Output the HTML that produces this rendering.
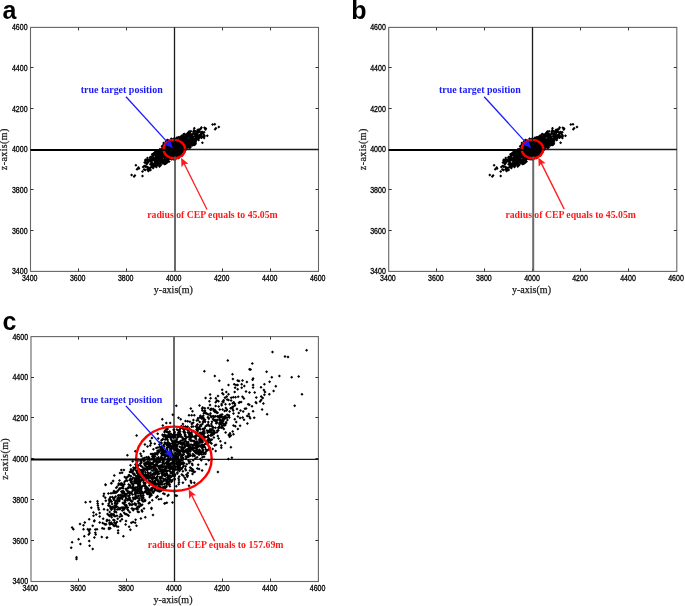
<!DOCTYPE html>
<html><head><meta charset="utf-8"><title>CEP scatter plots</title>
<style>html,body{margin:0;padding:0;background:#fff;}svg{display:block;}</style>
</head><body>
<svg width="685" height="606" viewBox="0 0 685 606">
<rect width="685" height="606" fill="#fff"/>
<g font-family="Liberation Sans, sans-serif" font-weight="bold" font-size="25" fill="#000"><text x="2.6" y="18.8">a</text><text x="351.2" y="18.8">b</text><text x="2.4" y="329.6">c</text></g>
<rect x="30.5" y="27.4" width="288" height="244" fill="none" stroke="#666" stroke-width="1.1"/>
<path d="M78.5 271.4v-3M78.5 27.4v3M30.5 230.5h3M318.5 230.5h-3M126.5 271.4v-3M126.5 27.4v3M30.5 189.5h3M318.5 189.5h-3M174.5 271.4v-3M174.5 27.4v3M30.5 149.5h3M318.5 149.5h-3M222.5 271.4v-3M222.5 27.4v3M30.5 108.5h3M318.5 108.5h-3M270.5 271.4v-3M270.5 27.4v3M30.5 67.5h3M318.5 67.5h-3" stroke="#333" stroke-width="1" fill="none"/>
<g font-family="Liberation Sans, sans-serif" font-size="8.2" fill="#000" stroke="#000" stroke-width="0.3"><text transform="translate(29.7 281) scale(0.86 1)" text-anchor="middle">3400</text><text transform="translate(27.6 274.3) scale(0.86 1)" text-anchor="end">3400</text><text transform="translate(77.7 281) scale(0.86 1)" text-anchor="middle">3600</text><text transform="translate(27.6 233.6) scale(0.86 1)" text-anchor="end">3600</text><text transform="translate(125.7 281) scale(0.86 1)" text-anchor="middle">3800</text><text transform="translate(27.6 193) scale(0.86 1)" text-anchor="end">3800</text><text transform="translate(173.7 281) scale(0.86 1)" text-anchor="middle">4000</text><text transform="translate(27.6 152.3) scale(0.86 1)" text-anchor="end">4000</text><text transform="translate(221.7 281) scale(0.86 1)" text-anchor="middle">4200</text><text transform="translate(27.6 111.6) scale(0.86 1)" text-anchor="end">4200</text><text transform="translate(269.7 281) scale(0.86 1)" text-anchor="middle">4400</text><text transform="translate(27.6 71) scale(0.86 1)" text-anchor="end">4400</text><text transform="translate(317.7 281) scale(0.86 1)" text-anchor="middle">4600</text><text transform="translate(27.6 30.3) scale(0.86 1)" text-anchor="end">4600</text></g>
<text x="173.3" y="292.7" text-anchor="middle" font-family="Liberation Serif, serif" font-size="10" fill="#1a1a1a" stroke="#1a1a1a" stroke-width="0.25" textLength="39" lengthAdjust="spacingAndGlyphs">y-axis(m)</text>
<text transform="translate(7.4 149.4) rotate(-90)" text-anchor="middle" font-family="Liberation Serif, serif" font-size="10" fill="#1a1a1a" stroke="#1a1a1a" stroke-width="0.25" textLength="41.5" lengthAdjust="spacing">z-axis(m)</text>
<line x1="30.5" y1="150" x2="174.5" y2="150" stroke="#000" stroke-width="2"/>
<line x1="174.5" y1="149.5" x2="318.5" y2="149.5" stroke="#1a1a1a" stroke-width="1.3"/>
<line x1="174.5" y1="27.4" x2="174.5" y2="149.4" stroke="#1a1a1a" stroke-width="1.3"/>
<line x1="175" y1="149.4" x2="175" y2="271.4" stroke="#6a6a6a" stroke-width="2"/>
<path fill="#000" d="M174.1 138.9l1.5 1.5-1.5 1.5-1.5-1.5zM175.7 141.4l1.5 1.5-1.5 1.5-1.5-1.5zM181.5 146.2l1.5 1.5-1.5 1.5-1.5-1.5zM171.2 156.8l1.5 1.5-1.5 1.5-1.5-1.5zM179.8 140.6l1.5 1.5-1.5 1.5-1.5-1.5zM181 147.6l1.5 1.5-1.5 1.5-1.5-1.5zM178.2 145.5l1.5 1.5-1.5 1.5-1.5-1.5zM175.1 148l1.5 1.5-1.5 1.5-1.5-1.5zM179.5 141.1l1.5 1.5-1.5 1.5-1.5-1.5zM167.2 156.3l1.5 1.5-1.5 1.5-1.5-1.5zM169.1 144.7l1.5 1.5-1.5 1.5-1.5-1.5zM168.8 152.2l1.5 1.5-1.5 1.5-1.5-1.5zM181 141.9l1.5 1.5-1.5 1.5-1.5-1.5zM173.1 145.1l1.5 1.5-1.5 1.5-1.5-1.5zM169 147.8l1.5 1.5-1.5 1.5-1.5-1.5zM166.8 156.9l1.5 1.5-1.5 1.5-1.5-1.5zM172.9 152.2l1.5 1.5-1.5 1.5-1.5-1.5zM176.5 150.4l1.5 1.5-1.5 1.5-1.5-1.5zM170.1 148.9l1.5 1.5-1.5 1.5-1.5-1.5zM190.9 137.9l1.5 1.5-1.5 1.5-1.5-1.5zM147.2 158.1l1.5 1.5-1.5 1.5-1.5-1.5zM175.9 154.1l1.5 1.5-1.5 1.5-1.5-1.5zM167.5 149l1.5 1.5-1.5 1.5-1.5-1.5zM179.9 149.9l1.5 1.5-1.5 1.5-1.5-1.5zM176.2 144.8l1.5 1.5-1.5 1.5-1.5-1.5zM201.5 131.8l1.5 1.5-1.5 1.5-1.5-1.5zM163.3 160.4l1.5 1.5-1.5 1.5-1.5-1.5zM165.8 145.6l1.5 1.5-1.5 1.5-1.5-1.5zM197.6 128.4l1.5 1.5-1.5 1.5-1.5-1.5zM181.3 141l1.5 1.5-1.5 1.5-1.5-1.5zM170.2 154.8l1.5 1.5-1.5 1.5-1.5-1.5zM151.3 157.6l1.5 1.5-1.5 1.5-1.5-1.5zM173.7 142.7l1.5 1.5-1.5 1.5-1.5-1.5zM178.6 150.7l1.5 1.5-1.5 1.5-1.5-1.5zM168.9 157.2l1.5 1.5-1.5 1.5-1.5-1.5zM171.5 145.6l1.5 1.5-1.5 1.5-1.5-1.5zM164.7 158.1l1.5 1.5-1.5 1.5-1.5-1.5zM168.6 142.5l1.5 1.5-1.5 1.5-1.5-1.5zM176.8 148.7l1.5 1.5-1.5 1.5-1.5-1.5zM169.8 140.7l1.5 1.5-1.5 1.5-1.5-1.5zM171.6 156.5l1.5 1.5-1.5 1.5-1.5-1.5zM182.5 143.9l1.5 1.5-1.5 1.5-1.5-1.5zM183.8 138.4l1.5 1.5-1.5 1.5-1.5-1.5zM181.6 149.5l1.5 1.5-1.5 1.5-1.5-1.5zM180.2 137.5l1.5 1.5-1.5 1.5-1.5-1.5zM169.3 153.3l1.5 1.5-1.5 1.5-1.5-1.5zM184.5 139.6l1.5 1.5-1.5 1.5-1.5-1.5zM161.5 157l1.5 1.5-1.5 1.5-1.5-1.5zM187.2 142.3l1.5 1.5-1.5 1.5-1.5-1.5zM170 142.4l1.5 1.5-1.5 1.5-1.5-1.5zM157.5 156l1.5 1.5-1.5 1.5-1.5-1.5zM164.9 142.9l1.5 1.5-1.5 1.5-1.5-1.5zM175.4 147.8l1.5 1.5-1.5 1.5-1.5-1.5zM175.3 142.2l1.5 1.5-1.5 1.5-1.5-1.5zM159.6 152.3l1.5 1.5-1.5 1.5-1.5-1.5zM156.1 150.7l1.5 1.5-1.5 1.5-1.5-1.5zM178.2 147.9l1.5 1.5-1.5 1.5-1.5-1.5zM166.9 149.3l1.5 1.5-1.5 1.5-1.5-1.5zM176.3 144.5l1.5 1.5-1.5 1.5-1.5-1.5zM150.2 156.1l1.5 1.5-1.5 1.5-1.5-1.5zM176.9 144.8l1.5 1.5-1.5 1.5-1.5-1.5zM193.2 142.6l1.5 1.5-1.5 1.5-1.5-1.5zM168.3 147l1.5 1.5-1.5 1.5-1.5-1.5zM160.8 149.7l1.5 1.5-1.5 1.5-1.5-1.5zM185.8 144.4l1.5 1.5-1.5 1.5-1.5-1.5zM176.3 144l1.5 1.5-1.5 1.5-1.5-1.5zM181.8 135.6l1.5 1.5-1.5 1.5-1.5-1.5zM168.8 148.8l1.5 1.5-1.5 1.5-1.5-1.5zM154.8 158.2l1.5 1.5-1.5 1.5-1.5-1.5zM173.6 149.5l1.5 1.5-1.5 1.5-1.5-1.5zM171.7 155.1l1.5 1.5-1.5 1.5-1.5-1.5zM181.4 137.9l1.5 1.5-1.5 1.5-1.5-1.5zM177.5 147.2l1.5 1.5-1.5 1.5-1.5-1.5zM156 163.5l1.5 1.5-1.5 1.5-1.5-1.5zM186.2 141.7l1.5 1.5-1.5 1.5-1.5-1.5zM185.6 146l1.5 1.5-1.5 1.5-1.5-1.5zM166.8 153.5l1.5 1.5-1.5 1.5-1.5-1.5zM174.5 148l1.5 1.5-1.5 1.5-1.5-1.5zM181.2 145.8l1.5 1.5-1.5 1.5-1.5-1.5zM179.4 142.9l1.5 1.5-1.5 1.5-1.5-1.5zM182.9 137.5l1.5 1.5-1.5 1.5-1.5-1.5zM179.3 148l1.5 1.5-1.5 1.5-1.5-1.5zM172.3 147.3l1.5 1.5-1.5 1.5-1.5-1.5zM172.9 152.1l1.5 1.5-1.5 1.5-1.5-1.5zM185.9 137.1l1.5 1.5-1.5 1.5-1.5-1.5zM145.7 164.9l1.5 1.5-1.5 1.5-1.5-1.5zM173.6 150.1l1.5 1.5-1.5 1.5-1.5-1.5zM174 146.4l1.5 1.5-1.5 1.5-1.5-1.5zM155.7 158l1.5 1.5-1.5 1.5-1.5-1.5zM180.8 148.2l1.5 1.5-1.5 1.5-1.5-1.5zM165.2 151.5l1.5 1.5-1.5 1.5-1.5-1.5zM183.6 138.9l1.5 1.5-1.5 1.5-1.5-1.5zM173.1 149.1l1.5 1.5-1.5 1.5-1.5-1.5zM185.2 145.6l1.5 1.5-1.5 1.5-1.5-1.5zM186.8 134.3l1.5 1.5-1.5 1.5-1.5-1.5zM179.3 144.9l1.5 1.5-1.5 1.5-1.5-1.5zM165.7 157.8l1.5 1.5-1.5 1.5-1.5-1.5zM157.6 162.6l1.5 1.5-1.5 1.5-1.5-1.5zM198.3 136.4l1.5 1.5-1.5 1.5-1.5-1.5zM169.4 143.9l1.5 1.5-1.5 1.5-1.5-1.5zM161.6 147.6l1.5 1.5-1.5 1.5-1.5-1.5zM174.2 143.9l1.5 1.5-1.5 1.5-1.5-1.5zM175.9 154.5l1.5 1.5-1.5 1.5-1.5-1.5zM187 143.5l1.5 1.5-1.5 1.5-1.5-1.5zM170.8 142.1l1.5 1.5-1.5 1.5-1.5-1.5zM172.1 144.3l1.5 1.5-1.5 1.5-1.5-1.5zM164.3 152l1.5 1.5-1.5 1.5-1.5-1.5zM178.1 141.1l1.5 1.5-1.5 1.5-1.5-1.5zM161.8 156.4l1.5 1.5-1.5 1.5-1.5-1.5zM182.1 141.6l1.5 1.5-1.5 1.5-1.5-1.5zM193 135l1.5 1.5-1.5 1.5-1.5-1.5zM157 162.1l1.5 1.5-1.5 1.5-1.5-1.5zM183.8 145.1l1.5 1.5-1.5 1.5-1.5-1.5zM205.8 126.9l1.5 1.5-1.5 1.5-1.5-1.5zM164.4 159.1l1.5 1.5-1.5 1.5-1.5-1.5zM165.1 156.1l1.5 1.5-1.5 1.5-1.5-1.5zM165.5 148.4l1.5 1.5-1.5 1.5-1.5-1.5zM172.8 154.2l1.5 1.5-1.5 1.5-1.5-1.5zM173.3 156.3l1.5 1.5-1.5 1.5-1.5-1.5zM179.2 147.3l1.5 1.5-1.5 1.5-1.5-1.5zM173.8 151.3l1.5 1.5-1.5 1.5-1.5-1.5zM173.6 154.5l1.5 1.5-1.5 1.5-1.5-1.5zM160.8 153.1l1.5 1.5-1.5 1.5-1.5-1.5zM171.1 143.2l1.5 1.5-1.5 1.5-1.5-1.5zM158.7 154.5l1.5 1.5-1.5 1.5-1.5-1.5zM161.5 157.5l1.5 1.5-1.5 1.5-1.5-1.5zM192.7 136.2l1.5 1.5-1.5 1.5-1.5-1.5zM175.4 150.4l1.5 1.5-1.5 1.5-1.5-1.5zM171.7 145.5l1.5 1.5-1.5 1.5-1.5-1.5zM179.4 141.8l1.5 1.5-1.5 1.5-1.5-1.5zM168.2 149.9l1.5 1.5-1.5 1.5-1.5-1.5zM168.5 145.5l1.5 1.5-1.5 1.5-1.5-1.5zM181.5 146.7l1.5 1.5-1.5 1.5-1.5-1.5zM179.2 147.1l1.5 1.5-1.5 1.5-1.5-1.5zM158.5 155.1l1.5 1.5-1.5 1.5-1.5-1.5zM183.7 139.6l1.5 1.5-1.5 1.5-1.5-1.5zM168.2 154l1.5 1.5-1.5 1.5-1.5-1.5zM158.8 153l1.5 1.5-1.5 1.5-1.5-1.5zM160.7 151.7l1.5 1.5-1.5 1.5-1.5-1.5zM169.2 150.4l1.5 1.5-1.5 1.5-1.5-1.5zM196.4 137l1.5 1.5-1.5 1.5-1.5-1.5zM160.6 158.3l1.5 1.5-1.5 1.5-1.5-1.5zM172.4 141.2l1.5 1.5-1.5 1.5-1.5-1.5zM148.8 166.3l1.5 1.5-1.5 1.5-1.5-1.5zM169.3 141l1.5 1.5-1.5 1.5-1.5-1.5zM187.4 142.9l1.5 1.5-1.5 1.5-1.5-1.5zM176.1 155.9l1.5 1.5-1.5 1.5-1.5-1.5zM164.1 149.6l1.5 1.5-1.5 1.5-1.5-1.5zM177.1 145.7l1.5 1.5-1.5 1.5-1.5-1.5zM185.2 144.9l1.5 1.5-1.5 1.5-1.5-1.5zM183.7 143.8l1.5 1.5-1.5 1.5-1.5-1.5zM201.2 134.9l1.5 1.5-1.5 1.5-1.5-1.5zM175.1 143.6l1.5 1.5-1.5 1.5-1.5-1.5zM170.5 157.1l1.5 1.5-1.5 1.5-1.5-1.5zM176.1 153.2l1.5 1.5-1.5 1.5-1.5-1.5zM169.7 143.3l1.5 1.5-1.5 1.5-1.5-1.5zM174.3 144.9l1.5 1.5-1.5 1.5-1.5-1.5zM174.8 149l1.5 1.5-1.5 1.5-1.5-1.5zM172 140.3l1.5 1.5-1.5 1.5-1.5-1.5zM154.2 162l1.5 1.5-1.5 1.5-1.5-1.5zM169.3 155.1l1.5 1.5-1.5 1.5-1.5-1.5zM158.2 155l1.5 1.5-1.5 1.5-1.5-1.5zM182.2 142.4l1.5 1.5-1.5 1.5-1.5-1.5zM187.1 132.3l1.5 1.5-1.5 1.5-1.5-1.5zM179 141.8l1.5 1.5-1.5 1.5-1.5-1.5zM175 144.6l1.5 1.5-1.5 1.5-1.5-1.5zM160.2 151.8l1.5 1.5-1.5 1.5-1.5-1.5zM182.7 137.2l1.5 1.5-1.5 1.5-1.5-1.5zM161.4 158.5l1.5 1.5-1.5 1.5-1.5-1.5zM165.9 155.6l1.5 1.5-1.5 1.5-1.5-1.5zM174.8 146.2l1.5 1.5-1.5 1.5-1.5-1.5zM182.1 153.9l1.5 1.5-1.5 1.5-1.5-1.5zM167.5 149.9l1.5 1.5-1.5 1.5-1.5-1.5zM189.4 137.5l1.5 1.5-1.5 1.5-1.5-1.5zM188.4 142.7l1.5 1.5-1.5 1.5-1.5-1.5zM178 151.5l1.5 1.5-1.5 1.5-1.5-1.5zM152.7 158.6l1.5 1.5-1.5 1.5-1.5-1.5zM183.6 132.8l1.5 1.5-1.5 1.5-1.5-1.5zM177.9 148.3l1.5 1.5-1.5 1.5-1.5-1.5zM180.5 142.3l1.5 1.5-1.5 1.5-1.5-1.5zM160.9 156l1.5 1.5-1.5 1.5-1.5-1.5zM199.5 136.1l1.5 1.5-1.5 1.5-1.5-1.5zM198.6 130.3l1.5 1.5-1.5 1.5-1.5-1.5zM165.5 162.2l1.5 1.5-1.5 1.5-1.5-1.5zM181.3 147.7l1.5 1.5-1.5 1.5-1.5-1.5zM164.7 151.4l1.5 1.5-1.5 1.5-1.5-1.5zM173.9 147.7l1.5 1.5-1.5 1.5-1.5-1.5zM172.6 152.7l1.5 1.5-1.5 1.5-1.5-1.5zM178.2 140.4l1.5 1.5-1.5 1.5-1.5-1.5zM164.5 150.6l1.5 1.5-1.5 1.5-1.5-1.5zM171.1 149.3l1.5 1.5-1.5 1.5-1.5-1.5zM171.4 157.6l1.5 1.5-1.5 1.5-1.5-1.5zM170.5 145.9l1.5 1.5-1.5 1.5-1.5-1.5zM158 154.8l1.5 1.5-1.5 1.5-1.5-1.5zM171.8 155l1.5 1.5-1.5 1.5-1.5-1.5zM168.7 145.3l1.5 1.5-1.5 1.5-1.5-1.5zM172.1 153l1.5 1.5-1.5 1.5-1.5-1.5zM171.7 142.8l1.5 1.5-1.5 1.5-1.5-1.5zM170.2 149.4l1.5 1.5-1.5 1.5-1.5-1.5zM185.8 144.4l1.5 1.5-1.5 1.5-1.5-1.5zM163.7 141.4l1.5 1.5-1.5 1.5-1.5-1.5zM168.2 142.8l1.5 1.5-1.5 1.5-1.5-1.5zM163.5 149.6l1.5 1.5-1.5 1.5-1.5-1.5zM170.5 155.5l1.5 1.5-1.5 1.5-1.5-1.5zM159.1 158.5l1.5 1.5-1.5 1.5-1.5-1.5zM179.5 141.8l1.5 1.5-1.5 1.5-1.5-1.5zM161.2 158.3l1.5 1.5-1.5 1.5-1.5-1.5zM166.8 156l1.5 1.5-1.5 1.5-1.5-1.5zM177.8 143.5l1.5 1.5-1.5 1.5-1.5-1.5zM178.9 143.8l1.5 1.5-1.5 1.5-1.5-1.5zM173.4 156.3l1.5 1.5-1.5 1.5-1.5-1.5zM145.3 158.7l1.5 1.5-1.5 1.5-1.5-1.5zM179.9 144.8l1.5 1.5-1.5 1.5-1.5-1.5zM171.3 137.3l1.5 1.5-1.5 1.5-1.5-1.5zM156.1 158.1l1.5 1.5-1.5 1.5-1.5-1.5zM185.1 143l1.5 1.5-1.5 1.5-1.5-1.5zM167.6 155.9l1.5 1.5-1.5 1.5-1.5-1.5zM157.7 153.2l1.5 1.5-1.5 1.5-1.5-1.5zM176.8 148.7l1.5 1.5-1.5 1.5-1.5-1.5zM171.8 148.7l1.5 1.5-1.5 1.5-1.5-1.5zM173.8 141.9l1.5 1.5-1.5 1.5-1.5-1.5zM197.5 133.9l1.5 1.5-1.5 1.5-1.5-1.5zM167.4 153.3l1.5 1.5-1.5 1.5-1.5-1.5zM154.7 159.4l1.5 1.5-1.5 1.5-1.5-1.5zM185.9 147.9l1.5 1.5-1.5 1.5-1.5-1.5zM165.5 144.6l1.5 1.5-1.5 1.5-1.5-1.5zM176.8 142.9l1.5 1.5-1.5 1.5-1.5-1.5zM174.2 155.8l1.5 1.5-1.5 1.5-1.5-1.5zM177.5 153.4l1.5 1.5-1.5 1.5-1.5-1.5zM179.8 148.9l1.5 1.5-1.5 1.5-1.5-1.5zM168.6 151.7l1.5 1.5-1.5 1.5-1.5-1.5zM162.6 153.4l1.5 1.5-1.5 1.5-1.5-1.5zM179 151.9l1.5 1.5-1.5 1.5-1.5-1.5zM181.3 146.1l1.5 1.5-1.5 1.5-1.5-1.5zM166.7 143.1l1.5 1.5-1.5 1.5-1.5-1.5zM159.5 149.1l1.5 1.5-1.5 1.5-1.5-1.5zM150.1 158.7l1.5 1.5-1.5 1.5-1.5-1.5zM161 155.3l1.5 1.5-1.5 1.5-1.5-1.5zM171.5 142.9l1.5 1.5-1.5 1.5-1.5-1.5zM160.5 162.8l1.5 1.5-1.5 1.5-1.5-1.5zM174.6 147.4l1.5 1.5-1.5 1.5-1.5-1.5zM171.6 145.4l1.5 1.5-1.5 1.5-1.5-1.5zM189.9 146.3l1.5 1.5-1.5 1.5-1.5-1.5zM162.6 154.6l1.5 1.5-1.5 1.5-1.5-1.5zM166.5 152.6l1.5 1.5-1.5 1.5-1.5-1.5zM177.6 143.8l1.5 1.5-1.5 1.5-1.5-1.5zM144.1 168l1.5 1.5-1.5 1.5-1.5-1.5zM163.2 150.1l1.5 1.5-1.5 1.5-1.5-1.5zM168.3 157.6l1.5 1.5-1.5 1.5-1.5-1.5zM188.4 145.2l1.5 1.5-1.5 1.5-1.5-1.5zM177.5 152.9l1.5 1.5-1.5 1.5-1.5-1.5zM150.8 160.2l1.5 1.5-1.5 1.5-1.5-1.5zM182.6 143.2l1.5 1.5-1.5 1.5-1.5-1.5zM183.4 138.8l1.5 1.5-1.5 1.5-1.5-1.5zM167.6 149.8l1.5 1.5-1.5 1.5-1.5-1.5zM173 152.8l1.5 1.5-1.5 1.5-1.5-1.5zM182.4 146.4l1.5 1.5-1.5 1.5-1.5-1.5zM160.7 151.9l1.5 1.5-1.5 1.5-1.5-1.5zM177.9 141.6l1.5 1.5-1.5 1.5-1.5-1.5zM181.3 152l1.5 1.5-1.5 1.5-1.5-1.5zM167.2 154.9l1.5 1.5-1.5 1.5-1.5-1.5zM153.6 154.3l1.5 1.5-1.5 1.5-1.5-1.5zM173.6 152.2l1.5 1.5-1.5 1.5-1.5-1.5zM162.6 153.6l1.5 1.5-1.5 1.5-1.5-1.5zM190.4 144.5l1.5 1.5-1.5 1.5-1.5-1.5zM172.8 142.1l1.5 1.5-1.5 1.5-1.5-1.5zM185.8 143.7l1.5 1.5-1.5 1.5-1.5-1.5zM177.7 148.9l1.5 1.5-1.5 1.5-1.5-1.5zM176.5 144.1l1.5 1.5-1.5 1.5-1.5-1.5zM164.6 154l1.5 1.5-1.5 1.5-1.5-1.5zM182.3 141.9l1.5 1.5-1.5 1.5-1.5-1.5zM194 129.9l1.5 1.5-1.5 1.5-1.5-1.5zM170.4 150l1.5 1.5-1.5 1.5-1.5-1.5zM166.3 151.6l1.5 1.5-1.5 1.5-1.5-1.5zM167.5 142.4l1.5 1.5-1.5 1.5-1.5-1.5zM168.5 151.7l1.5 1.5-1.5 1.5-1.5-1.5zM165.7 153.5l1.5 1.5-1.5 1.5-1.5-1.5zM173.2 142.8l1.5 1.5-1.5 1.5-1.5-1.5zM174.4 155l1.5 1.5-1.5 1.5-1.5-1.5zM189.5 132.4l1.5 1.5-1.5 1.5-1.5-1.5zM174.8 148.3l1.5 1.5-1.5 1.5-1.5-1.5zM180.7 148.2l1.5 1.5-1.5 1.5-1.5-1.5zM188.3 142.8l1.5 1.5-1.5 1.5-1.5-1.5zM172.7 152.9l1.5 1.5-1.5 1.5-1.5-1.5zM191 134.5l1.5 1.5-1.5 1.5-1.5-1.5zM168 154.8l1.5 1.5-1.5 1.5-1.5-1.5zM171.7 153.2l1.5 1.5-1.5 1.5-1.5-1.5zM170.8 145.8l1.5 1.5-1.5 1.5-1.5-1.5zM156.8 158.8l1.5 1.5-1.5 1.5-1.5-1.5zM176.1 150.9l1.5 1.5-1.5 1.5-1.5-1.5zM156 164.3l1.5 1.5-1.5 1.5-1.5-1.5zM189.2 133.2l1.5 1.5-1.5 1.5-1.5-1.5zM175.3 150.9l1.5 1.5-1.5 1.5-1.5-1.5zM164.2 150l1.5 1.5-1.5 1.5-1.5-1.5zM170.4 151.9l1.5 1.5-1.5 1.5-1.5-1.5zM174.4 153.3l1.5 1.5-1.5 1.5-1.5-1.5zM161.7 156.6l1.5 1.5-1.5 1.5-1.5-1.5zM162 153.9l1.5 1.5-1.5 1.5-1.5-1.5zM173.5 151.1l1.5 1.5-1.5 1.5-1.5-1.5zM166.5 150l1.5 1.5-1.5 1.5-1.5-1.5zM183.3 136.5l1.5 1.5-1.5 1.5-1.5-1.5zM189.2 139.5l1.5 1.5-1.5 1.5-1.5-1.5zM178.5 152.8l1.5 1.5-1.5 1.5-1.5-1.5zM177.7 140.4l1.5 1.5-1.5 1.5-1.5-1.5zM159.2 160.4l1.5 1.5-1.5 1.5-1.5-1.5zM183 143.5l1.5 1.5-1.5 1.5-1.5-1.5zM170.7 143.6l1.5 1.5-1.5 1.5-1.5-1.5zM180.5 144l1.5 1.5-1.5 1.5-1.5-1.5zM196.1 137.2l1.5 1.5-1.5 1.5-1.5-1.5zM145.2 165.1l1.5 1.5-1.5 1.5-1.5-1.5zM181.9 151.3l1.5 1.5-1.5 1.5-1.5-1.5zM161.4 157.6l1.5 1.5-1.5 1.5-1.5-1.5zM155.9 155.4l1.5 1.5-1.5 1.5-1.5-1.5zM169.5 153.5l1.5 1.5-1.5 1.5-1.5-1.5zM177.2 146.5l1.5 1.5-1.5 1.5-1.5-1.5zM179.3 139.1l1.5 1.5-1.5 1.5-1.5-1.5zM172.9 144l1.5 1.5-1.5 1.5-1.5-1.5zM163.1 152.3l1.5 1.5-1.5 1.5-1.5-1.5zM164.6 148.3l1.5 1.5-1.5 1.5-1.5-1.5zM183.9 138.6l1.5 1.5-1.5 1.5-1.5-1.5zM174.5 148l1.5 1.5-1.5 1.5-1.5-1.5zM150.3 157.2l1.5 1.5-1.5 1.5-1.5-1.5zM181.2 136l1.5 1.5-1.5 1.5-1.5-1.5zM180.8 146.1l1.5 1.5-1.5 1.5-1.5-1.5zM185.2 140.6l1.5 1.5-1.5 1.5-1.5-1.5zM175.2 157.1l1.5 1.5-1.5 1.5-1.5-1.5zM188.1 145.6l1.5 1.5-1.5 1.5-1.5-1.5zM160.2 155l1.5 1.5-1.5 1.5-1.5-1.5zM183.4 145.7l1.5 1.5-1.5 1.5-1.5-1.5zM167.3 150.4l1.5 1.5-1.5 1.5-1.5-1.5zM184.3 144.3l1.5 1.5-1.5 1.5-1.5-1.5zM188.3 141.6l1.5 1.5-1.5 1.5-1.5-1.5zM165 153.4l1.5 1.5-1.5 1.5-1.5-1.5zM175.8 150.9l1.5 1.5-1.5 1.5-1.5-1.5zM172.9 144.8l1.5 1.5-1.5 1.5-1.5-1.5zM192.5 142.5l1.5 1.5-1.5 1.5-1.5-1.5zM183.7 142.7l1.5 1.5-1.5 1.5-1.5-1.5zM154.4 151.2l1.5 1.5-1.5 1.5-1.5-1.5zM180.1 144.1l1.5 1.5-1.5 1.5-1.5-1.5zM186.3 145.2l1.5 1.5-1.5 1.5-1.5-1.5zM204.1 135l1.5 1.5-1.5 1.5-1.5-1.5zM150.6 157.4l1.5 1.5-1.5 1.5-1.5-1.5zM165.3 148.9l1.5 1.5-1.5 1.5-1.5-1.5zM194.3 141.4l1.5 1.5-1.5 1.5-1.5-1.5zM158.7 160.2l1.5 1.5-1.5 1.5-1.5-1.5zM184 147.8l1.5 1.5-1.5 1.5-1.5-1.5zM183.1 134.2l1.5 1.5-1.5 1.5-1.5-1.5zM165.1 151.8l1.5 1.5-1.5 1.5-1.5-1.5zM183.7 146.8l1.5 1.5-1.5 1.5-1.5-1.5zM176.8 148.1l1.5 1.5-1.5 1.5-1.5-1.5zM195.6 138.6l1.5 1.5-1.5 1.5-1.5-1.5zM175.6 149.4l1.5 1.5-1.5 1.5-1.5-1.5zM186.3 139.3l1.5 1.5-1.5 1.5-1.5-1.5zM168.7 144.7l1.5 1.5-1.5 1.5-1.5-1.5zM171.8 146.7l1.5 1.5-1.5 1.5-1.5-1.5zM192.1 143.2l1.5 1.5-1.5 1.5-1.5-1.5zM183.7 141.1l1.5 1.5-1.5 1.5-1.5-1.5zM171.3 146.3l1.5 1.5-1.5 1.5-1.5-1.5zM175 154.9l1.5 1.5-1.5 1.5-1.5-1.5zM168.1 144.2l1.5 1.5-1.5 1.5-1.5-1.5zM181.7 151.7l1.5 1.5-1.5 1.5-1.5-1.5zM165.8 157.7l1.5 1.5-1.5 1.5-1.5-1.5zM179.8 136.7l1.5 1.5-1.5 1.5-1.5-1.5zM160.4 162.9l1.5 1.5-1.5 1.5-1.5-1.5zM167.7 150.6l1.5 1.5-1.5 1.5-1.5-1.5zM197.5 129.5l1.5 1.5-1.5 1.5-1.5-1.5zM151.8 157.1l1.5 1.5-1.5 1.5-1.5-1.5zM184.4 147.2l1.5 1.5-1.5 1.5-1.5-1.5zM187.9 142.5l1.5 1.5-1.5 1.5-1.5-1.5zM178 143.3l1.5 1.5-1.5 1.5-1.5-1.5zM188.7 137.8l1.5 1.5-1.5 1.5-1.5-1.5zM147.5 168.1l1.5 1.5-1.5 1.5-1.5-1.5zM162.8 161.7l1.5 1.5-1.5 1.5-1.5-1.5zM174.5 156l1.5 1.5-1.5 1.5-1.5-1.5zM159.6 157.1l1.5 1.5-1.5 1.5-1.5-1.5zM187.4 139.1l1.5 1.5-1.5 1.5-1.5-1.5zM164.7 152.6l1.5 1.5-1.5 1.5-1.5-1.5zM188.4 144.2l1.5 1.5-1.5 1.5-1.5-1.5zM175.7 146.5l1.5 1.5-1.5 1.5-1.5-1.5zM166.3 140.4l1.5 1.5-1.5 1.5-1.5-1.5zM177 149.8l1.5 1.5-1.5 1.5-1.5-1.5zM174.7 153.2l1.5 1.5-1.5 1.5-1.5-1.5zM181.1 141.5l1.5 1.5-1.5 1.5-1.5-1.5zM176.3 142.7l1.5 1.5-1.5 1.5-1.5-1.5zM167.6 147.3l1.5 1.5-1.5 1.5-1.5-1.5zM185.8 138.1l1.5 1.5-1.5 1.5-1.5-1.5zM163.3 148l1.5 1.5-1.5 1.5-1.5-1.5zM172.4 138l1.5 1.5-1.5 1.5-1.5-1.5zM174.1 137l1.5 1.5-1.5 1.5-1.5-1.5zM190.6 133l1.5 1.5-1.5 1.5-1.5-1.5zM166.6 149.9l1.5 1.5-1.5 1.5-1.5-1.5zM178.8 149.4l1.5 1.5-1.5 1.5-1.5-1.5zM176.4 155.2l1.5 1.5-1.5 1.5-1.5-1.5zM167.5 155.2l1.5 1.5-1.5 1.5-1.5-1.5zM181.7 143.1l1.5 1.5-1.5 1.5-1.5-1.5zM172.5 144l1.5 1.5-1.5 1.5-1.5-1.5zM163.9 160.9l1.5 1.5-1.5 1.5-1.5-1.5zM167.8 152.7l1.5 1.5-1.5 1.5-1.5-1.5zM187.8 138.8l1.5 1.5-1.5 1.5-1.5-1.5zM195.6 142.2l1.5 1.5-1.5 1.5-1.5-1.5zM188.8 145.5l1.5 1.5-1.5 1.5-1.5-1.5zM179.5 145.7l1.5 1.5-1.5 1.5-1.5-1.5zM172.5 155.8l1.5 1.5-1.5 1.5-1.5-1.5zM175.1 147.4l1.5 1.5-1.5 1.5-1.5-1.5zM185.6 141l1.5 1.5-1.5 1.5-1.5-1.5zM199 128l1.5 1.5-1.5 1.5-1.5-1.5zM189.6 145.5l1.5 1.5-1.5 1.5-1.5-1.5zM174.8 155.2l1.5 1.5-1.5 1.5-1.5-1.5zM170.2 154.1l1.5 1.5-1.5 1.5-1.5-1.5zM159.9 147.8l1.5 1.5-1.5 1.5-1.5-1.5zM172.6 149.9l1.5 1.5-1.5 1.5-1.5-1.5zM178.3 148.2l1.5 1.5-1.5 1.5-1.5-1.5zM172.4 143.9l1.5 1.5-1.5 1.5-1.5-1.5zM193.8 140.2l1.5 1.5-1.5 1.5-1.5-1.5zM198.6 136.4l1.5 1.5-1.5 1.5-1.5-1.5zM173.2 144.2l1.5 1.5-1.5 1.5-1.5-1.5zM196.2 137.1l1.5 1.5-1.5 1.5-1.5-1.5zM182.2 140.5l1.5 1.5-1.5 1.5-1.5-1.5zM170.1 152.3l1.5 1.5-1.5 1.5-1.5-1.5zM178.5 146.6l1.5 1.5-1.5 1.5-1.5-1.5zM173.9 146.6l1.5 1.5-1.5 1.5-1.5-1.5zM172 150.3l1.5 1.5-1.5 1.5-1.5-1.5zM176.3 155.1l1.5 1.5-1.5 1.5-1.5-1.5zM176 146.4l1.5 1.5-1.5 1.5-1.5-1.5zM183.4 149l1.5 1.5-1.5 1.5-1.5-1.5zM164.1 155.9l1.5 1.5-1.5 1.5-1.5-1.5zM175.8 149.9l1.5 1.5-1.5 1.5-1.5-1.5zM157.9 163.3l1.5 1.5-1.5 1.5-1.5-1.5zM171.8 137.9l1.5 1.5-1.5 1.5-1.5-1.5zM172.8 141.6l1.5 1.5-1.5 1.5-1.5-1.5zM182.3 151.2l1.5 1.5-1.5 1.5-1.5-1.5zM183.9 145.8l1.5 1.5-1.5 1.5-1.5-1.5zM162.9 148.9l1.5 1.5-1.5 1.5-1.5-1.5zM171.3 149.5l1.5 1.5-1.5 1.5-1.5-1.5zM180.6 143.4l1.5 1.5-1.5 1.5-1.5-1.5zM177.6 142.3l1.5 1.5-1.5 1.5-1.5-1.5zM172.6 147.7l1.5 1.5-1.5 1.5-1.5-1.5zM187.4 140.5l1.5 1.5-1.5 1.5-1.5-1.5zM191 138.7l1.5 1.5-1.5 1.5-1.5-1.5zM167.5 141.8l1.5 1.5-1.5 1.5-1.5-1.5zM157.6 154.6l1.5 1.5-1.5 1.5-1.5-1.5zM175 144.5l1.5 1.5-1.5 1.5-1.5-1.5zM177.3 145l1.5 1.5-1.5 1.5-1.5-1.5zM177.6 147.7l1.5 1.5-1.5 1.5-1.5-1.5zM172.6 154.7l1.5 1.5-1.5 1.5-1.5-1.5zM181.2 143.1l1.5 1.5-1.5 1.5-1.5-1.5zM150.1 168l1.5 1.5-1.5 1.5-1.5-1.5zM172.8 140l1.5 1.5-1.5 1.5-1.5-1.5zM179 153.3l1.5 1.5-1.5 1.5-1.5-1.5zM160.4 162.8l1.5 1.5-1.5 1.5-1.5-1.5zM204.6 134.4l1.5 1.5-1.5 1.5-1.5-1.5zM156.3 157.9l1.5 1.5-1.5 1.5-1.5-1.5zM158.3 152.8l1.5 1.5-1.5 1.5-1.5-1.5zM157.8 155.2l1.5 1.5-1.5 1.5-1.5-1.5zM188.9 139.8l1.5 1.5-1.5 1.5-1.5-1.5zM184.8 145.1l1.5 1.5-1.5 1.5-1.5-1.5zM182.6 144.2l1.5 1.5-1.5 1.5-1.5-1.5zM174.9 142.1l1.5 1.5-1.5 1.5-1.5-1.5zM160.7 161.7l1.5 1.5-1.5 1.5-1.5-1.5zM165.2 150.6l1.5 1.5-1.5 1.5-1.5-1.5zM197.8 137.8l1.5 1.5-1.5 1.5-1.5-1.5zM160.2 160.6l1.5 1.5-1.5 1.5-1.5-1.5zM163.7 154l1.5 1.5-1.5 1.5-1.5-1.5zM173.1 150.1l1.5 1.5-1.5 1.5-1.5-1.5zM184.8 141.7l1.5 1.5-1.5 1.5-1.5-1.5zM178.1 146.5l1.5 1.5-1.5 1.5-1.5-1.5zM181.4 138.9l1.5 1.5-1.5 1.5-1.5-1.5zM157.9 152.1l1.5 1.5-1.5 1.5-1.5-1.5zM190.4 145.8l1.5 1.5-1.5 1.5-1.5-1.5zM177.1 137.4l1.5 1.5-1.5 1.5-1.5-1.5zM192 133.3l1.5 1.5-1.5 1.5-1.5-1.5zM204.1 130.8l1.5 1.5-1.5 1.5-1.5-1.5zM176.4 149.1l1.5 1.5-1.5 1.5-1.5-1.5zM192.1 136.9l1.5 1.5-1.5 1.5-1.5-1.5zM158.1 162.5l1.5 1.5-1.5 1.5-1.5-1.5zM147.7 161.2l1.5 1.5-1.5 1.5-1.5-1.5zM153.6 152l1.5 1.5-1.5 1.5-1.5-1.5zM168.4 153.7l1.5 1.5-1.5 1.5-1.5-1.5zM164.3 148.5l1.5 1.5-1.5 1.5-1.5-1.5zM185.5 147.6l1.5 1.5-1.5 1.5-1.5-1.5zM176.3 143.7l1.5 1.5-1.5 1.5-1.5-1.5zM182.7 144.8l1.5 1.5-1.5 1.5-1.5-1.5zM199.4 134.9l1.5 1.5-1.5 1.5-1.5-1.5zM186.6 134.6l1.5 1.5-1.5 1.5-1.5-1.5zM184.2 136.4l1.5 1.5-1.5 1.5-1.5-1.5zM174.9 147.9l1.5 1.5-1.5 1.5-1.5-1.5zM186.6 139.8l1.5 1.5-1.5 1.5-1.5-1.5zM161.6 154.5l1.5 1.5-1.5 1.5-1.5-1.5zM181.2 138.4l1.5 1.5-1.5 1.5-1.5-1.5zM171.2 145.6l1.5 1.5-1.5 1.5-1.5-1.5zM188.4 138.5l1.5 1.5-1.5 1.5-1.5-1.5zM182.9 147.6l1.5 1.5-1.5 1.5-1.5-1.5zM164.9 161.9l1.5 1.5-1.5 1.5-1.5-1.5zM189.1 137.3l1.5 1.5-1.5 1.5-1.5-1.5zM165.1 149.1l1.5 1.5-1.5 1.5-1.5-1.5zM161.4 149.3l1.5 1.5-1.5 1.5-1.5-1.5zM154.9 158.7l1.5 1.5-1.5 1.5-1.5-1.5zM185.8 139.2l1.5 1.5-1.5 1.5-1.5-1.5zM195 142.9l1.5 1.5-1.5 1.5-1.5-1.5zM184.6 141.7l1.5 1.5-1.5 1.5-1.5-1.5zM181.4 151.1l1.5 1.5-1.5 1.5-1.5-1.5zM171.8 145.6l1.5 1.5-1.5 1.5-1.5-1.5zM181.6 151.4l1.5 1.5-1.5 1.5-1.5-1.5zM161.5 148.6l1.5 1.5-1.5 1.5-1.5-1.5zM186.2 141.4l1.5 1.5-1.5 1.5-1.5-1.5zM185.9 137.4l1.5 1.5-1.5 1.5-1.5-1.5zM185.3 139.3l1.5 1.5-1.5 1.5-1.5-1.5zM171.9 157.5l1.5 1.5-1.5 1.5-1.5-1.5zM179.5 152.6l1.5 1.5-1.5 1.5-1.5-1.5zM168.8 144.3l1.5 1.5-1.5 1.5-1.5-1.5zM196.5 133.2l1.5 1.5-1.5 1.5-1.5-1.5zM174 142.9l1.5 1.5-1.5 1.5-1.5-1.5zM177.3 141.8l1.5 1.5-1.5 1.5-1.5-1.5zM183.8 143.4l1.5 1.5-1.5 1.5-1.5-1.5zM187.9 144.1l1.5 1.5-1.5 1.5-1.5-1.5zM174.1 146.5l1.5 1.5-1.5 1.5-1.5-1.5zM148 161.1l1.5 1.5-1.5 1.5-1.5-1.5zM149.4 159.1l1.5 1.5-1.5 1.5-1.5-1.5zM155.3 153l1.5 1.5-1.5 1.5-1.5-1.5zM169.9 144.8l1.5 1.5-1.5 1.5-1.5-1.5zM174.2 139.9l1.5 1.5-1.5 1.5-1.5-1.5zM184.6 144.4l1.5 1.5-1.5 1.5-1.5-1.5zM171.9 152.8l1.5 1.5-1.5 1.5-1.5-1.5zM185.4 138.8l1.5 1.5-1.5 1.5-1.5-1.5zM167.9 146.1l1.5 1.5-1.5 1.5-1.5-1.5zM164 151.2l1.5 1.5-1.5 1.5-1.5-1.5zM184.6 140.3l1.5 1.5-1.5 1.5-1.5-1.5zM163.7 159.6l1.5 1.5-1.5 1.5-1.5-1.5zM177.1 149.1l1.5 1.5-1.5 1.5-1.5-1.5zM166.8 146.5l1.5 1.5-1.5 1.5-1.5-1.5zM174.4 156l1.5 1.5-1.5 1.5-1.5-1.5zM158.4 161.6l1.5 1.5-1.5 1.5-1.5-1.5zM153.6 156.6l1.5 1.5-1.5 1.5-1.5-1.5zM169.3 152.4l1.5 1.5-1.5 1.5-1.5-1.5zM165.6 149.5l1.5 1.5-1.5 1.5-1.5-1.5zM194.4 143.3l1.5 1.5-1.5 1.5-1.5-1.5zM179.4 145.1l1.5 1.5-1.5 1.5-1.5-1.5zM152.6 157.6l1.5 1.5-1.5 1.5-1.5-1.5zM161.1 151.1l1.5 1.5-1.5 1.5-1.5-1.5zM183.3 142.2l1.5 1.5-1.5 1.5-1.5-1.5zM199.4 134.4l1.5 1.5-1.5 1.5-1.5-1.5zM179.7 145.3l1.5 1.5-1.5 1.5-1.5-1.5zM176.7 143.1l1.5 1.5-1.5 1.5-1.5-1.5zM196.6 131.5l1.5 1.5-1.5 1.5-1.5-1.5zM176.3 150.8l1.5 1.5-1.5 1.5-1.5-1.5zM172.7 153.1l1.5 1.5-1.5 1.5-1.5-1.5zM155.4 157.3l1.5 1.5-1.5 1.5-1.5-1.5zM171.1 156l1.5 1.5-1.5 1.5-1.5-1.5zM203.8 133.3l1.5 1.5-1.5 1.5-1.5-1.5zM172.9 145.5l1.5 1.5-1.5 1.5-1.5-1.5zM157.4 159.8l1.5 1.5-1.5 1.5-1.5-1.5zM177.7 149l1.5 1.5-1.5 1.5-1.5-1.5zM188.3 144.4l1.5 1.5-1.5 1.5-1.5-1.5zM174.6 154l1.5 1.5-1.5 1.5-1.5-1.5zM184.9 143.8l1.5 1.5-1.5 1.5-1.5-1.5zM181.5 139.5l1.5 1.5-1.5 1.5-1.5-1.5zM177.3 140.6l1.5 1.5-1.5 1.5-1.5-1.5zM194.4 132.2l1.5 1.5-1.5 1.5-1.5-1.5zM169.6 148.9l1.5 1.5-1.5 1.5-1.5-1.5zM168 156l1.5 1.5-1.5 1.5-1.5-1.5zM162.9 153.2l1.5 1.5-1.5 1.5-1.5-1.5zM181 144.8l1.5 1.5-1.5 1.5-1.5-1.5zM171.3 151.7l1.5 1.5-1.5 1.5-1.5-1.5zM199.1 135.2l1.5 1.5-1.5 1.5-1.5-1.5zM171.8 149.5l1.5 1.5-1.5 1.5-1.5-1.5zM168.6 148.2l1.5 1.5-1.5 1.5-1.5-1.5zM196.6 135.7l1.5 1.5-1.5 1.5-1.5-1.5zM152.7 165.2l1.5 1.5-1.5 1.5-1.5-1.5zM163.7 144.7l1.5 1.5-1.5 1.5-1.5-1.5zM181.8 134.2l1.5 1.5-1.5 1.5-1.5-1.5zM163.5 155.7l1.5 1.5-1.5 1.5-1.5-1.5zM172.5 156.9l1.5 1.5-1.5 1.5-1.5-1.5zM177.9 136.2l1.5 1.5-1.5 1.5-1.5-1.5zM173.8 143.6l1.5 1.5-1.5 1.5-1.5-1.5zM176.8 136.3l1.5 1.5-1.5 1.5-1.5-1.5zM171.3 142.9l1.5 1.5-1.5 1.5-1.5-1.5zM191.1 142.7l1.5 1.5-1.5 1.5-1.5-1.5zM153.1 163.1l1.5 1.5-1.5 1.5-1.5-1.5zM152.7 158.8l1.5 1.5-1.5 1.5-1.5-1.5zM165 148.8l1.5 1.5-1.5 1.5-1.5-1.5zM184.3 135.6l1.5 1.5-1.5 1.5-1.5-1.5zM177.4 147.5l1.5 1.5-1.5 1.5-1.5-1.5zM164.4 149.2l1.5 1.5-1.5 1.5-1.5-1.5zM159.3 154l1.5 1.5-1.5 1.5-1.5-1.5zM167.9 152.2l1.5 1.5-1.5 1.5-1.5-1.5zM167.3 148.2l1.5 1.5-1.5 1.5-1.5-1.5zM167.6 152.6l1.5 1.5-1.5 1.5-1.5-1.5zM156.2 158.8l1.5 1.5-1.5 1.5-1.5-1.5zM168.6 151.8l1.5 1.5-1.5 1.5-1.5-1.5zM147.9 166l1.5 1.5-1.5 1.5-1.5-1.5zM174.9 154.3l1.5 1.5-1.5 1.5-1.5-1.5zM181.8 153.1l1.5 1.5-1.5 1.5-1.5-1.5zM146.5 162l1.5 1.5-1.5 1.5-1.5-1.5zM175.9 147.3l1.5 1.5-1.5 1.5-1.5-1.5zM177.5 149.3l1.5 1.5-1.5 1.5-1.5-1.5zM184.5 132.6l1.5 1.5-1.5 1.5-1.5-1.5zM173.4 148.1l1.5 1.5-1.5 1.5-1.5-1.5zM178.2 140.7l1.5 1.5-1.5 1.5-1.5-1.5zM163.7 143.8l1.5 1.5-1.5 1.5-1.5-1.5zM156.8 160.3l1.5 1.5-1.5 1.5-1.5-1.5zM185 142.6l1.5 1.5-1.5 1.5-1.5-1.5zM173.3 139.2l1.5 1.5-1.5 1.5-1.5-1.5zM181.9 136.4l1.5 1.5-1.5 1.5-1.5-1.5zM165.1 156.9l1.5 1.5-1.5 1.5-1.5-1.5zM181.6 141.5l1.5 1.5-1.5 1.5-1.5-1.5zM158.1 149.2l1.5 1.5-1.5 1.5-1.5-1.5zM178.8 140.5l1.5 1.5-1.5 1.5-1.5-1.5zM158.3 153.4l1.5 1.5-1.5 1.5-1.5-1.5zM189.9 131.7l1.5 1.5-1.5 1.5-1.5-1.5zM179.9 148.9l1.5 1.5-1.5 1.5-1.5-1.5zM192.7 136.9l1.5 1.5-1.5 1.5-1.5-1.5zM166.1 156.9l1.5 1.5-1.5 1.5-1.5-1.5zM167.1 149.8l1.5 1.5-1.5 1.5-1.5-1.5zM187.1 144l1.5 1.5-1.5 1.5-1.5-1.5zM163.5 159.5l1.5 1.5-1.5 1.5-1.5-1.5zM185 136.4l1.5 1.5-1.5 1.5-1.5-1.5zM160.9 163.6l1.5 1.5-1.5 1.5-1.5-1.5zM156.3 165.4l1.5 1.5-1.5 1.5-1.5-1.5zM162.5 145.5l1.5 1.5-1.5 1.5-1.5-1.5zM167.3 151.8l1.5 1.5-1.5 1.5-1.5-1.5zM169.1 156.2l1.5 1.5-1.5 1.5-1.5-1.5zM150.9 165.7l1.5 1.5-1.5 1.5-1.5-1.5zM163.4 146.2l1.5 1.5-1.5 1.5-1.5-1.5zM179.9 148l1.5 1.5-1.5 1.5-1.5-1.5zM164.4 148.8l1.5 1.5-1.5 1.5-1.5-1.5zM162.2 153.1l1.5 1.5-1.5 1.5-1.5-1.5zM144.3 164.5l1.5 1.5-1.5 1.5-1.5-1.5zM202.3 135.2l1.5 1.5-1.5 1.5-1.5-1.5zM160.8 156.8l1.5 1.5-1.5 1.5-1.5-1.5zM198.2 138l1.5 1.5-1.5 1.5-1.5-1.5zM178.3 146.2l1.5 1.5-1.5 1.5-1.5-1.5zM164 148l1.5 1.5-1.5 1.5-1.5-1.5zM174.8 145l1.5 1.5-1.5 1.5-1.5-1.5zM176.3 143.9l1.5 1.5-1.5 1.5-1.5-1.5zM173.6 146.6l1.5 1.5-1.5 1.5-1.5-1.5zM183.6 146.9l1.5 1.5-1.5 1.5-1.5-1.5zM184.5 137.8l1.5 1.5-1.5 1.5-1.5-1.5zM195.6 133.3l1.5 1.5-1.5 1.5-1.5-1.5zM163.6 143l1.5 1.5-1.5 1.5-1.5-1.5zM162 150.7l1.5 1.5-1.5 1.5-1.5-1.5zM166.5 159.3l1.5 1.5-1.5 1.5-1.5-1.5zM166.2 152.1l1.5 1.5-1.5 1.5-1.5-1.5zM160.2 153l1.5 1.5-1.5 1.5-1.5-1.5zM182.9 134.9l1.5 1.5-1.5 1.5-1.5-1.5zM186.2 140.8l1.5 1.5-1.5 1.5-1.5-1.5zM194.1 142.7l1.5 1.5-1.5 1.5-1.5-1.5zM171.8 144.9l1.5 1.5-1.5 1.5-1.5-1.5zM176.7 144.1l1.5 1.5-1.5 1.5-1.5-1.5zM163.4 147.3l1.5 1.5-1.5 1.5-1.5-1.5zM180.4 144.8l1.5 1.5-1.5 1.5-1.5-1.5zM159.3 154.9l1.5 1.5-1.5 1.5-1.5-1.5zM182.6 144.2l1.5 1.5-1.5 1.5-1.5-1.5zM154.5 164.2l1.5 1.5-1.5 1.5-1.5-1.5zM171 147.7l1.5 1.5-1.5 1.5-1.5-1.5zM165.8 151.8l1.5 1.5-1.5 1.5-1.5-1.5zM164.3 147.4l1.5 1.5-1.5 1.5-1.5-1.5zM186.9 141l1.5 1.5-1.5 1.5-1.5-1.5zM182.8 145l1.5 1.5-1.5 1.5-1.5-1.5zM192.7 143.1l1.5 1.5-1.5 1.5-1.5-1.5zM172.4 141.9l1.5 1.5-1.5 1.5-1.5-1.5zM157.9 157.7l1.5 1.5-1.5 1.5-1.5-1.5zM170.4 151.8l1.5 1.5-1.5 1.5-1.5-1.5zM157 153.9l1.5 1.5-1.5 1.5-1.5-1.5zM182.5 147.5l1.5 1.5-1.5 1.5-1.5-1.5zM191.2 140.6l1.5 1.5-1.5 1.5-1.5-1.5zM178.8 145.9l1.5 1.5-1.5 1.5-1.5-1.5zM163.5 148.3l1.5 1.5-1.5 1.5-1.5-1.5zM173 155.4l1.5 1.5-1.5 1.5-1.5-1.5zM181 151.8l1.5 1.5-1.5 1.5-1.5-1.5zM157.5 161.2l1.5 1.5-1.5 1.5-1.5-1.5zM178.7 150.2l1.5 1.5-1.5 1.5-1.5-1.5zM179.7 150.2l1.5 1.5-1.5 1.5-1.5-1.5zM164.9 148.9l1.5 1.5-1.5 1.5-1.5-1.5zM170.6 153.4l1.5 1.5-1.5 1.5-1.5-1.5zM170.8 139.3l1.5 1.5-1.5 1.5-1.5-1.5zM160.5 149.9l1.5 1.5-1.5 1.5-1.5-1.5zM163.5 154l1.5 1.5-1.5 1.5-1.5-1.5zM185 143.2l1.5 1.5-1.5 1.5-1.5-1.5zM175.1 143.7l1.5 1.5-1.5 1.5-1.5-1.5zM160 153.4l1.5 1.5-1.5 1.5-1.5-1.5zM154 165l1.5 1.5-1.5 1.5-1.5-1.5zM186.6 141.4l1.5 1.5-1.5 1.5-1.5-1.5zM167.6 157.5l1.5 1.5-1.5 1.5-1.5-1.5zM155.9 159.9l1.5 1.5-1.5 1.5-1.5-1.5zM173.5 148.4l1.5 1.5-1.5 1.5-1.5-1.5zM153 163l1.5 1.5-1.5 1.5-1.5-1.5zM165.4 144.9l1.5 1.5-1.5 1.5-1.5-1.5zM147.6 166.6l1.5 1.5-1.5 1.5-1.5-1.5zM171.4 150.4l1.5 1.5-1.5 1.5-1.5-1.5zM144.6 161.1l1.5 1.5-1.5 1.5-1.5-1.5zM169.2 147.5l1.5 1.5-1.5 1.5-1.5-1.5zM194.9 138.5l1.5 1.5-1.5 1.5-1.5-1.5zM170.2 149.5l1.5 1.5-1.5 1.5-1.5-1.5zM184.5 143.2l1.5 1.5-1.5 1.5-1.5-1.5zM160 151.4l1.5 1.5-1.5 1.5-1.5-1.5zM153.7 158l1.5 1.5-1.5 1.5-1.5-1.5zM188.3 141.6l1.5 1.5-1.5 1.5-1.5-1.5zM170.4 144.8l1.5 1.5-1.5 1.5-1.5-1.5zM154.5 151.2l1.5 1.5-1.5 1.5-1.5-1.5zM173 152.4l1.5 1.5-1.5 1.5-1.5-1.5zM178.2 151.9l1.5 1.5-1.5 1.5-1.5-1.5zM196.8 133.8l1.5 1.5-1.5 1.5-1.5-1.5zM167.5 155.7l1.5 1.5-1.5 1.5-1.5-1.5zM156.7 153.3l1.5 1.5-1.5 1.5-1.5-1.5zM187.6 133.7l1.5 1.5-1.5 1.5-1.5-1.5zM173.5 149.9l1.5 1.5-1.5 1.5-1.5-1.5zM171.9 146.9l1.5 1.5-1.5 1.5-1.5-1.5zM152 161.7l1.5 1.5-1.5 1.5-1.5-1.5zM179.9 146.6l1.5 1.5-1.5 1.5-1.5-1.5zM180 152.8l1.5 1.5-1.5 1.5-1.5-1.5zM162.9 158.4l1.5 1.5-1.5 1.5-1.5-1.5zM155.9 154.6l1.5 1.5-1.5 1.5-1.5-1.5zM172.4 146l1.5 1.5-1.5 1.5-1.5-1.5zM169.1 152.8l1.5 1.5-1.5 1.5-1.5-1.5zM179 146.3l1.5 1.5-1.5 1.5-1.5-1.5zM176.2 151.2l1.5 1.5-1.5 1.5-1.5-1.5zM166 141.6l1.5 1.5-1.5 1.5-1.5-1.5zM160.4 152.2l1.5 1.5-1.5 1.5-1.5-1.5zM170.3 144l1.5 1.5-1.5 1.5-1.5-1.5zM172.5 150.1l1.5 1.5-1.5 1.5-1.5-1.5zM176.6 153.6l1.5 1.5-1.5 1.5-1.5-1.5zM178.9 139l1.5 1.5-1.5 1.5-1.5-1.5zM167.2 153.8l1.5 1.5-1.5 1.5-1.5-1.5zM172.2 154.1l1.5 1.5-1.5 1.5-1.5-1.5zM187.7 140.4l1.5 1.5-1.5 1.5-1.5-1.5zM170.5 149.3l1.5 1.5-1.5 1.5-1.5-1.5zM170.7 150.7l1.5 1.5-1.5 1.5-1.5-1.5zM180.1 135.4l1.5 1.5-1.5 1.5-1.5-1.5zM174.3 142.2l1.5 1.5-1.5 1.5-1.5-1.5zM174.4 146.9l1.5 1.5-1.5 1.5-1.5-1.5zM174.8 144.2l1.5 1.5-1.5 1.5-1.5-1.5zM158.7 158.7l1.5 1.5-1.5 1.5-1.5-1.5zM191.4 139.1l1.5 1.5-1.5 1.5-1.5-1.5zM150.4 155.4l1.5 1.5-1.5 1.5-1.5-1.5zM179.1 148.2l1.5 1.5-1.5 1.5-1.5-1.5zM170.6 149.4l1.5 1.5-1.5 1.5-1.5-1.5zM160.5 159.8l1.5 1.5-1.5 1.5-1.5-1.5zM192 139.4l1.5 1.5-1.5 1.5-1.5-1.5zM171.5 146.7l1.5 1.5-1.5 1.5-1.5-1.5zM177.4 137.1l1.5 1.5-1.5 1.5-1.5-1.5zM193 140.4l1.5 1.5-1.5 1.5-1.5-1.5zM188.6 138.3l1.5 1.5-1.5 1.5-1.5-1.5zM151.8 155l1.5 1.5-1.5 1.5-1.5-1.5zM175 148.5l1.5 1.5-1.5 1.5-1.5-1.5zM185.4 140.8l1.5 1.5-1.5 1.5-1.5-1.5zM193.3 142l1.5 1.5-1.5 1.5-1.5-1.5zM171.2 153.6l1.5 1.5-1.5 1.5-1.5-1.5zM178.3 145.9l1.5 1.5-1.5 1.5-1.5-1.5zM173.3 144.8l1.5 1.5-1.5 1.5-1.5-1.5zM186.4 133.4l1.5 1.5-1.5 1.5-1.5-1.5zM164.6 144.4l1.5 1.5-1.5 1.5-1.5-1.5zM176.7 151.7l1.5 1.5-1.5 1.5-1.5-1.5zM172.1 154.5l1.5 1.5-1.5 1.5-1.5-1.5zM185.3 144.4l1.5 1.5-1.5 1.5-1.5-1.5zM180.4 143l1.5 1.5-1.5 1.5-1.5-1.5zM195.7 140.6l1.5 1.5-1.5 1.5-1.5-1.5zM172.6 144.7l1.5 1.5-1.5 1.5-1.5-1.5zM195.9 139.3l1.5 1.5-1.5 1.5-1.5-1.5zM192.5 138.2l1.5 1.5-1.5 1.5-1.5-1.5zM160 153.8l1.5 1.5-1.5 1.5-1.5-1.5zM177.3 146.1l1.5 1.5-1.5 1.5-1.5-1.5zM174.5 147.1l1.5 1.5-1.5 1.5-1.5-1.5zM182.2 152.1l1.5 1.5-1.5 1.5-1.5-1.5zM160.5 149.7l1.5 1.5-1.5 1.5-1.5-1.5zM178.4 143l1.5 1.5-1.5 1.5-1.5-1.5zM189.5 133.7l1.5 1.5-1.5 1.5-1.5-1.5zM168.7 145.5l1.5 1.5-1.5 1.5-1.5-1.5zM178.8 147.9l1.5 1.5-1.5 1.5-1.5-1.5zM173.2 149.8l1.5 1.5-1.5 1.5-1.5-1.5zM176 155.2l1.5 1.5-1.5 1.5-1.5-1.5zM181 136.1l1.5 1.5-1.5 1.5-1.5-1.5zM166.8 156.8l1.5 1.5-1.5 1.5-1.5-1.5zM202.5 130.4l1.5 1.5-1.5 1.5-1.5-1.5zM178.7 145l1.5 1.5-1.5 1.5-1.5-1.5zM169.5 155.9l1.5 1.5-1.5 1.5-1.5-1.5zM166.4 145.8l1.5 1.5-1.5 1.5-1.5-1.5zM165 147.7l1.5 1.5-1.5 1.5-1.5-1.5zM201.4 131.8l1.5 1.5-1.5 1.5-1.5-1.5zM173.7 142.1l1.5 1.5-1.5 1.5-1.5-1.5zM168.9 139.3l1.5 1.5-1.5 1.5-1.5-1.5zM149.3 167.7l1.5 1.5-1.5 1.5-1.5-1.5zM185.2 144.4l1.5 1.5-1.5 1.5-1.5-1.5zM164.4 160.9l1.5 1.5-1.5 1.5-1.5-1.5zM161.6 158.8l1.5 1.5-1.5 1.5-1.5-1.5zM183 144.4l1.5 1.5-1.5 1.5-1.5-1.5zM163.5 154.8l1.5 1.5-1.5 1.5-1.5-1.5zM184.7 141.3l1.5 1.5-1.5 1.5-1.5-1.5zM147.5 156.4l1.5 1.5-1.5 1.5-1.5-1.5zM173.5 150.2l1.5 1.5-1.5 1.5-1.5-1.5zM151.5 156.3l1.5 1.5-1.5 1.5-1.5-1.5zM175 150.5l1.5 1.5-1.5 1.5-1.5-1.5zM182.8 136.8l1.5 1.5-1.5 1.5-1.5-1.5zM157.5 159.1l1.5 1.5-1.5 1.5-1.5-1.5zM198.2 135.4l1.5 1.5-1.5 1.5-1.5-1.5zM174.5 155.9l1.5 1.5-1.5 1.5-1.5-1.5zM160.2 158.3l1.5 1.5-1.5 1.5-1.5-1.5zM165.9 139.8l1.5 1.5-1.5 1.5-1.5-1.5zM156.3 158l1.5 1.5-1.5 1.5-1.5-1.5zM176.3 150.6l1.5 1.5-1.5 1.5-1.5-1.5zM157.9 160l1.5 1.5-1.5 1.5-1.5-1.5zM185.9 133.8l1.5 1.5-1.5 1.5-1.5-1.5zM178.7 150.1l1.5 1.5-1.5 1.5-1.5-1.5zM173.7 157.7l1.5 1.5-1.5 1.5-1.5-1.5zM188.5 141.5l1.5 1.5-1.5 1.5-1.5-1.5zM157.7 157.7l1.5 1.5-1.5 1.5-1.5-1.5zM166.9 148l1.5 1.5-1.5 1.5-1.5-1.5zM193.9 128.8l1.5 1.5-1.5 1.5-1.5-1.5zM170.2 145.8l1.5 1.5-1.5 1.5-1.5-1.5zM189.3 134.7l1.5 1.5-1.5 1.5-1.5-1.5zM179 149.5l1.5 1.5-1.5 1.5-1.5-1.5zM167.9 156.8l1.5 1.5-1.5 1.5-1.5-1.5zM170.1 148.6l1.5 1.5-1.5 1.5-1.5-1.5zM173.5 145.2l1.5 1.5-1.5 1.5-1.5-1.5zM166.2 147.4l1.5 1.5-1.5 1.5-1.5-1.5zM161.7 151.7l1.5 1.5-1.5 1.5-1.5-1.5zM165.8 156.1l1.5 1.5-1.5 1.5-1.5-1.5zM157.1 161.7l1.5 1.5-1.5 1.5-1.5-1.5zM171.7 142l1.5 1.5-1.5 1.5-1.5-1.5zM176.5 141.5l1.5 1.5-1.5 1.5-1.5-1.5zM148.8 158.7l1.5 1.5-1.5 1.5-1.5-1.5zM183.4 140.5l1.5 1.5-1.5 1.5-1.5-1.5zM176.7 151.8l1.5 1.5-1.5 1.5-1.5-1.5zM159.6 163.7l1.5 1.5-1.5 1.5-1.5-1.5zM172.8 143.7l1.5 1.5-1.5 1.5-1.5-1.5zM183.5 140.4l1.5 1.5-1.5 1.5-1.5-1.5zM184 143.2l1.5 1.5-1.5 1.5-1.5-1.5zM182.8 136.2l1.5 1.5-1.5 1.5-1.5-1.5zM187.5 143.6l1.5 1.5-1.5 1.5-1.5-1.5zM168.3 141l1.5 1.5-1.5 1.5-1.5-1.5zM160 147.8l1.5 1.5-1.5 1.5-1.5-1.5zM179.7 146.5l1.5 1.5-1.5 1.5-1.5-1.5zM171.2 155.6l1.5 1.5-1.5 1.5-1.5-1.5zM184.3 144.6l1.5 1.5-1.5 1.5-1.5-1.5zM181.9 138.6l1.5 1.5-1.5 1.5-1.5-1.5zM179.1 153.4l1.5 1.5-1.5 1.5-1.5-1.5zM195.3 129.8l1.5 1.5-1.5 1.5-1.5-1.5zM159.2 152l1.5 1.5-1.5 1.5-1.5-1.5zM167.1 150.2l1.5 1.5-1.5 1.5-1.5-1.5zM160 148.3l1.5 1.5-1.5 1.5-1.5-1.5zM184.4 147.1l1.5 1.5-1.5 1.5-1.5-1.5zM182.9 138.4l1.5 1.5-1.5 1.5-1.5-1.5zM155.5 151.8l1.5 1.5-1.5 1.5-1.5-1.5zM169.7 141.1l1.5 1.5-1.5 1.5-1.5-1.5zM166.4 158.3l1.5 1.5-1.5 1.5-1.5-1.5zM174.7 154.5l1.5 1.5-1.5 1.5-1.5-1.5zM171.3 153.3l1.5 1.5-1.5 1.5-1.5-1.5zM155.3 150.6l1.5 1.5-1.5 1.5-1.5-1.5zM186.1 147.7l1.5 1.5-1.5 1.5-1.5-1.5zM157.7 156.7l1.5 1.5-1.5 1.5-1.5-1.5zM181.1 135.3l1.5 1.5-1.5 1.5-1.5-1.5zM187.2 141.3l1.5 1.5-1.5 1.5-1.5-1.5zM182.7 142.8l1.5 1.5-1.5 1.5-1.5-1.5zM200.8 127.3l1.5 1.5-1.5 1.5-1.5-1.5zM156.5 154.1l1.5 1.5-1.5 1.5-1.5-1.5zM164.5 153.3l1.5 1.5-1.5 1.5-1.5-1.5zM161.9 156l1.5 1.5-1.5 1.5-1.5-1.5zM175.1 142.1l1.5 1.5-1.5 1.5-1.5-1.5zM189.7 141.2l1.5 1.5-1.5 1.5-1.5-1.5zM187.8 142l1.5 1.5-1.5 1.5-1.5-1.5zM176.6 156.7l1.5 1.5-1.5 1.5-1.5-1.5zM159.4 148.3l1.5 1.5-1.5 1.5-1.5-1.5zM160.7 154.4l1.5 1.5-1.5 1.5-1.5-1.5zM202.8 131.5l1.5 1.5-1.5 1.5-1.5-1.5zM188.6 143.3l1.5 1.5-1.5 1.5-1.5-1.5zM180.2 141.3l1.5 1.5-1.5 1.5-1.5-1.5zM166.9 146.5l1.5 1.5-1.5 1.5-1.5-1.5zM169.7 146.8l1.5 1.5-1.5 1.5-1.5-1.5zM173.3 155.2l1.5 1.5-1.5 1.5-1.5-1.5zM143.1 165.6l1.5 1.5-1.5 1.5-1.5-1.5zM171.9 146.3l1.5 1.5-1.5 1.5-1.5-1.5zM181.3 150.1l1.5 1.5-1.5 1.5-1.5-1.5zM178.9 148.9l1.5 1.5-1.5 1.5-1.5-1.5zM185.5 141.8l1.5 1.5-1.5 1.5-1.5-1.5zM170.5 143.2l1.5 1.5-1.5 1.5-1.5-1.5zM186.3 144.3l1.5 1.5-1.5 1.5-1.5-1.5zM160.9 157.3l1.5 1.5-1.5 1.5-1.5-1.5zM193.8 131.5l1.5 1.5-1.5 1.5-1.5-1.5zM160.5 159.6l1.5 1.5-1.5 1.5-1.5-1.5zM170.7 150.1l1.5 1.5-1.5 1.5-1.5-1.5zM180.7 139.2l1.5 1.5-1.5 1.5-1.5-1.5zM162.8 154.4l1.5 1.5-1.5 1.5-1.5-1.5zM156.7 159.7l1.5 1.5-1.5 1.5-1.5-1.5zM147.7 159.7l1.5 1.5-1.5 1.5-1.5-1.5zM156.8 157.4l1.5 1.5-1.5 1.5-1.5-1.5zM156.3 164.7l1.5 1.5-1.5 1.5-1.5-1.5zM175.9 150.6l1.5 1.5-1.5 1.5-1.5-1.5zM167.9 147.2l1.5 1.5-1.5 1.5-1.5-1.5zM175.8 141.9l1.5 1.5-1.5 1.5-1.5-1.5zM159.2 153.4l1.5 1.5-1.5 1.5-1.5-1.5zM176.3 153l1.5 1.5-1.5 1.5-1.5-1.5zM166.7 139l1.5 1.5-1.5 1.5-1.5-1.5zM184.2 149.9l1.5 1.5-1.5 1.5-1.5-1.5zM167.3 144.6l1.5 1.5-1.5 1.5-1.5-1.5zM165.7 152.1l1.5 1.5-1.5 1.5-1.5-1.5zM173.6 145l1.5 1.5-1.5 1.5-1.5-1.5zM185.3 140l1.5 1.5-1.5 1.5-1.5-1.5zM184.1 144.6l1.5 1.5-1.5 1.5-1.5-1.5zM184.7 138.6l1.5 1.5-1.5 1.5-1.5-1.5zM170.2 156.3l1.5 1.5-1.5 1.5-1.5-1.5zM165.4 155.2l1.5 1.5-1.5 1.5-1.5-1.5zM200.2 133.1l1.5 1.5-1.5 1.5-1.5-1.5zM176.2 138.8l1.5 1.5-1.5 1.5-1.5-1.5zM184.8 143.7l1.5 1.5-1.5 1.5-1.5-1.5zM194.1 139.4l1.5 1.5-1.5 1.5-1.5-1.5zM160.3 162.5l1.5 1.5-1.5 1.5-1.5-1.5zM168.9 152.5l1.5 1.5-1.5 1.5-1.5-1.5zM173.6 157.6l1.5 1.5-1.5 1.5-1.5-1.5zM174.1 155.1l1.5 1.5-1.5 1.5-1.5-1.5zM145.2 168.6l1.5 1.5-1.5 1.5-1.5-1.5zM173.3 149l1.5 1.5-1.5 1.5-1.5-1.5zM180.9 149.3l1.5 1.5-1.5 1.5-1.5-1.5zM183.4 146.8l1.5 1.5-1.5 1.5-1.5-1.5zM180.6 141.5l1.5 1.5-1.5 1.5-1.5-1.5zM161.3 160.2l1.5 1.5-1.5 1.5-1.5-1.5zM182.2 134.9l1.5 1.5-1.5 1.5-1.5-1.5zM161.1 151.6l1.5 1.5-1.5 1.5-1.5-1.5zM160.7 159.9l1.5 1.5-1.5 1.5-1.5-1.5zM166.3 161.3l1.5 1.5-1.5 1.5-1.5-1.5zM163.1 153.9l1.5 1.5-1.5 1.5-1.5-1.5zM173.5 142.5l1.5 1.5-1.5 1.5-1.5-1.5zM185.1 141.9l1.5 1.5-1.5 1.5-1.5-1.5zM146.7 162.8l1.5 1.5-1.5 1.5-1.5-1.5zM183.9 138.4l1.5 1.5-1.5 1.5-1.5-1.5zM181 151.7l1.5 1.5-1.5 1.5-1.5-1.5zM176.2 137.9l1.5 1.5-1.5 1.5-1.5-1.5zM154.8 158.7l1.5 1.5-1.5 1.5-1.5-1.5zM181.8 134.3l1.5 1.5-1.5 1.5-1.5-1.5zM151.9 156.4l1.5 1.5-1.5 1.5-1.5-1.5zM193 139l1.5 1.5-1.5 1.5-1.5-1.5zM197.5 132.3l1.5 1.5-1.5 1.5-1.5-1.5zM176.8 138.3l1.5 1.5-1.5 1.5-1.5-1.5zM186.8 142.6l1.5 1.5-1.5 1.5-1.5-1.5zM165.1 150.3l1.5 1.5-1.5 1.5-1.5-1.5zM189.5 139l1.5 1.5-1.5 1.5-1.5-1.5zM175.4 149.1l1.5 1.5-1.5 1.5-1.5-1.5zM171 146.4l1.5 1.5-1.5 1.5-1.5-1.5zM156.5 158.6l1.5 1.5-1.5 1.5-1.5-1.5zM177.5 148.1l1.5 1.5-1.5 1.5-1.5-1.5zM183.6 144.2l1.5 1.5-1.5 1.5-1.5-1.5zM162.1 151l1.5 1.5-1.5 1.5-1.5-1.5zM163.3 145.5l1.5 1.5-1.5 1.5-1.5-1.5zM192.5 132.9l1.5 1.5-1.5 1.5-1.5-1.5zM173.3 142l1.5 1.5-1.5 1.5-1.5-1.5zM174.2 154.6l1.5 1.5-1.5 1.5-1.5-1.5zM164.4 162.4l1.5 1.5-1.5 1.5-1.5-1.5zM170.1 157.3l1.5 1.5-1.5 1.5-1.5-1.5zM174.9 154.6l1.5 1.5-1.5 1.5-1.5-1.5zM190.9 136l1.5 1.5-1.5 1.5-1.5-1.5zM167 153l1.5 1.5-1.5 1.5-1.5-1.5zM199.2 136.6l1.5 1.5-1.5 1.5-1.5-1.5zM170.8 151.8l1.5 1.5-1.5 1.5-1.5-1.5zM182.8 138.1l1.5 1.5-1.5 1.5-1.5-1.5zM171.3 149.5l1.5 1.5-1.5 1.5-1.5-1.5zM167.3 158.7l1.5 1.5-1.5 1.5-1.5-1.5zM178.5 156.4l1.5 1.5-1.5 1.5-1.5-1.5zM182.5 147.5l1.5 1.5-1.5 1.5-1.5-1.5zM150.6 158.4l1.5 1.5-1.5 1.5-1.5-1.5zM169.6 147.5l1.5 1.5-1.5 1.5-1.5-1.5zM168.9 143.2l1.5 1.5-1.5 1.5-1.5-1.5zM167.5 148.5l1.5 1.5-1.5 1.5-1.5-1.5zM169.4 155.1l1.5 1.5-1.5 1.5-1.5-1.5zM172.1 153.6l1.5 1.5-1.5 1.5-1.5-1.5zM172.4 144.2l1.5 1.5-1.5 1.5-1.5-1.5zM184.6 143.4l1.5 1.5-1.5 1.5-1.5-1.5zM168 144.7l1.5 1.5-1.5 1.5-1.5-1.5zM189.1 130l1.5 1.5-1.5 1.5-1.5-1.5zM161.3 152.7l1.5 1.5-1.5 1.5-1.5-1.5zM192.5 140.2l1.5 1.5-1.5 1.5-1.5-1.5zM173.2 150.1l1.5 1.5-1.5 1.5-1.5-1.5zM178.3 144l1.5 1.5-1.5 1.5-1.5-1.5zM184.8 139.6l1.5 1.5-1.5 1.5-1.5-1.5zM168.3 149.6l1.5 1.5-1.5 1.5-1.5-1.5zM190.9 137.8l1.5 1.5-1.5 1.5-1.5-1.5zM168.5 145.2l1.5 1.5-1.5 1.5-1.5-1.5zM183.7 149.2l1.5 1.5-1.5 1.5-1.5-1.5zM176.2 147.8l1.5 1.5-1.5 1.5-1.5-1.5zM185.9 139.6l1.5 1.5-1.5 1.5-1.5-1.5zM162 144.8l1.5 1.5-1.5 1.5-1.5-1.5zM179.1 144.7l1.5 1.5-1.5 1.5-1.5-1.5zM180.6 140.4l1.5 1.5-1.5 1.5-1.5-1.5zM177.6 145.2l1.5 1.5-1.5 1.5-1.5-1.5zM173.3 147l1.5 1.5-1.5 1.5-1.5-1.5zM164.4 151.6l1.5 1.5-1.5 1.5-1.5-1.5zM182.5 136.2l1.5 1.5-1.5 1.5-1.5-1.5zM174.4 144.3l1.5 1.5-1.5 1.5-1.5-1.5zM177.8 140.1l1.5 1.5-1.5 1.5-1.5-1.5zM169.3 149.6l1.5 1.5-1.5 1.5-1.5-1.5zM175.5 148.9l1.5 1.5-1.5 1.5-1.5-1.5zM160.9 155.4l1.5 1.5-1.5 1.5-1.5-1.5zM172.2 142.8l1.5 1.5-1.5 1.5-1.5-1.5zM184.1 141.8l1.5 1.5-1.5 1.5-1.5-1.5zM180.7 153.8l1.5 1.5-1.5 1.5-1.5-1.5zM184.2 139.6l1.5 1.5-1.5 1.5-1.5-1.5zM182.4 150.7l1.5 1.5-1.5 1.5-1.5-1.5zM172.3 149.6l1.5 1.5-1.5 1.5-1.5-1.5zM177.4 141.1l1.5 1.5-1.5 1.5-1.5-1.5zM170.3 146.4l1.5 1.5-1.5 1.5-1.5-1.5zM164.4 158.5l1.5 1.5-1.5 1.5-1.5-1.5zM181.5 150.7l1.5 1.5-1.5 1.5-1.5-1.5zM181.7 146.6l1.5 1.5-1.5 1.5-1.5-1.5zM172.7 153.6l1.5 1.5-1.5 1.5-1.5-1.5zM176.9 146.2l1.5 1.5-1.5 1.5-1.5-1.5zM177.2 145.2l1.5 1.5-1.5 1.5-1.5-1.5zM163.9 150.6l1.5 1.5-1.5 1.5-1.5-1.5zM181.3 148l1.5 1.5-1.5 1.5-1.5-1.5zM153.7 162.7l1.5 1.5-1.5 1.5-1.5-1.5zM156 162.7l1.5 1.5-1.5 1.5-1.5-1.5zM203.8 133.6l1.5 1.5-1.5 1.5-1.5-1.5zM152.1 161.6l1.5 1.5-1.5 1.5-1.5-1.5zM181.3 142.9l1.5 1.5-1.5 1.5-1.5-1.5zM162.2 152.4l1.5 1.5-1.5 1.5-1.5-1.5zM145.5 158.2l1.5 1.5-1.5 1.5-1.5-1.5zM161.3 152.5l1.5 1.5-1.5 1.5-1.5-1.5zM180.8 137l1.5 1.5-1.5 1.5-1.5-1.5zM174.4 140l1.5 1.5-1.5 1.5-1.5-1.5zM201.1 133.6l1.5 1.5-1.5 1.5-1.5-1.5zM163.4 144.8l1.5 1.5-1.5 1.5-1.5-1.5zM191 138.7l1.5 1.5-1.5 1.5-1.5-1.5zM187.3 143.1l1.5 1.5-1.5 1.5-1.5-1.5zM170.3 149.4l1.5 1.5-1.5 1.5-1.5-1.5zM190.7 132.4l1.5 1.5-1.5 1.5-1.5-1.5zM155.9 156.7l1.5 1.5-1.5 1.5-1.5-1.5zM168.1 151l1.5 1.5-1.5 1.5-1.5-1.5zM188.9 145.3l1.5 1.5-1.5 1.5-1.5-1.5zM186 135.8l1.5 1.5-1.5 1.5-1.5-1.5zM173.6 147.5l1.5 1.5-1.5 1.5-1.5-1.5zM172.1 151.1l1.5 1.5-1.5 1.5-1.5-1.5zM192 142.1l1.5 1.5-1.5 1.5-1.5-1.5zM204.5 126.2l1.5 1.5-1.5 1.5-1.5-1.5zM151.3 162.1l1.5 1.5-1.5 1.5-1.5-1.5zM181.5 134.7l1.5 1.5-1.5 1.5-1.5-1.5zM167.6 138.4l1.5 1.5-1.5 1.5-1.5-1.5zM161.8 158.2l1.5 1.5-1.5 1.5-1.5-1.5zM198.3 130.5l1.5 1.5-1.5 1.5-1.5-1.5zM178.5 149.1l1.5 1.5-1.5 1.5-1.5-1.5zM166.7 155.6l1.5 1.5-1.5 1.5-1.5-1.5zM167.7 151.2l1.5 1.5-1.5 1.5-1.5-1.5zM164.4 148.7l1.5 1.5-1.5 1.5-1.5-1.5zM178.6 148.8l1.5 1.5-1.5 1.5-1.5-1.5zM174.7 152.1l1.5 1.5-1.5 1.5-1.5-1.5zM184.8 145.5l1.5 1.5-1.5 1.5-1.5-1.5zM157.8 155.8l1.5 1.5-1.5 1.5-1.5-1.5zM150.4 155.8l1.5 1.5-1.5 1.5-1.5-1.5zM161.9 149.8l1.5 1.5-1.5 1.5-1.5-1.5zM188.6 140.7l1.5 1.5-1.5 1.5-1.5-1.5zM169.5 149.5l1.5 1.5-1.5 1.5-1.5-1.5zM179.1 150.7l1.5 1.5-1.5 1.5-1.5-1.5zM157.4 160l1.5 1.5-1.5 1.5-1.5-1.5zM158.2 154.2l1.5 1.5-1.5 1.5-1.5-1.5zM179.9 142.5l1.5 1.5-1.5 1.5-1.5-1.5zM170.9 150.6l1.5 1.5-1.5 1.5-1.5-1.5zM168.5 151.1l1.5 1.5-1.5 1.5-1.5-1.5zM169.7 155.9l1.5 1.5-1.5 1.5-1.5-1.5zM165.3 152.5l1.5 1.5-1.5 1.5-1.5-1.5zM170 153.2l1.5 1.5-1.5 1.5-1.5-1.5zM184.6 146.6l1.5 1.5-1.5 1.5-1.5-1.5zM176.4 149l1.5 1.5-1.5 1.5-1.5-1.5zM158.4 155.8l1.5 1.5-1.5 1.5-1.5-1.5zM173 153.4l1.5 1.5-1.5 1.5-1.5-1.5zM199.7 135.5l1.5 1.5-1.5 1.5-1.5-1.5zM160.1 156.8l1.5 1.5-1.5 1.5-1.5-1.5zM173.9 138.7l1.5 1.5-1.5 1.5-1.5-1.5zM166.1 143.1l1.5 1.5-1.5 1.5-1.5-1.5zM181.1 136.4l1.5 1.5-1.5 1.5-1.5-1.5zM176.7 139.7l1.5 1.5-1.5 1.5-1.5-1.5zM183.1 146.6l1.5 1.5-1.5 1.5-1.5-1.5zM168.3 153.1l1.5 1.5-1.5 1.5-1.5-1.5zM170 155.1l1.5 1.5-1.5 1.5-1.5-1.5zM175 138.6l1.5 1.5-1.5 1.5-1.5-1.5zM176.6 141l1.5 1.5-1.5 1.5-1.5-1.5zM183.4 151.1l1.5 1.5-1.5 1.5-1.5-1.5zM156.6 156.9l1.5 1.5-1.5 1.5-1.5-1.5zM150.8 157.1l1.5 1.5-1.5 1.5-1.5-1.5zM186.3 145.3l1.5 1.5-1.5 1.5-1.5-1.5zM176.9 137.6l1.5 1.5-1.5 1.5-1.5-1.5zM161.7 156.4l1.5 1.5-1.5 1.5-1.5-1.5zM194.9 134.6l1.5 1.5-1.5 1.5-1.5-1.5zM165.5 160l1.5 1.5-1.5 1.5-1.5-1.5zM160.2 157.6l1.5 1.5-1.5 1.5-1.5-1.5zM177.4 146.4l1.5 1.5-1.5 1.5-1.5-1.5zM169.8 145.7l1.5 1.5-1.5 1.5-1.5-1.5zM174.4 149.4l1.5 1.5-1.5 1.5-1.5-1.5zM178 147.1l1.5 1.5-1.5 1.5-1.5-1.5zM168.9 143.9l1.5 1.5-1.5 1.5-1.5-1.5zM173.7 151.1l1.5 1.5-1.5 1.5-1.5-1.5zM155.9 156.1l1.5 1.5-1.5 1.5-1.5-1.5zM184.8 146.5l1.5 1.5-1.5 1.5-1.5-1.5zM168.2 156.8l1.5 1.5-1.5 1.5-1.5-1.5zM181.1 143.2l1.5 1.5-1.5 1.5-1.5-1.5zM187.8 135.2l1.5 1.5-1.5 1.5-1.5-1.5zM170.6 151.4l1.5 1.5-1.5 1.5-1.5-1.5zM182.6 151.7l1.5 1.5-1.5 1.5-1.5-1.5zM203.6 135.6l1.5 1.5-1.5 1.5-1.5-1.5zM180.6 139l1.5 1.5-1.5 1.5-1.5-1.5zM197.7 133.5l1.5 1.5-1.5 1.5-1.5-1.5zM195.5 138.1l1.5 1.5-1.5 1.5-1.5-1.5zM184.7 142.9l1.5 1.5-1.5 1.5-1.5-1.5zM166.5 140.1l1.5 1.5-1.5 1.5-1.5-1.5zM164.1 161.5l1.5 1.5-1.5 1.5-1.5-1.5zM177.4 139.8l1.5 1.5-1.5 1.5-1.5-1.5zM178.6 141.8l1.5 1.5-1.5 1.5-1.5-1.5zM170.9 147.4l1.5 1.5-1.5 1.5-1.5-1.5zM188.4 145.5l1.5 1.5-1.5 1.5-1.5-1.5zM163.6 148.3l1.5 1.5-1.5 1.5-1.5-1.5zM191.8 143.6l1.5 1.5-1.5 1.5-1.5-1.5zM177 150.2l1.5 1.5-1.5 1.5-1.5-1.5zM177.1 152.2l1.5 1.5-1.5 1.5-1.5-1.5zM172.7 145.6l1.5 1.5-1.5 1.5-1.5-1.5zM177.3 154.1l1.5 1.5-1.5 1.5-1.5-1.5zM205.5 127.9l1.5 1.5-1.5 1.5-1.5-1.5zM155.2 161.9l1.5 1.5-1.5 1.5-1.5-1.5zM174.7 143.9l1.5 1.5-1.5 1.5-1.5-1.5zM192.5 141.2l1.5 1.5-1.5 1.5-1.5-1.5zM178.6 135.8l1.5 1.5-1.5 1.5-1.5-1.5zM171.6 151.5l1.5 1.5-1.5 1.5-1.5-1.5zM197.9 136.2l1.5 1.5-1.5 1.5-1.5-1.5zM162.3 158l1.5 1.5-1.5 1.5-1.5-1.5zM159.3 159.8l1.5 1.5-1.5 1.5-1.5-1.5zM182.3 144.3l1.5 1.5-1.5 1.5-1.5-1.5zM155 157.7l1.5 1.5-1.5 1.5-1.5-1.5zM188.6 145l1.5 1.5-1.5 1.5-1.5-1.5zM184.3 142.2l1.5 1.5-1.5 1.5-1.5-1.5zM186.8 146.3l1.5 1.5-1.5 1.5-1.5-1.5zM168.4 151.7l1.5 1.5-1.5 1.5-1.5-1.5zM174.3 143.2l1.5 1.5-1.5 1.5-1.5-1.5zM159 151l1.5 1.5-1.5 1.5-1.5-1.5zM193.4 130.4l1.5 1.5-1.5 1.5-1.5-1.5zM183.2 140l1.5 1.5-1.5 1.5-1.5-1.5zM179.8 136.7l1.5 1.5-1.5 1.5-1.5-1.5zM187.3 145.1l1.5 1.5-1.5 1.5-1.5-1.5zM192.6 142l1.5 1.5-1.5 1.5-1.5-1.5zM182.6 139.3l1.5 1.5-1.5 1.5-1.5-1.5zM174.9 148.5l1.5 1.5-1.5 1.5-1.5-1.5zM176.7 141.5l1.5 1.5-1.5 1.5-1.5-1.5zM177.5 146.1l1.5 1.5-1.5 1.5-1.5-1.5zM172.1 152.4l1.5 1.5-1.5 1.5-1.5-1.5zM162.9 161.2l1.5 1.5-1.5 1.5-1.5-1.5zM178.2 153.4l1.5 1.5-1.5 1.5-1.5-1.5zM164.7 149.2l1.5 1.5-1.5 1.5-1.5-1.5zM191.4 135.2l1.5 1.5-1.5 1.5-1.5-1.5zM186.9 133.8l1.5 1.5-1.5 1.5-1.5-1.5zM184.8 143l1.5 1.5-1.5 1.5-1.5-1.5zM152.2 152.8l1.5 1.5-1.5 1.5-1.5-1.5zM199.7 130.2l1.5 1.5-1.5 1.5-1.5-1.5zM181.4 144.3l1.5 1.5-1.5 1.5-1.5-1.5zM173.2 148.9l1.5 1.5-1.5 1.5-1.5-1.5zM169.2 140.4l1.5 1.5-1.5 1.5-1.5-1.5zM164.2 142.5l1.5 1.5-1.5 1.5-1.5-1.5zM184.3 150.4l1.5 1.5-1.5 1.5-1.5-1.5zM178.2 145.2l1.5 1.5-1.5 1.5-1.5-1.5zM175 157.5l1.5 1.5-1.5 1.5-1.5-1.5zM169.9 142.7l1.5 1.5-1.5 1.5-1.5-1.5zM180.1 143.7l1.5 1.5-1.5 1.5-1.5-1.5zM183.8 147.3l1.5 1.5-1.5 1.5-1.5-1.5zM170 145.7l1.5 1.5-1.5 1.5-1.5-1.5zM178.2 141.6l1.5 1.5-1.5 1.5-1.5-1.5zM186 137.9l1.5 1.5-1.5 1.5-1.5-1.5zM165.1 147l1.5 1.5-1.5 1.5-1.5-1.5zM192.9 136.3l1.5 1.5-1.5 1.5-1.5-1.5zM147.9 160.7l1.5 1.5-1.5 1.5-1.5-1.5zM156.2 154.6l1.5 1.5-1.5 1.5-1.5-1.5zM160.4 151.5l1.5 1.5-1.5 1.5-1.5-1.5zM164.9 159.7l1.5 1.5-1.5 1.5-1.5-1.5zM194.1 143.2l1.5 1.5-1.5 1.5-1.5-1.5zM194 143.2l1.5 1.5-1.5 1.5-1.5-1.5zM181.7 151.6l1.5 1.5-1.5 1.5-1.5-1.5zM165.7 148.5l1.5 1.5-1.5 1.5-1.5-1.5zM174.8 142.4l1.5 1.5-1.5 1.5-1.5-1.5zM177.6 155.4l1.5 1.5-1.5 1.5-1.5-1.5zM184.9 143.6l1.5 1.5-1.5 1.5-1.5-1.5zM159.5 164.9l1.5 1.5-1.5 1.5-1.5-1.5zM190.4 144.5l1.5 1.5-1.5 1.5-1.5-1.5zM168.1 150.7l1.5 1.5-1.5 1.5-1.5-1.5zM187 143.5l1.5 1.5-1.5 1.5-1.5-1.5zM155.4 160.4l1.5 1.5-1.5 1.5-1.5-1.5zM164.8 145.3l1.5 1.5-1.5 1.5-1.5-1.5zM174.4 145.9l1.5 1.5-1.5 1.5-1.5-1.5zM189.2 145.3l1.5 1.5-1.5 1.5-1.5-1.5zM161.6 160.7l1.5 1.5-1.5 1.5-1.5-1.5zM181.7 145.6l1.5 1.5-1.5 1.5-1.5-1.5zM163.6 146.4l1.5 1.5-1.5 1.5-1.5-1.5zM187.4 135.1l1.5 1.5-1.5 1.5-1.5-1.5zM177.1 148.9l1.5 1.5-1.5 1.5-1.5-1.5zM207.3 134.3l1.5 1.5-1.5 1.5-1.5-1.5zM182.2 143.8l1.5 1.5-1.5 1.5-1.5-1.5zM181.3 149.9l1.5 1.5-1.5 1.5-1.5-1.5zM163.7 150l1.5 1.5-1.5 1.5-1.5-1.5zM181.4 140.6l1.5 1.5-1.5 1.5-1.5-1.5zM201.4 125.9l1.5 1.5-1.5 1.5-1.5-1.5zM186.8 146.4l1.5 1.5-1.5 1.5-1.5-1.5zM169.8 146.9l1.5 1.5-1.5 1.5-1.5-1.5zM187.6 144l1.5 1.5-1.5 1.5-1.5-1.5zM171.9 143.2l1.5 1.5-1.5 1.5-1.5-1.5zM165.3 160.7l1.5 1.5-1.5 1.5-1.5-1.5zM156.3 158.1l1.5 1.5-1.5 1.5-1.5-1.5zM151.6 163.5l1.5 1.5-1.5 1.5-1.5-1.5zM166.6 142.5l1.5 1.5-1.5 1.5-1.5-1.5zM171.9 157.7l1.5 1.5-1.5 1.5-1.5-1.5zM173.7 153.6l1.5 1.5-1.5 1.5-1.5-1.5zM157.7 158.6l1.5 1.5-1.5 1.5-1.5-1.5zM175.5 141.7l1.5 1.5-1.5 1.5-1.5-1.5zM191 137.4l1.5 1.5-1.5 1.5-1.5-1.5zM192.5 143.8l1.5 1.5-1.5 1.5-1.5-1.5zM157.1 163.3l1.5 1.5-1.5 1.5-1.5-1.5zM190.5 135.7l1.5 1.5-1.5 1.5-1.5-1.5zM165.2 154.3l1.5 1.5-1.5 1.5-1.5-1.5zM150.3 162.8l1.5 1.5-1.5 1.5-1.5-1.5zM158.7 157.1l1.5 1.5-1.5 1.5-1.5-1.5zM161.2 154l1.5 1.5-1.5 1.5-1.5-1.5zM175.6 149.6l1.5 1.5-1.5 1.5-1.5-1.5zM157.2 150.3l1.5 1.5-1.5 1.5-1.5-1.5zM174.2 154l1.5 1.5-1.5 1.5-1.5-1.5zM201.4 136.3l1.5 1.5-1.5 1.5-1.5-1.5zM163 149.9l1.5 1.5-1.5 1.5-1.5-1.5zM179.6 143.3l1.5 1.5-1.5 1.5-1.5-1.5zM177.4 149.8l1.5 1.5-1.5 1.5-1.5-1.5zM152 164.6l1.5 1.5-1.5 1.5-1.5-1.5zM187 137.5l1.5 1.5-1.5 1.5-1.5-1.5zM155 153.5l1.5 1.5-1.5 1.5-1.5-1.5zM170 156.5l1.5 1.5-1.5 1.5-1.5-1.5zM172.6 147.7l1.5 1.5-1.5 1.5-1.5-1.5zM160.8 148.4l1.5 1.5-1.5 1.5-1.5-1.5zM151.1 163.2l1.5 1.5-1.5 1.5-1.5-1.5zM193.6 141.4l1.5 1.5-1.5 1.5-1.5-1.5zM167 158.5l1.5 1.5-1.5 1.5-1.5-1.5zM169.7 147.5l1.5 1.5-1.5 1.5-1.5-1.5zM171.3 144.2l1.5 1.5-1.5 1.5-1.5-1.5zM180.5 153.5l1.5 1.5-1.5 1.5-1.5-1.5zM168.8 144.5l1.5 1.5-1.5 1.5-1.5-1.5zM180.9 149.8l1.5 1.5-1.5 1.5-1.5-1.5zM181.1 147.2l1.5 1.5-1.5 1.5-1.5-1.5zM188.4 145.4l1.5 1.5-1.5 1.5-1.5-1.5zM165.9 147l1.5 1.5-1.5 1.5-1.5-1.5zM163 158.8l1.5 1.5-1.5 1.5-1.5-1.5zM179.2 139.6l1.5 1.5-1.5 1.5-1.5-1.5zM174.9 149.6l1.5 1.5-1.5 1.5-1.5-1.5zM176.3 136.7l1.5 1.5-1.5 1.5-1.5-1.5zM180.9 143.1l1.5 1.5-1.5 1.5-1.5-1.5zM198.6 138.4l1.5 1.5-1.5 1.5-1.5-1.5zM172.2 139.7l1.5 1.5-1.5 1.5-1.5-1.5zM183.9 141.9l1.5 1.5-1.5 1.5-1.5-1.5zM157.5 154.8l1.5 1.5-1.5 1.5-1.5-1.5zM157.3 151.6l1.5 1.5-1.5 1.5-1.5-1.5zM171.8 151.9l1.5 1.5-1.5 1.5-1.5-1.5zM157.3 155l1.5 1.5-1.5 1.5-1.5-1.5zM182.2 141.1l1.5 1.5-1.5 1.5-1.5-1.5zM155.7 155.7l1.5 1.5-1.5 1.5-1.5-1.5zM157.2 152.1l1.5 1.5-1.5 1.5-1.5-1.5zM167.4 146.8l1.5 1.5-1.5 1.5-1.5-1.5zM172.6 151.8l1.5 1.5-1.5 1.5-1.5-1.5zM150.7 160.3l1.5 1.5-1.5 1.5-1.5-1.5zM177.9 149.8l1.5 1.5-1.5 1.5-1.5-1.5zM189.3 143.6l1.5 1.5-1.5 1.5-1.5-1.5zM165.5 152.1l1.5 1.5-1.5 1.5-1.5-1.5zM164.4 148.9l1.5 1.5-1.5 1.5-1.5-1.5zM158.4 155.6l1.5 1.5-1.5 1.5-1.5-1.5zM180.4 140.2l1.5 1.5-1.5 1.5-1.5-1.5zM193 137l1.5 1.5-1.5 1.5-1.5-1.5zM166.5 150.2l1.5 1.5-1.5 1.5-1.5-1.5zM151.9 159.6l1.5 1.5-1.5 1.5-1.5-1.5zM176.5 145.6l1.5 1.5-1.5 1.5-1.5-1.5zM179.8 151.5l1.5 1.5-1.5 1.5-1.5-1.5zM184.4 147.6l1.5 1.5-1.5 1.5-1.5-1.5zM183.3 149.7l1.5 1.5-1.5 1.5-1.5-1.5zM162.6 155.3l1.5 1.5-1.5 1.5-1.5-1.5zM163.5 154l1.5 1.5-1.5 1.5-1.5-1.5zM166.3 153.9l1.5 1.5-1.5 1.5-1.5-1.5zM176.4 144l1.5 1.5-1.5 1.5-1.5-1.5zM153.1 166.5l1.5 1.5-1.5 1.5-1.5-1.5zM181.6 138.7l1.5 1.5-1.5 1.5-1.5-1.5zM186.2 142.6l1.5 1.5-1.5 1.5-1.5-1.5zM173.7 145.7l1.5 1.5-1.5 1.5-1.5-1.5zM179.5 150.5l1.5 1.5-1.5 1.5-1.5-1.5zM195.6 136.2l1.5 1.5-1.5 1.5-1.5-1.5zM158.6 153.4l1.5 1.5-1.5 1.5-1.5-1.5zM160.1 151.2l1.5 1.5-1.5 1.5-1.5-1.5zM162.2 158.4l1.5 1.5-1.5 1.5-1.5-1.5zM170.7 153.4l1.5 1.5-1.5 1.5-1.5-1.5zM157.5 150.2l1.5 1.5-1.5 1.5-1.5-1.5zM177 150.3l1.5 1.5-1.5 1.5-1.5-1.5zM167.9 155.1l1.5 1.5-1.5 1.5-1.5-1.5zM155.7 158.6l1.5 1.5-1.5 1.5-1.5-1.5zM157.6 163.5l1.5 1.5-1.5 1.5-1.5-1.5zM187 134.8l1.5 1.5-1.5 1.5-1.5-1.5zM178.7 155.2l1.5 1.5-1.5 1.5-1.5-1.5zM174 152.8l1.5 1.5-1.5 1.5-1.5-1.5zM173.4 145.7l1.5 1.5-1.5 1.5-1.5-1.5zM173.7 148.9l1.5 1.5-1.5 1.5-1.5-1.5zM179.9 141.2l1.5 1.5-1.5 1.5-1.5-1.5zM165.5 150.4l1.5 1.5-1.5 1.5-1.5-1.5zM163.4 153.4l1.5 1.5-1.5 1.5-1.5-1.5zM163.2 159.6l1.5 1.5-1.5 1.5-1.5-1.5zM157.1 155.5l1.5 1.5-1.5 1.5-1.5-1.5zM159.8 150.9l1.5 1.5-1.5 1.5-1.5-1.5zM145.9 159.6l1.5 1.5-1.5 1.5-1.5-1.5zM169.1 160.1l1.5 1.5-1.5 1.5-1.5-1.5zM182.1 149.9l1.5 1.5-1.5 1.5-1.5-1.5zM163.3 154.8l1.5 1.5-1.5 1.5-1.5-1.5zM176.6 137.5l1.5 1.5-1.5 1.5-1.5-1.5zM180.7 146.6l1.5 1.5-1.5 1.5-1.5-1.5zM187.3 133.7l1.5 1.5-1.5 1.5-1.5-1.5zM201.6 130.7l1.5 1.5-1.5 1.5-1.5-1.5zM156.3 152.2l1.5 1.5-1.5 1.5-1.5-1.5zM167.6 148.7l1.5 1.5-1.5 1.5-1.5-1.5zM182.4 152.3l1.5 1.5-1.5 1.5-1.5-1.5zM204.1 136.4l1.5 1.5-1.5 1.5-1.5-1.5zM179.6 138l1.5 1.5-1.5 1.5-1.5-1.5zM193.1 143l1.5 1.5-1.5 1.5-1.5-1.5zM169.3 145.2l1.5 1.5-1.5 1.5-1.5-1.5zM181.2 142.3l1.5 1.5-1.5 1.5-1.5-1.5zM182.8 141.2l1.5 1.5-1.5 1.5-1.5-1.5zM169.7 152.7l1.5 1.5-1.5 1.5-1.5-1.5zM184.6 142.3l1.5 1.5-1.5 1.5-1.5-1.5zM184.6 134.9l1.5 1.5-1.5 1.5-1.5-1.5zM170.3 146.2l1.5 1.5-1.5 1.5-1.5-1.5zM171.9 142.8l1.5 1.5-1.5 1.5-1.5-1.5zM178.9 153.8l1.5 1.5-1.5 1.5-1.5-1.5zM172.1 152.3l1.5 1.5-1.5 1.5-1.5-1.5zM169.1 155.9l1.5 1.5-1.5 1.5-1.5-1.5zM172.7 141.6l1.5 1.5-1.5 1.5-1.5-1.5zM172.5 155.4l1.5 1.5-1.5 1.5-1.5-1.5zM168.6 147.7l1.5 1.5-1.5 1.5-1.5-1.5zM162.7 151.2l1.5 1.5-1.5 1.5-1.5-1.5zM160.4 152.2l1.5 1.5-1.5 1.5-1.5-1.5zM178.4 144.9l1.5 1.5-1.5 1.5-1.5-1.5zM157.9 154.9l1.5 1.5-1.5 1.5-1.5-1.5zM166.1 152.7l1.5 1.5-1.5 1.5-1.5-1.5zM196.5 136.7l1.5 1.5-1.5 1.5-1.5-1.5zM186.4 136.1l1.5 1.5-1.5 1.5-1.5-1.5zM164.7 150.8l1.5 1.5-1.5 1.5-1.5-1.5zM190.9 129.7l1.5 1.5-1.5 1.5-1.5-1.5zM166.6 151.7l1.5 1.5-1.5 1.5-1.5-1.5zM176.9 149l1.5 1.5-1.5 1.5-1.5-1.5zM193.8 139.5l1.5 1.5-1.5 1.5-1.5-1.5zM168.2 159.9l1.5 1.5-1.5 1.5-1.5-1.5zM190.7 137.4l1.5 1.5-1.5 1.5-1.5-1.5zM160.3 149.2l1.5 1.5-1.5 1.5-1.5-1.5zM175.3 143.1l1.5 1.5-1.5 1.5-1.5-1.5zM169 147.8l1.5 1.5-1.5 1.5-1.5-1.5zM169.5 143.4l1.5 1.5-1.5 1.5-1.5-1.5zM177.2 147.5l1.5 1.5-1.5 1.5-1.5-1.5zM171.7 146l1.5 1.5-1.5 1.5-1.5-1.5zM160.7 154.6l1.5 1.5-1.5 1.5-1.5-1.5zM189 145.9l1.5 1.5-1.5 1.5-1.5-1.5zM184.9 144l1.5 1.5-1.5 1.5-1.5-1.5zM191.7 139l1.5 1.5-1.5 1.5-1.5-1.5zM187.9 131.6l1.5 1.5-1.5 1.5-1.5-1.5zM155.9 156.2l1.5 1.5-1.5 1.5-1.5-1.5zM190.9 138.1l1.5 1.5-1.5 1.5-1.5-1.5zM187 132.7l1.5 1.5-1.5 1.5-1.5-1.5zM193.9 137.6l1.5 1.5-1.5 1.5-1.5-1.5zM165.8 149.6l1.5 1.5-1.5 1.5-1.5-1.5zM155.4 156.4l1.5 1.5-1.5 1.5-1.5-1.5zM168.1 148.2l1.5 1.5-1.5 1.5-1.5-1.5zM158.9 157l1.5 1.5-1.5 1.5-1.5-1.5zM174.5 154.1l1.5 1.5-1.5 1.5-1.5-1.5zM158.7 151.3l1.5 1.5-1.5 1.5-1.5-1.5zM166.7 147.4l1.5 1.5-1.5 1.5-1.5-1.5zM179.2 151.8l1.5 1.5-1.5 1.5-1.5-1.5zM182.7 149.9l1.5 1.5-1.5 1.5-1.5-1.5zM170.5 147.5l1.5 1.5-1.5 1.5-1.5-1.5zM164.6 144.1l1.5 1.5-1.5 1.5-1.5-1.5zM185.4 135.5l1.5 1.5-1.5 1.5-1.5-1.5zM158 157.1l1.5 1.5-1.5 1.5-1.5-1.5zM157.3 155.7l1.5 1.5-1.5 1.5-1.5-1.5zM160.1 162.9l1.5 1.5-1.5 1.5-1.5-1.5zM172.5 149.2l1.5 1.5-1.5 1.5-1.5-1.5zM180.5 146.2l1.5 1.5-1.5 1.5-1.5-1.5zM176.1 152.3l1.5 1.5-1.5 1.5-1.5-1.5zM183.9 140l1.5 1.5-1.5 1.5-1.5-1.5zM184.1 148.4l1.5 1.5-1.5 1.5-1.5-1.5zM172.3 151.5l1.5 1.5-1.5 1.5-1.5-1.5zM187.5 134.5l1.5 1.5-1.5 1.5-1.5-1.5zM157.4 150.9l1.5 1.5-1.5 1.5-1.5-1.5zM170.1 148.3l1.5 1.5-1.5 1.5-1.5-1.5zM171 153.6l1.5 1.5-1.5 1.5-1.5-1.5zM172.3 149.4l1.5 1.5-1.5 1.5-1.5-1.5zM159.1 153.9l1.5 1.5-1.5 1.5-1.5-1.5zM159.8 161.6l1.5 1.5-1.5 1.5-1.5-1.5zM189.5 144.6l1.5 1.5-1.5 1.5-1.5-1.5zM166 154.1l1.5 1.5-1.5 1.5-1.5-1.5zM174.6 149.5l1.5 1.5-1.5 1.5-1.5-1.5zM186.3 146.9l1.5 1.5-1.5 1.5-1.5-1.5zM169.1 149.2l1.5 1.5-1.5 1.5-1.5-1.5zM182.3 143.2l1.5 1.5-1.5 1.5-1.5-1.5zM163.9 149l1.5 1.5-1.5 1.5-1.5-1.5zM174.5 156.7l1.5 1.5-1.5 1.5-1.5-1.5zM169.1 142.8l1.5 1.5-1.5 1.5-1.5-1.5zM173.2 145.7l1.5 1.5-1.5 1.5-1.5-1.5zM175 142.1l1.5 1.5-1.5 1.5-1.5-1.5zM178.9 142.1l1.5 1.5-1.5 1.5-1.5-1.5zM180 146.8l1.5 1.5-1.5 1.5-1.5-1.5zM182.5 153.3l1.5 1.5-1.5 1.5-1.5-1.5zM147.1 165.6l1.5 1.5-1.5 1.5-1.5-1.5zM181.9 146l1.5 1.5-1.5 1.5-1.5-1.5zM166.9 161.2l1.5 1.5-1.5 1.5-1.5-1.5zM185.2 137.5l1.5 1.5-1.5 1.5-1.5-1.5zM199.6 128.6l1.5 1.5-1.5 1.5-1.5-1.5zM166.5 151.7l1.5 1.5-1.5 1.5-1.5-1.5zM165.2 152.5l1.5 1.5-1.5 1.5-1.5-1.5zM135.9 163.7l1.5 1.5-1.5 1.5-1.5-1.5zM138.5 165.9l1.5 1.5-1.5 1.5-1.5-1.5zM137 167.7l1.5 1.5-1.5 1.5-1.5-1.5zM138.9 167l1.5 1.5-1.5 1.5-1.5-1.5zM142.5 169.9l1.5 1.5-1.5 1.5-1.5-1.5zM131.6 173.5l1.5 1.5-1.5 1.5-1.5-1.5zM134.9 173.9l1.5 1.5-1.5 1.5-1.5-1.5zM134.1 175l1.5 1.5-1.5 1.5-1.5-1.5zM142.5 174.6l1.5 1.5-1.5 1.5-1.5-1.5zM150.5 168.4l1.5 1.5-1.5 1.5-1.5-1.5zM148.4 169.5l1.5 1.5-1.5 1.5-1.5-1.5zM194.3 126.7l1.5 1.5-1.5 1.5-1.5-1.5zM202.4 141.3l1.5 1.5-1.5 1.5-1.5-1.5zM212.6 123.1l1.5 1.5-1.5 1.5-1.5-1.5zM214.8 122.7l1.5 1.5-1.5 1.5-1.5-1.5zM215.9 126.7l1.5 1.5-1.5 1.5-1.5-1.5zM215.1 127.8l1.5 1.5-1.5 1.5-1.5-1.5zM218.8 125.6l1.5 1.5-1.5 1.5-1.5-1.5z"/>
<ellipse cx="174.3" cy="149.1" rx="10.8" ry="9.2" fill="none" stroke="#ff0000" stroke-width="2.4"/>
<path d="M161.7 150H165.7" stroke="#000" stroke-width="2"/>
<path d="M183.3 149.5H187.3" stroke="#1a1a1a" stroke-width="1.3"/>
<path d="M174.5 138.2V142.2" stroke="#1a1a1a" stroke-width="1.3"/>
<path d="M175 156.6V160.6" stroke="#555" stroke-width="1.6"/>
<line x1="126" y1="96.8" x2="168.5" y2="143.4" stroke="#1a1aff" stroke-width="1.3"/><path d="M173.1 148.4L164.0 144.0L168.0 142.8L169.6 138.9Z" fill="#1a1aff"/>
<text x="80.7" y="93.2" font-family="Liberation Serif, serif" font-weight="bold" font-size="10" fill="#1a1aff" textLength="82" lengthAdjust="spacingAndGlyphs">true target position</text>
<line x1="207" y1="209.5" x2="183.9" y2="163.3" stroke="#ff1a1a" stroke-width="1.3"/><path d="M181.1 157.8L188.4 163.7L184.2 164.0L181.5 167.2Z" fill="#ff1a1a"/>
<text x="147.2" y="217.5" font-family="Liberation Serif, serif" font-weight="bold" font-size="10" fill="#ff1a1a" textLength="130.5" lengthAdjust="spacingAndGlyphs">radius of CEP equals to 45.05m</text>
<rect x="388.7" y="27.4" width="288.1" height="244" fill="none" stroke="#666" stroke-width="1.1"/>
<path d="M436.5 271.4v-3M436.5 27.4v3M388.7 230.5h3M676.8 230.5h-3M484.5 271.4v-3M484.5 27.4v3M388.7 189.5h3M676.8 189.5h-3M532.5 271.4v-3M532.5 27.4v3M388.7 149.5h3M676.8 149.5h-3M580.5 271.4v-3M580.5 27.4v3M388.7 108.5h3M676.8 108.5h-3M628.5 271.4v-3M628.5 27.4v3M388.7 67.5h3M676.8 67.5h-3" stroke="#333" stroke-width="1" fill="none"/>
<g font-family="Liberation Sans, sans-serif" font-size="8.2" fill="#000" stroke="#000" stroke-width="0.3"><text transform="translate(387.9 281) scale(0.86 1)" text-anchor="middle">3400</text><text transform="translate(385.8 274.3) scale(0.86 1)" text-anchor="end">3400</text><text transform="translate(435.9 281) scale(0.86 1)" text-anchor="middle">3600</text><text transform="translate(385.8 233.6) scale(0.86 1)" text-anchor="end">3600</text><text transform="translate(483.9 281) scale(0.86 1)" text-anchor="middle">3800</text><text transform="translate(385.8 193) scale(0.86 1)" text-anchor="end">3800</text><text transform="translate(532 281) scale(0.86 1)" text-anchor="middle">4000</text><text transform="translate(385.8 152.3) scale(0.86 1)" text-anchor="end">4000</text><text transform="translate(580 281) scale(0.86 1)" text-anchor="middle">4200</text><text transform="translate(385.8 111.6) scale(0.86 1)" text-anchor="end">4200</text><text transform="translate(628 281) scale(0.86 1)" text-anchor="middle">4400</text><text transform="translate(385.8 71) scale(0.86 1)" text-anchor="end">4400</text><text transform="translate(676 281) scale(0.86 1)" text-anchor="middle">4600</text><text transform="translate(385.8 30.3) scale(0.86 1)" text-anchor="end">4600</text></g>
<text x="531.5" y="292.7" text-anchor="middle" font-family="Liberation Serif, serif" font-size="10" fill="#1a1a1a" stroke="#1a1a1a" stroke-width="0.25" textLength="39" lengthAdjust="spacingAndGlyphs">y-axis(m)</text>
<text transform="translate(365.6 149.4) rotate(-90)" text-anchor="middle" font-family="Liberation Serif, serif" font-size="10" fill="#1a1a1a" stroke="#1a1a1a" stroke-width="0.25" textLength="41.5" lengthAdjust="spacing">z-axis(m)</text>
<line x1="388.7" y1="150" x2="532.8" y2="150" stroke="#000" stroke-width="2"/>
<line x1="532.8" y1="149.5" x2="676.8" y2="149.5" stroke="#1a1a1a" stroke-width="1.3"/>
<line x1="532.5" y1="27.4" x2="532.5" y2="149.4" stroke="#1a1a1a" stroke-width="1.3"/>
<line x1="533.2" y1="149.4" x2="533.2" y2="271.4" stroke="#6a6a6a" stroke-width="2"/>
<path fill="#000" d="M532.4 138.9l1.5 1.5-1.5 1.5-1.5-1.5zM534 141.4l1.5 1.5-1.5 1.5-1.5-1.5zM539.7 146.2l1.5 1.5-1.5 1.5-1.5-1.5zM529.5 156.8l1.5 1.5-1.5 1.5-1.5-1.5zM538 140.6l1.5 1.5-1.5 1.5-1.5-1.5zM539.2 147.6l1.5 1.5-1.5 1.5-1.5-1.5zM536.4 145.5l1.5 1.5-1.5 1.5-1.5-1.5zM533.3 148l1.5 1.5-1.5 1.5-1.5-1.5zM537.8 141.1l1.5 1.5-1.5 1.5-1.5-1.5zM525.4 156.3l1.5 1.5-1.5 1.5-1.5-1.5zM527.4 144.7l1.5 1.5-1.5 1.5-1.5-1.5zM527.1 152.2l1.5 1.5-1.5 1.5-1.5-1.5zM539.3 141.9l1.5 1.5-1.5 1.5-1.5-1.5zM531.3 145.1l1.5 1.5-1.5 1.5-1.5-1.5zM527.3 147.8l1.5 1.5-1.5 1.5-1.5-1.5zM525 156.9l1.5 1.5-1.5 1.5-1.5-1.5zM531.2 152.2l1.5 1.5-1.5 1.5-1.5-1.5zM534.8 150.4l1.5 1.5-1.5 1.5-1.5-1.5zM528.4 148.9l1.5 1.5-1.5 1.5-1.5-1.5zM549.2 137.9l1.5 1.5-1.5 1.5-1.5-1.5zM505.5 158.1l1.5 1.5-1.5 1.5-1.5-1.5zM534.2 154.1l1.5 1.5-1.5 1.5-1.5-1.5zM525.8 149l1.5 1.5-1.5 1.5-1.5-1.5zM538.2 149.9l1.5 1.5-1.5 1.5-1.5-1.5zM534.4 144.8l1.5 1.5-1.5 1.5-1.5-1.5zM559.8 131.8l1.5 1.5-1.5 1.5-1.5-1.5zM521.6 160.4l1.5 1.5-1.5 1.5-1.5-1.5zM524.1 145.6l1.5 1.5-1.5 1.5-1.5-1.5zM555.9 128.4l1.5 1.5-1.5 1.5-1.5-1.5zM539.5 141l1.5 1.5-1.5 1.5-1.5-1.5zM528.4 154.8l1.5 1.5-1.5 1.5-1.5-1.5zM509.5 157.6l1.5 1.5-1.5 1.5-1.5-1.5zM532 142.7l1.5 1.5-1.5 1.5-1.5-1.5zM536.9 150.7l1.5 1.5-1.5 1.5-1.5-1.5zM527.1 157.2l1.5 1.5-1.5 1.5-1.5-1.5zM529.7 145.6l1.5 1.5-1.5 1.5-1.5-1.5zM523 158.1l1.5 1.5-1.5 1.5-1.5-1.5zM526.8 142.5l1.5 1.5-1.5 1.5-1.5-1.5zM535.1 148.7l1.5 1.5-1.5 1.5-1.5-1.5zM528 140.7l1.5 1.5-1.5 1.5-1.5-1.5zM529.8 156.5l1.5 1.5-1.5 1.5-1.5-1.5zM540.8 143.9l1.5 1.5-1.5 1.5-1.5-1.5zM542.1 138.4l1.5 1.5-1.5 1.5-1.5-1.5zM539.9 149.5l1.5 1.5-1.5 1.5-1.5-1.5zM538.5 137.5l1.5 1.5-1.5 1.5-1.5-1.5zM527.6 153.3l1.5 1.5-1.5 1.5-1.5-1.5zM542.8 139.6l1.5 1.5-1.5 1.5-1.5-1.5zM519.8 157l1.5 1.5-1.5 1.5-1.5-1.5zM545.5 142.3l1.5 1.5-1.5 1.5-1.5-1.5zM528.3 142.4l1.5 1.5-1.5 1.5-1.5-1.5zM515.7 156l1.5 1.5-1.5 1.5-1.5-1.5zM523.2 142.9l1.5 1.5-1.5 1.5-1.5-1.5zM533.7 147.8l1.5 1.5-1.5 1.5-1.5-1.5zM533.5 142.2l1.5 1.5-1.5 1.5-1.5-1.5zM517.9 152.3l1.5 1.5-1.5 1.5-1.5-1.5zM514.4 150.7l1.5 1.5-1.5 1.5-1.5-1.5zM536.4 147.9l1.5 1.5-1.5 1.5-1.5-1.5zM525.2 149.3l1.5 1.5-1.5 1.5-1.5-1.5zM534.5 144.5l1.5 1.5-1.5 1.5-1.5-1.5zM508.4 156.1l1.5 1.5-1.5 1.5-1.5-1.5zM535.1 144.8l1.5 1.5-1.5 1.5-1.5-1.5zM551.4 142.6l1.5 1.5-1.5 1.5-1.5-1.5zM526.6 147l1.5 1.5-1.5 1.5-1.5-1.5zM519.1 149.7l1.5 1.5-1.5 1.5-1.5-1.5zM544 144.4l1.5 1.5-1.5 1.5-1.5-1.5zM534.5 144l1.5 1.5-1.5 1.5-1.5-1.5zM540 135.6l1.5 1.5-1.5 1.5-1.5-1.5zM527.1 148.8l1.5 1.5-1.5 1.5-1.5-1.5zM513 158.2l1.5 1.5-1.5 1.5-1.5-1.5zM531.9 149.5l1.5 1.5-1.5 1.5-1.5-1.5zM529.9 155.1l1.5 1.5-1.5 1.5-1.5-1.5zM539.6 137.9l1.5 1.5-1.5 1.5-1.5-1.5zM535.8 147.2l1.5 1.5-1.5 1.5-1.5-1.5zM514.3 163.5l1.5 1.5-1.5 1.5-1.5-1.5zM544.5 141.7l1.5 1.5-1.5 1.5-1.5-1.5zM543.9 146l1.5 1.5-1.5 1.5-1.5-1.5zM525.1 153.5l1.5 1.5-1.5 1.5-1.5-1.5zM532.8 148l1.5 1.5-1.5 1.5-1.5-1.5zM539.4 145.8l1.5 1.5-1.5 1.5-1.5-1.5zM537.6 142.9l1.5 1.5-1.5 1.5-1.5-1.5zM541.2 137.5l1.5 1.5-1.5 1.5-1.5-1.5zM537.6 148l1.5 1.5-1.5 1.5-1.5-1.5zM530.6 147.3l1.5 1.5-1.5 1.5-1.5-1.5zM531.1 152.1l1.5 1.5-1.5 1.5-1.5-1.5zM544.1 137.1l1.5 1.5-1.5 1.5-1.5-1.5zM503.9 164.9l1.5 1.5-1.5 1.5-1.5-1.5zM531.8 150.1l1.5 1.5-1.5 1.5-1.5-1.5zM532.3 146.4l1.5 1.5-1.5 1.5-1.5-1.5zM514 158l1.5 1.5-1.5 1.5-1.5-1.5zM539.1 148.2l1.5 1.5-1.5 1.5-1.5-1.5zM523.4 151.5l1.5 1.5-1.5 1.5-1.5-1.5zM541.9 138.9l1.5 1.5-1.5 1.5-1.5-1.5zM531.4 149.1l1.5 1.5-1.5 1.5-1.5-1.5zM543.4 145.6l1.5 1.5-1.5 1.5-1.5-1.5zM545 134.3l1.5 1.5-1.5 1.5-1.5-1.5zM537.6 144.9l1.5 1.5-1.5 1.5-1.5-1.5zM524 157.8l1.5 1.5-1.5 1.5-1.5-1.5zM515.8 162.6l1.5 1.5-1.5 1.5-1.5-1.5zM556.5 136.4l1.5 1.5-1.5 1.5-1.5-1.5zM527.7 143.9l1.5 1.5-1.5 1.5-1.5-1.5zM519.8 147.6l1.5 1.5-1.5 1.5-1.5-1.5zM532.4 143.9l1.5 1.5-1.5 1.5-1.5-1.5zM534.1 154.5l1.5 1.5-1.5 1.5-1.5-1.5zM545.2 143.5l1.5 1.5-1.5 1.5-1.5-1.5zM529 142.1l1.5 1.5-1.5 1.5-1.5-1.5zM530.3 144.3l1.5 1.5-1.5 1.5-1.5-1.5zM522.6 152l1.5 1.5-1.5 1.5-1.5-1.5zM536.3 141.1l1.5 1.5-1.5 1.5-1.5-1.5zM520 156.4l1.5 1.5-1.5 1.5-1.5-1.5zM540.4 141.6l1.5 1.5-1.5 1.5-1.5-1.5zM551.2 135l1.5 1.5-1.5 1.5-1.5-1.5zM515.2 162.1l1.5 1.5-1.5 1.5-1.5-1.5zM542 145.1l1.5 1.5-1.5 1.5-1.5-1.5zM564.1 126.9l1.5 1.5-1.5 1.5-1.5-1.5zM522.7 159.1l1.5 1.5-1.5 1.5-1.5-1.5zM523.4 156.1l1.5 1.5-1.5 1.5-1.5-1.5zM523.8 148.4l1.5 1.5-1.5 1.5-1.5-1.5zM531.1 154.2l1.5 1.5-1.5 1.5-1.5-1.5zM531.6 156.3l1.5 1.5-1.5 1.5-1.5-1.5zM537.4 147.3l1.5 1.5-1.5 1.5-1.5-1.5zM532 151.3l1.5 1.5-1.5 1.5-1.5-1.5zM531.8 154.5l1.5 1.5-1.5 1.5-1.5-1.5zM519 153.1l1.5 1.5-1.5 1.5-1.5-1.5zM529.3 143.2l1.5 1.5-1.5 1.5-1.5-1.5zM517 154.5l1.5 1.5-1.5 1.5-1.5-1.5zM519.8 157.5l1.5 1.5-1.5 1.5-1.5-1.5zM550.9 136.2l1.5 1.5-1.5 1.5-1.5-1.5zM533.6 150.4l1.5 1.5-1.5 1.5-1.5-1.5zM529.9 145.5l1.5 1.5-1.5 1.5-1.5-1.5zM537.6 141.8l1.5 1.5-1.5 1.5-1.5-1.5zM526.5 149.9l1.5 1.5-1.5 1.5-1.5-1.5zM526.7 145.5l1.5 1.5-1.5 1.5-1.5-1.5zM539.7 146.7l1.5 1.5-1.5 1.5-1.5-1.5zM537.4 147.1l1.5 1.5-1.5 1.5-1.5-1.5zM516.7 155.1l1.5 1.5-1.5 1.5-1.5-1.5zM542 139.6l1.5 1.5-1.5 1.5-1.5-1.5zM526.4 154l1.5 1.5-1.5 1.5-1.5-1.5zM517 153l1.5 1.5-1.5 1.5-1.5-1.5zM518.9 151.7l1.5 1.5-1.5 1.5-1.5-1.5zM527.4 150.4l1.5 1.5-1.5 1.5-1.5-1.5zM554.6 137l1.5 1.5-1.5 1.5-1.5-1.5zM518.8 158.3l1.5 1.5-1.5 1.5-1.5-1.5zM530.7 141.2l1.5 1.5-1.5 1.5-1.5-1.5zM507 166.3l1.5 1.5-1.5 1.5-1.5-1.5zM527.6 141l1.5 1.5-1.5 1.5-1.5-1.5zM545.7 142.9l1.5 1.5-1.5 1.5-1.5-1.5zM534.4 155.9l1.5 1.5-1.5 1.5-1.5-1.5zM522.4 149.6l1.5 1.5-1.5 1.5-1.5-1.5zM535.3 145.7l1.5 1.5-1.5 1.5-1.5-1.5zM543.5 144.9l1.5 1.5-1.5 1.5-1.5-1.5zM542 143.8l1.5 1.5-1.5 1.5-1.5-1.5zM559.5 134.9l1.5 1.5-1.5 1.5-1.5-1.5zM533.4 143.6l1.5 1.5-1.5 1.5-1.5-1.5zM528.7 157.1l1.5 1.5-1.5 1.5-1.5-1.5zM534.4 153.2l1.5 1.5-1.5 1.5-1.5-1.5zM528 143.3l1.5 1.5-1.5 1.5-1.5-1.5zM532.5 144.9l1.5 1.5-1.5 1.5-1.5-1.5zM533 149l1.5 1.5-1.5 1.5-1.5-1.5zM530.3 140.3l1.5 1.5-1.5 1.5-1.5-1.5zM512.4 162l1.5 1.5-1.5 1.5-1.5-1.5zM527.5 155.1l1.5 1.5-1.5 1.5-1.5-1.5zM516.4 155l1.5 1.5-1.5 1.5-1.5-1.5zM540.4 142.4l1.5 1.5-1.5 1.5-1.5-1.5zM545.4 132.3l1.5 1.5-1.5 1.5-1.5-1.5zM537.3 141.8l1.5 1.5-1.5 1.5-1.5-1.5zM533.3 144.6l1.5 1.5-1.5 1.5-1.5-1.5zM518.4 151.8l1.5 1.5-1.5 1.5-1.5-1.5zM541 137.2l1.5 1.5-1.5 1.5-1.5-1.5zM519.7 158.5l1.5 1.5-1.5 1.5-1.5-1.5zM524.1 155.6l1.5 1.5-1.5 1.5-1.5-1.5zM533.1 146.2l1.5 1.5-1.5 1.5-1.5-1.5zM540.4 153.9l1.5 1.5-1.5 1.5-1.5-1.5zM525.7 149.9l1.5 1.5-1.5 1.5-1.5-1.5zM547.6 137.5l1.5 1.5-1.5 1.5-1.5-1.5zM546.6 142.7l1.5 1.5-1.5 1.5-1.5-1.5zM536.2 151.5l1.5 1.5-1.5 1.5-1.5-1.5zM510.9 158.6l1.5 1.5-1.5 1.5-1.5-1.5zM541.9 132.8l1.5 1.5-1.5 1.5-1.5-1.5zM536.2 148.3l1.5 1.5-1.5 1.5-1.5-1.5zM538.7 142.3l1.5 1.5-1.5 1.5-1.5-1.5zM519.1 156l1.5 1.5-1.5 1.5-1.5-1.5zM557.7 136.1l1.5 1.5-1.5 1.5-1.5-1.5zM556.9 130.3l1.5 1.5-1.5 1.5-1.5-1.5zM523.8 162.2l1.5 1.5-1.5 1.5-1.5-1.5zM539.5 147.7l1.5 1.5-1.5 1.5-1.5-1.5zM522.9 151.4l1.5 1.5-1.5 1.5-1.5-1.5zM532.2 147.7l1.5 1.5-1.5 1.5-1.5-1.5zM530.9 152.7l1.5 1.5-1.5 1.5-1.5-1.5zM536.4 140.4l1.5 1.5-1.5 1.5-1.5-1.5zM522.8 150.6l1.5 1.5-1.5 1.5-1.5-1.5zM529.3 149.3l1.5 1.5-1.5 1.5-1.5-1.5zM529.7 157.6l1.5 1.5-1.5 1.5-1.5-1.5zM528.8 145.9l1.5 1.5-1.5 1.5-1.5-1.5zM516.3 154.8l1.5 1.5-1.5 1.5-1.5-1.5zM530 155l1.5 1.5-1.5 1.5-1.5-1.5zM526.9 145.3l1.5 1.5-1.5 1.5-1.5-1.5zM530.4 153l1.5 1.5-1.5 1.5-1.5-1.5zM530 142.8l1.5 1.5-1.5 1.5-1.5-1.5zM528.5 149.4l1.5 1.5-1.5 1.5-1.5-1.5zM544.1 144.4l1.5 1.5-1.5 1.5-1.5-1.5zM521.9 141.4l1.5 1.5-1.5 1.5-1.5-1.5zM526.4 142.8l1.5 1.5-1.5 1.5-1.5-1.5zM521.8 149.6l1.5 1.5-1.5 1.5-1.5-1.5zM528.7 155.5l1.5 1.5-1.5 1.5-1.5-1.5zM517.3 158.5l1.5 1.5-1.5 1.5-1.5-1.5zM537.8 141.8l1.5 1.5-1.5 1.5-1.5-1.5zM519.4 158.3l1.5 1.5-1.5 1.5-1.5-1.5zM525 156l1.5 1.5-1.5 1.5-1.5-1.5zM536.1 143.5l1.5 1.5-1.5 1.5-1.5-1.5zM537.1 143.8l1.5 1.5-1.5 1.5-1.5-1.5zM531.6 156.3l1.5 1.5-1.5 1.5-1.5-1.5zM503.5 158.7l1.5 1.5-1.5 1.5-1.5-1.5zM538.2 144.8l1.5 1.5-1.5 1.5-1.5-1.5zM529.6 137.3l1.5 1.5-1.5 1.5-1.5-1.5zM514.3 158.1l1.5 1.5-1.5 1.5-1.5-1.5zM543.3 143l1.5 1.5-1.5 1.5-1.5-1.5zM525.8 155.9l1.5 1.5-1.5 1.5-1.5-1.5zM515.9 153.2l1.5 1.5-1.5 1.5-1.5-1.5zM535.1 148.7l1.5 1.5-1.5 1.5-1.5-1.5zM530 148.7l1.5 1.5-1.5 1.5-1.5-1.5zM532 141.9l1.5 1.5-1.5 1.5-1.5-1.5zM555.8 133.9l1.5 1.5-1.5 1.5-1.5-1.5zM525.7 153.3l1.5 1.5-1.5 1.5-1.5-1.5zM512.9 159.4l1.5 1.5-1.5 1.5-1.5-1.5zM544.2 147.9l1.5 1.5-1.5 1.5-1.5-1.5zM523.7 144.6l1.5 1.5-1.5 1.5-1.5-1.5zM535 142.9l1.5 1.5-1.5 1.5-1.5-1.5zM532.4 155.8l1.5 1.5-1.5 1.5-1.5-1.5zM535.8 153.4l1.5 1.5-1.5 1.5-1.5-1.5zM538.1 148.9l1.5 1.5-1.5 1.5-1.5-1.5zM526.9 151.7l1.5 1.5-1.5 1.5-1.5-1.5zM520.8 153.4l1.5 1.5-1.5 1.5-1.5-1.5zM537.2 151.9l1.5 1.5-1.5 1.5-1.5-1.5zM539.6 146.1l1.5 1.5-1.5 1.5-1.5-1.5zM524.9 143.1l1.5 1.5-1.5 1.5-1.5-1.5zM517.7 149.1l1.5 1.5-1.5 1.5-1.5-1.5zM508.3 158.7l1.5 1.5-1.5 1.5-1.5-1.5zM519.2 155.3l1.5 1.5-1.5 1.5-1.5-1.5zM529.7 142.9l1.5 1.5-1.5 1.5-1.5-1.5zM518.8 162.8l1.5 1.5-1.5 1.5-1.5-1.5zM532.9 147.4l1.5 1.5-1.5 1.5-1.5-1.5zM529.8 145.4l1.5 1.5-1.5 1.5-1.5-1.5zM548.1 146.3l1.5 1.5-1.5 1.5-1.5-1.5zM520.9 154.6l1.5 1.5-1.5 1.5-1.5-1.5zM524.7 152.6l1.5 1.5-1.5 1.5-1.5-1.5zM535.8 143.8l1.5 1.5-1.5 1.5-1.5-1.5zM502.4 168l1.5 1.5-1.5 1.5-1.5-1.5zM521.5 150.1l1.5 1.5-1.5 1.5-1.5-1.5zM526.6 157.6l1.5 1.5-1.5 1.5-1.5-1.5zM546.7 145.2l1.5 1.5-1.5 1.5-1.5-1.5zM535.8 152.9l1.5 1.5-1.5 1.5-1.5-1.5zM509 160.2l1.5 1.5-1.5 1.5-1.5-1.5zM540.8 143.2l1.5 1.5-1.5 1.5-1.5-1.5zM541.7 138.8l1.5 1.5-1.5 1.5-1.5-1.5zM525.9 149.8l1.5 1.5-1.5 1.5-1.5-1.5zM531.2 152.8l1.5 1.5-1.5 1.5-1.5-1.5zM540.6 146.4l1.5 1.5-1.5 1.5-1.5-1.5zM518.9 151.9l1.5 1.5-1.5 1.5-1.5-1.5zM536.2 141.6l1.5 1.5-1.5 1.5-1.5-1.5zM539.5 152l1.5 1.5-1.5 1.5-1.5-1.5zM525.5 154.9l1.5 1.5-1.5 1.5-1.5-1.5zM511.8 154.3l1.5 1.5-1.5 1.5-1.5-1.5zM531.8 152.2l1.5 1.5-1.5 1.5-1.5-1.5zM520.9 153.6l1.5 1.5-1.5 1.5-1.5-1.5zM548.7 144.5l1.5 1.5-1.5 1.5-1.5-1.5zM531 142.1l1.5 1.5-1.5 1.5-1.5-1.5zM544 143.7l1.5 1.5-1.5 1.5-1.5-1.5zM536 148.9l1.5 1.5-1.5 1.5-1.5-1.5zM534.7 144.1l1.5 1.5-1.5 1.5-1.5-1.5zM522.9 154l1.5 1.5-1.5 1.5-1.5-1.5zM540.6 141.9l1.5 1.5-1.5 1.5-1.5-1.5zM552.2 129.9l1.5 1.5-1.5 1.5-1.5-1.5zM528.6 150l1.5 1.5-1.5 1.5-1.5-1.5zM524.6 151.6l1.5 1.5-1.5 1.5-1.5-1.5zM525.7 142.4l1.5 1.5-1.5 1.5-1.5-1.5zM526.7 151.7l1.5 1.5-1.5 1.5-1.5-1.5zM524 153.5l1.5 1.5-1.5 1.5-1.5-1.5zM531.5 142.8l1.5 1.5-1.5 1.5-1.5-1.5zM532.7 155l1.5 1.5-1.5 1.5-1.5-1.5zM547.7 132.4l1.5 1.5-1.5 1.5-1.5-1.5zM533.1 148.3l1.5 1.5-1.5 1.5-1.5-1.5zM539 148.2l1.5 1.5-1.5 1.5-1.5-1.5zM546.6 142.8l1.5 1.5-1.5 1.5-1.5-1.5zM531 152.9l1.5 1.5-1.5 1.5-1.5-1.5zM549.3 134.5l1.5 1.5-1.5 1.5-1.5-1.5zM526.2 154.8l1.5 1.5-1.5 1.5-1.5-1.5zM530 153.2l1.5 1.5-1.5 1.5-1.5-1.5zM529 145.8l1.5 1.5-1.5 1.5-1.5-1.5zM515 158.8l1.5 1.5-1.5 1.5-1.5-1.5zM534.3 150.9l1.5 1.5-1.5 1.5-1.5-1.5zM514.2 164.3l1.5 1.5-1.5 1.5-1.5-1.5zM547.4 133.2l1.5 1.5-1.5 1.5-1.5-1.5zM533.5 150.9l1.5 1.5-1.5 1.5-1.5-1.5zM522.4 150l1.5 1.5-1.5 1.5-1.5-1.5zM528.7 151.9l1.5 1.5-1.5 1.5-1.5-1.5zM532.7 153.3l1.5 1.5-1.5 1.5-1.5-1.5zM519.9 156.6l1.5 1.5-1.5 1.5-1.5-1.5zM520.2 153.9l1.5 1.5-1.5 1.5-1.5-1.5zM531.7 151.1l1.5 1.5-1.5 1.5-1.5-1.5zM524.7 150l1.5 1.5-1.5 1.5-1.5-1.5zM541.6 136.5l1.5 1.5-1.5 1.5-1.5-1.5zM547.5 139.5l1.5 1.5-1.5 1.5-1.5-1.5zM536.7 152.8l1.5 1.5-1.5 1.5-1.5-1.5zM535.9 140.4l1.5 1.5-1.5 1.5-1.5-1.5zM517.5 160.4l1.5 1.5-1.5 1.5-1.5-1.5zM541.2 143.5l1.5 1.5-1.5 1.5-1.5-1.5zM529 143.6l1.5 1.5-1.5 1.5-1.5-1.5zM538.8 144l1.5 1.5-1.5 1.5-1.5-1.5zM554.3 137.2l1.5 1.5-1.5 1.5-1.5-1.5zM503.5 165.1l1.5 1.5-1.5 1.5-1.5-1.5zM540.1 151.3l1.5 1.5-1.5 1.5-1.5-1.5zM519.7 157.6l1.5 1.5-1.5 1.5-1.5-1.5zM514.1 155.4l1.5 1.5-1.5 1.5-1.5-1.5zM527.8 153.5l1.5 1.5-1.5 1.5-1.5-1.5zM535.5 146.5l1.5 1.5-1.5 1.5-1.5-1.5zM537.5 139.1l1.5 1.5-1.5 1.5-1.5-1.5zM531.2 144l1.5 1.5-1.5 1.5-1.5-1.5zM521.4 152.3l1.5 1.5-1.5 1.5-1.5-1.5zM522.8 148.3l1.5 1.5-1.5 1.5-1.5-1.5zM542.1 138.6l1.5 1.5-1.5 1.5-1.5-1.5zM532.7 148l1.5 1.5-1.5 1.5-1.5-1.5zM508.6 157.2l1.5 1.5-1.5 1.5-1.5-1.5zM539.4 136l1.5 1.5-1.5 1.5-1.5-1.5zM539.1 146.1l1.5 1.5-1.5 1.5-1.5-1.5zM543.4 140.6l1.5 1.5-1.5 1.5-1.5-1.5zM533.4 157.1l1.5 1.5-1.5 1.5-1.5-1.5zM546.4 145.6l1.5 1.5-1.5 1.5-1.5-1.5zM518.4 155l1.5 1.5-1.5 1.5-1.5-1.5zM541.6 145.7l1.5 1.5-1.5 1.5-1.5-1.5zM525.6 150.4l1.5 1.5-1.5 1.5-1.5-1.5zM542.6 144.3l1.5 1.5-1.5 1.5-1.5-1.5zM546.6 141.6l1.5 1.5-1.5 1.5-1.5-1.5zM523.2 153.4l1.5 1.5-1.5 1.5-1.5-1.5zM534.1 150.9l1.5 1.5-1.5 1.5-1.5-1.5zM531.1 144.8l1.5 1.5-1.5 1.5-1.5-1.5zM550.7 142.5l1.5 1.5-1.5 1.5-1.5-1.5zM542 142.7l1.5 1.5-1.5 1.5-1.5-1.5zM512.7 151.2l1.5 1.5-1.5 1.5-1.5-1.5zM538.4 144.1l1.5 1.5-1.5 1.5-1.5-1.5zM544.5 145.2l1.5 1.5-1.5 1.5-1.5-1.5zM562.4 135l1.5 1.5-1.5 1.5-1.5-1.5zM508.8 157.4l1.5 1.5-1.5 1.5-1.5-1.5zM523.5 148.9l1.5 1.5-1.5 1.5-1.5-1.5zM552.5 141.4l1.5 1.5-1.5 1.5-1.5-1.5zM516.9 160.2l1.5 1.5-1.5 1.5-1.5-1.5zM542.3 147.8l1.5 1.5-1.5 1.5-1.5-1.5zM541.3 134.2l1.5 1.5-1.5 1.5-1.5-1.5zM523.3 151.8l1.5 1.5-1.5 1.5-1.5-1.5zM541.9 146.8l1.5 1.5-1.5 1.5-1.5-1.5zM535.1 148.1l1.5 1.5-1.5 1.5-1.5-1.5zM553.9 138.6l1.5 1.5-1.5 1.5-1.5-1.5zM533.9 149.4l1.5 1.5-1.5 1.5-1.5-1.5zM544.6 139.3l1.5 1.5-1.5 1.5-1.5-1.5zM526.9 144.7l1.5 1.5-1.5 1.5-1.5-1.5zM530 146.7l1.5 1.5-1.5 1.5-1.5-1.5zM550.3 143.2l1.5 1.5-1.5 1.5-1.5-1.5zM541.9 141.1l1.5 1.5-1.5 1.5-1.5-1.5zM529.5 146.3l1.5 1.5-1.5 1.5-1.5-1.5zM533.2 154.9l1.5 1.5-1.5 1.5-1.5-1.5zM526.4 144.2l1.5 1.5-1.5 1.5-1.5-1.5zM539.9 151.7l1.5 1.5-1.5 1.5-1.5-1.5zM524.1 157.7l1.5 1.5-1.5 1.5-1.5-1.5zM538.1 136.7l1.5 1.5-1.5 1.5-1.5-1.5zM518.6 162.9l1.5 1.5-1.5 1.5-1.5-1.5zM526 150.6l1.5 1.5-1.5 1.5-1.5-1.5zM555.7 129.5l1.5 1.5-1.5 1.5-1.5-1.5zM510.1 157.1l1.5 1.5-1.5 1.5-1.5-1.5zM542.6 147.2l1.5 1.5-1.5 1.5-1.5-1.5zM546.2 142.5l1.5 1.5-1.5 1.5-1.5-1.5zM536.3 143.3l1.5 1.5-1.5 1.5-1.5-1.5zM547 137.8l1.5 1.5-1.5 1.5-1.5-1.5zM505.7 168.1l1.5 1.5-1.5 1.5-1.5-1.5zM521 161.7l1.5 1.5-1.5 1.5-1.5-1.5zM532.8 156l1.5 1.5-1.5 1.5-1.5-1.5zM517.9 157.1l1.5 1.5-1.5 1.5-1.5-1.5zM545.6 139.1l1.5 1.5-1.5 1.5-1.5-1.5zM523 152.6l1.5 1.5-1.5 1.5-1.5-1.5zM546.7 144.2l1.5 1.5-1.5 1.5-1.5-1.5zM534 146.5l1.5 1.5-1.5 1.5-1.5-1.5zM524.5 140.4l1.5 1.5-1.5 1.5-1.5-1.5zM535.2 149.8l1.5 1.5-1.5 1.5-1.5-1.5zM533 153.2l1.5 1.5-1.5 1.5-1.5-1.5zM539.3 141.5l1.5 1.5-1.5 1.5-1.5-1.5zM534.5 142.7l1.5 1.5-1.5 1.5-1.5-1.5zM525.8 147.3l1.5 1.5-1.5 1.5-1.5-1.5zM544 138.1l1.5 1.5-1.5 1.5-1.5-1.5zM521.5 148l1.5 1.5-1.5 1.5-1.5-1.5zM530.6 138l1.5 1.5-1.5 1.5-1.5-1.5zM532.4 137l1.5 1.5-1.5 1.5-1.5-1.5zM548.9 133l1.5 1.5-1.5 1.5-1.5-1.5zM524.9 149.9l1.5 1.5-1.5 1.5-1.5-1.5zM537.1 149.4l1.5 1.5-1.5 1.5-1.5-1.5zM534.6 155.2l1.5 1.5-1.5 1.5-1.5-1.5zM525.8 155.2l1.5 1.5-1.5 1.5-1.5-1.5zM540 143.1l1.5 1.5-1.5 1.5-1.5-1.5zM530.7 144l1.5 1.5-1.5 1.5-1.5-1.5zM522.1 160.9l1.5 1.5-1.5 1.5-1.5-1.5zM526.1 152.7l1.5 1.5-1.5 1.5-1.5-1.5zM546.1 138.8l1.5 1.5-1.5 1.5-1.5-1.5zM553.9 142.2l1.5 1.5-1.5 1.5-1.5-1.5zM547 145.5l1.5 1.5-1.5 1.5-1.5-1.5zM537.7 145.7l1.5 1.5-1.5 1.5-1.5-1.5zM530.8 155.8l1.5 1.5-1.5 1.5-1.5-1.5zM533.3 147.4l1.5 1.5-1.5 1.5-1.5-1.5zM543.9 141l1.5 1.5-1.5 1.5-1.5-1.5zM557.2 128l1.5 1.5-1.5 1.5-1.5-1.5zM547.9 145.5l1.5 1.5-1.5 1.5-1.5-1.5zM533 155.2l1.5 1.5-1.5 1.5-1.5-1.5zM528.5 154.1l1.5 1.5-1.5 1.5-1.5-1.5zM518.2 147.8l1.5 1.5-1.5 1.5-1.5-1.5zM530.8 149.9l1.5 1.5-1.5 1.5-1.5-1.5zM536.6 148.2l1.5 1.5-1.5 1.5-1.5-1.5zM530.7 143.9l1.5 1.5-1.5 1.5-1.5-1.5zM552 140.2l1.5 1.5-1.5 1.5-1.5-1.5zM556.8 136.4l1.5 1.5-1.5 1.5-1.5-1.5zM531.4 144.2l1.5 1.5-1.5 1.5-1.5-1.5zM554.4 137.1l1.5 1.5-1.5 1.5-1.5-1.5zM540.4 140.5l1.5 1.5-1.5 1.5-1.5-1.5zM528.3 152.3l1.5 1.5-1.5 1.5-1.5-1.5zM536.7 146.6l1.5 1.5-1.5 1.5-1.5-1.5zM532.2 146.6l1.5 1.5-1.5 1.5-1.5-1.5zM530.2 150.3l1.5 1.5-1.5 1.5-1.5-1.5zM534.5 155.1l1.5 1.5-1.5 1.5-1.5-1.5zM534.3 146.4l1.5 1.5-1.5 1.5-1.5-1.5zM541.6 149l1.5 1.5-1.5 1.5-1.5-1.5zM522.4 155.9l1.5 1.5-1.5 1.5-1.5-1.5zM534.1 149.9l1.5 1.5-1.5 1.5-1.5-1.5zM516.1 163.3l1.5 1.5-1.5 1.5-1.5-1.5zM530 137.9l1.5 1.5-1.5 1.5-1.5-1.5zM531.1 141.6l1.5 1.5-1.5 1.5-1.5-1.5zM540.5 151.2l1.5 1.5-1.5 1.5-1.5-1.5zM542.1 145.8l1.5 1.5-1.5 1.5-1.5-1.5zM521.2 148.9l1.5 1.5-1.5 1.5-1.5-1.5zM529.6 149.5l1.5 1.5-1.5 1.5-1.5-1.5zM538.8 143.4l1.5 1.5-1.5 1.5-1.5-1.5zM535.8 142.3l1.5 1.5-1.5 1.5-1.5-1.5zM530.9 147.7l1.5 1.5-1.5 1.5-1.5-1.5zM545.7 140.5l1.5 1.5-1.5 1.5-1.5-1.5zM549.3 138.7l1.5 1.5-1.5 1.5-1.5-1.5zM525.7 141.8l1.5 1.5-1.5 1.5-1.5-1.5zM515.9 154.6l1.5 1.5-1.5 1.5-1.5-1.5zM533.2 144.5l1.5 1.5-1.5 1.5-1.5-1.5zM535.6 145l1.5 1.5-1.5 1.5-1.5-1.5zM535.8 147.7l1.5 1.5-1.5 1.5-1.5-1.5zM530.9 154.7l1.5 1.5-1.5 1.5-1.5-1.5zM539.5 143.1l1.5 1.5-1.5 1.5-1.5-1.5zM508.3 168l1.5 1.5-1.5 1.5-1.5-1.5zM531.1 140l1.5 1.5-1.5 1.5-1.5-1.5zM537.3 153.3l1.5 1.5-1.5 1.5-1.5-1.5zM518.6 162.8l1.5 1.5-1.5 1.5-1.5-1.5zM562.9 134.4l1.5 1.5-1.5 1.5-1.5-1.5zM514.6 157.9l1.5 1.5-1.5 1.5-1.5-1.5zM516.5 152.8l1.5 1.5-1.5 1.5-1.5-1.5zM516 155.2l1.5 1.5-1.5 1.5-1.5-1.5zM547.2 139.8l1.5 1.5-1.5 1.5-1.5-1.5zM543 145.1l1.5 1.5-1.5 1.5-1.5-1.5zM540.8 144.2l1.5 1.5-1.5 1.5-1.5-1.5zM533.2 142.1l1.5 1.5-1.5 1.5-1.5-1.5zM518.9 161.7l1.5 1.5-1.5 1.5-1.5-1.5zM523.5 150.6l1.5 1.5-1.5 1.5-1.5-1.5zM556.1 137.8l1.5 1.5-1.5 1.5-1.5-1.5zM518.4 160.6l1.5 1.5-1.5 1.5-1.5-1.5zM521.9 154l1.5 1.5-1.5 1.5-1.5-1.5zM531.4 150.1l1.5 1.5-1.5 1.5-1.5-1.5zM543 141.7l1.5 1.5-1.5 1.5-1.5-1.5zM536.3 146.5l1.5 1.5-1.5 1.5-1.5-1.5zM539.7 138.9l1.5 1.5-1.5 1.5-1.5-1.5zM516.1 152.1l1.5 1.5-1.5 1.5-1.5-1.5zM548.7 145.8l1.5 1.5-1.5 1.5-1.5-1.5zM535.4 137.4l1.5 1.5-1.5 1.5-1.5-1.5zM550.3 133.3l1.5 1.5-1.5 1.5-1.5-1.5zM562.3 130.8l1.5 1.5-1.5 1.5-1.5-1.5zM534.7 149.1l1.5 1.5-1.5 1.5-1.5-1.5zM550.3 136.9l1.5 1.5-1.5 1.5-1.5-1.5zM516.3 162.5l1.5 1.5-1.5 1.5-1.5-1.5zM505.9 161.2l1.5 1.5-1.5 1.5-1.5-1.5zM511.8 152l1.5 1.5-1.5 1.5-1.5-1.5zM526.6 153.7l1.5 1.5-1.5 1.5-1.5-1.5zM522.5 148.5l1.5 1.5-1.5 1.5-1.5-1.5zM543.8 147.6l1.5 1.5-1.5 1.5-1.5-1.5zM534.6 143.7l1.5 1.5-1.5 1.5-1.5-1.5zM540.9 144.8l1.5 1.5-1.5 1.5-1.5-1.5zM557.6 134.9l1.5 1.5-1.5 1.5-1.5-1.5zM544.9 134.6l1.5 1.5-1.5 1.5-1.5-1.5zM542.4 136.4l1.5 1.5-1.5 1.5-1.5-1.5zM533.1 147.9l1.5 1.5-1.5 1.5-1.5-1.5zM544.9 139.8l1.5 1.5-1.5 1.5-1.5-1.5zM519.8 154.5l1.5 1.5-1.5 1.5-1.5-1.5zM539.5 138.4l1.5 1.5-1.5 1.5-1.5-1.5zM529.4 145.6l1.5 1.5-1.5 1.5-1.5-1.5zM546.6 138.5l1.5 1.5-1.5 1.5-1.5-1.5zM541.1 147.6l1.5 1.5-1.5 1.5-1.5-1.5zM523.1 161.9l1.5 1.5-1.5 1.5-1.5-1.5zM547.4 137.3l1.5 1.5-1.5 1.5-1.5-1.5zM523.3 149.1l1.5 1.5-1.5 1.5-1.5-1.5zM519.6 149.3l1.5 1.5-1.5 1.5-1.5-1.5zM513.2 158.7l1.5 1.5-1.5 1.5-1.5-1.5zM544 139.2l1.5 1.5-1.5 1.5-1.5-1.5zM553.3 142.9l1.5 1.5-1.5 1.5-1.5-1.5zM542.9 141.7l1.5 1.5-1.5 1.5-1.5-1.5zM539.7 151.1l1.5 1.5-1.5 1.5-1.5-1.5zM530 145.6l1.5 1.5-1.5 1.5-1.5-1.5zM539.8 151.4l1.5 1.5-1.5 1.5-1.5-1.5zM519.7 148.6l1.5 1.5-1.5 1.5-1.5-1.5zM544.4 141.4l1.5 1.5-1.5 1.5-1.5-1.5zM544.2 137.4l1.5 1.5-1.5 1.5-1.5-1.5zM543.6 139.3l1.5 1.5-1.5 1.5-1.5-1.5zM530.2 157.5l1.5 1.5-1.5 1.5-1.5-1.5zM537.7 152.6l1.5 1.5-1.5 1.5-1.5-1.5zM527 144.3l1.5 1.5-1.5 1.5-1.5-1.5zM554.8 133.2l1.5 1.5-1.5 1.5-1.5-1.5zM532.3 142.9l1.5 1.5-1.5 1.5-1.5-1.5zM535.5 141.8l1.5 1.5-1.5 1.5-1.5-1.5zM542.1 143.4l1.5 1.5-1.5 1.5-1.5-1.5zM546.2 144.1l1.5 1.5-1.5 1.5-1.5-1.5zM532.4 146.5l1.5 1.5-1.5 1.5-1.5-1.5zM506.2 161.1l1.5 1.5-1.5 1.5-1.5-1.5zM507.7 159.1l1.5 1.5-1.5 1.5-1.5-1.5zM513.6 153l1.5 1.5-1.5 1.5-1.5-1.5zM528.1 144.8l1.5 1.5-1.5 1.5-1.5-1.5zM532.4 139.9l1.5 1.5-1.5 1.5-1.5-1.5zM542.9 144.4l1.5 1.5-1.5 1.5-1.5-1.5zM530.2 152.8l1.5 1.5-1.5 1.5-1.5-1.5zM543.6 138.8l1.5 1.5-1.5 1.5-1.5-1.5zM526.2 146.1l1.5 1.5-1.5 1.5-1.5-1.5zM522.2 151.2l1.5 1.5-1.5 1.5-1.5-1.5zM542.8 140.3l1.5 1.5-1.5 1.5-1.5-1.5zM521.9 159.6l1.5 1.5-1.5 1.5-1.5-1.5zM535.4 149.1l1.5 1.5-1.5 1.5-1.5-1.5zM525.1 146.5l1.5 1.5-1.5 1.5-1.5-1.5zM532.7 156l1.5 1.5-1.5 1.5-1.5-1.5zM516.6 161.6l1.5 1.5-1.5 1.5-1.5-1.5zM511.8 156.6l1.5 1.5-1.5 1.5-1.5-1.5zM527.6 152.4l1.5 1.5-1.5 1.5-1.5-1.5zM523.8 149.5l1.5 1.5-1.5 1.5-1.5-1.5zM552.6 143.3l1.5 1.5-1.5 1.5-1.5-1.5zM537.6 145.1l1.5 1.5-1.5 1.5-1.5-1.5zM510.8 157.6l1.5 1.5-1.5 1.5-1.5-1.5zM519.3 151.1l1.5 1.5-1.5 1.5-1.5-1.5zM541.5 142.2l1.5 1.5-1.5 1.5-1.5-1.5zM557.7 134.4l1.5 1.5-1.5 1.5-1.5-1.5zM537.9 145.3l1.5 1.5-1.5 1.5-1.5-1.5zM534.9 143.1l1.5 1.5-1.5 1.5-1.5-1.5zM554.9 131.5l1.5 1.5-1.5 1.5-1.5-1.5zM534.5 150.8l1.5 1.5-1.5 1.5-1.5-1.5zM531 153.1l1.5 1.5-1.5 1.5-1.5-1.5zM513.6 157.3l1.5 1.5-1.5 1.5-1.5-1.5zM529.3 156l1.5 1.5-1.5 1.5-1.5-1.5zM562.1 133.3l1.5 1.5-1.5 1.5-1.5-1.5zM531.2 145.5l1.5 1.5-1.5 1.5-1.5-1.5zM515.6 159.8l1.5 1.5-1.5 1.5-1.5-1.5zM536 149l1.5 1.5-1.5 1.5-1.5-1.5zM546.5 144.4l1.5 1.5-1.5 1.5-1.5-1.5zM532.9 154l1.5 1.5-1.5 1.5-1.5-1.5zM543.2 143.8l1.5 1.5-1.5 1.5-1.5-1.5zM539.8 139.5l1.5 1.5-1.5 1.5-1.5-1.5zM535.5 140.6l1.5 1.5-1.5 1.5-1.5-1.5zM552.7 132.2l1.5 1.5-1.5 1.5-1.5-1.5zM527.9 148.9l1.5 1.5-1.5 1.5-1.5-1.5zM526.2 156l1.5 1.5-1.5 1.5-1.5-1.5zM521.1 153.2l1.5 1.5-1.5 1.5-1.5-1.5zM539.3 144.8l1.5 1.5-1.5 1.5-1.5-1.5zM529.6 151.7l1.5 1.5-1.5 1.5-1.5-1.5zM557.3 135.2l1.5 1.5-1.5 1.5-1.5-1.5zM530 149.5l1.5 1.5-1.5 1.5-1.5-1.5zM526.9 148.2l1.5 1.5-1.5 1.5-1.5-1.5zM554.8 135.7l1.5 1.5-1.5 1.5-1.5-1.5zM510.9 165.2l1.5 1.5-1.5 1.5-1.5-1.5zM522 144.7l1.5 1.5-1.5 1.5-1.5-1.5zM540 134.2l1.5 1.5-1.5 1.5-1.5-1.5zM521.7 155.7l1.5 1.5-1.5 1.5-1.5-1.5zM530.7 156.9l1.5 1.5-1.5 1.5-1.5-1.5zM536.2 136.2l1.5 1.5-1.5 1.5-1.5-1.5zM532.1 143.6l1.5 1.5-1.5 1.5-1.5-1.5zM535 136.3l1.5 1.5-1.5 1.5-1.5-1.5zM529.6 142.9l1.5 1.5-1.5 1.5-1.5-1.5zM549.4 142.7l1.5 1.5-1.5 1.5-1.5-1.5zM511.3 163.1l1.5 1.5-1.5 1.5-1.5-1.5zM510.9 158.8l1.5 1.5-1.5 1.5-1.5-1.5zM523.2 148.8l1.5 1.5-1.5 1.5-1.5-1.5zM542.6 135.6l1.5 1.5-1.5 1.5-1.5-1.5zM535.7 147.5l1.5 1.5-1.5 1.5-1.5-1.5zM522.6 149.2l1.5 1.5-1.5 1.5-1.5-1.5zM517.5 154l1.5 1.5-1.5 1.5-1.5-1.5zM526.2 152.2l1.5 1.5-1.5 1.5-1.5-1.5zM525.5 148.2l1.5 1.5-1.5 1.5-1.5-1.5zM525.9 152.6l1.5 1.5-1.5 1.5-1.5-1.5zM514.4 158.8l1.5 1.5-1.5 1.5-1.5-1.5zM526.9 151.8l1.5 1.5-1.5 1.5-1.5-1.5zM506.1 166l1.5 1.5-1.5 1.5-1.5-1.5zM533.1 154.3l1.5 1.5-1.5 1.5-1.5-1.5zM540.1 153.1l1.5 1.5-1.5 1.5-1.5-1.5zM504.7 162l1.5 1.5-1.5 1.5-1.5-1.5zM534.2 147.3l1.5 1.5-1.5 1.5-1.5-1.5zM535.8 149.3l1.5 1.5-1.5 1.5-1.5-1.5zM542.7 132.6l1.5 1.5-1.5 1.5-1.5-1.5zM531.6 148.1l1.5 1.5-1.5 1.5-1.5-1.5zM536.4 140.7l1.5 1.5-1.5 1.5-1.5-1.5zM521.9 143.8l1.5 1.5-1.5 1.5-1.5-1.5zM515 160.3l1.5 1.5-1.5 1.5-1.5-1.5zM543.3 142.6l1.5 1.5-1.5 1.5-1.5-1.5zM531.5 139.2l1.5 1.5-1.5 1.5-1.5-1.5zM540.2 136.4l1.5 1.5-1.5 1.5-1.5-1.5zM523.4 156.9l1.5 1.5-1.5 1.5-1.5-1.5zM539.9 141.5l1.5 1.5-1.5 1.5-1.5-1.5zM516.4 149.2l1.5 1.5-1.5 1.5-1.5-1.5zM537.1 140.5l1.5 1.5-1.5 1.5-1.5-1.5zM516.5 153.4l1.5 1.5-1.5 1.5-1.5-1.5zM548.1 131.7l1.5 1.5-1.5 1.5-1.5-1.5zM538.2 148.9l1.5 1.5-1.5 1.5-1.5-1.5zM551 136.9l1.5 1.5-1.5 1.5-1.5-1.5zM524.3 156.9l1.5 1.5-1.5 1.5-1.5-1.5zM525.3 149.8l1.5 1.5-1.5 1.5-1.5-1.5zM545.3 144l1.5 1.5-1.5 1.5-1.5-1.5zM521.7 159.5l1.5 1.5-1.5 1.5-1.5-1.5zM543.3 136.4l1.5 1.5-1.5 1.5-1.5-1.5zM519.2 163.6l1.5 1.5-1.5 1.5-1.5-1.5zM514.5 165.4l1.5 1.5-1.5 1.5-1.5-1.5zM520.7 145.5l1.5 1.5-1.5 1.5-1.5-1.5zM525.6 151.8l1.5 1.5-1.5 1.5-1.5-1.5zM527.4 156.2l1.5 1.5-1.5 1.5-1.5-1.5zM509.2 165.7l1.5 1.5-1.5 1.5-1.5-1.5zM521.6 146.2l1.5 1.5-1.5 1.5-1.5-1.5zM538.2 148l1.5 1.5-1.5 1.5-1.5-1.5zM522.7 148.8l1.5 1.5-1.5 1.5-1.5-1.5zM520.4 153.1l1.5 1.5-1.5 1.5-1.5-1.5zM502.5 164.5l1.5 1.5-1.5 1.5-1.5-1.5zM560.6 135.2l1.5 1.5-1.5 1.5-1.5-1.5zM519.1 156.8l1.5 1.5-1.5 1.5-1.5-1.5zM556.4 138l1.5 1.5-1.5 1.5-1.5-1.5zM536.6 146.2l1.5 1.5-1.5 1.5-1.5-1.5zM522.2 148l1.5 1.5-1.5 1.5-1.5-1.5zM533 145l1.5 1.5-1.5 1.5-1.5-1.5zM534.6 143.9l1.5 1.5-1.5 1.5-1.5-1.5zM531.8 146.6l1.5 1.5-1.5 1.5-1.5-1.5zM541.9 146.9l1.5 1.5-1.5 1.5-1.5-1.5zM542.8 137.8l1.5 1.5-1.5 1.5-1.5-1.5zM553.8 133.3l1.5 1.5-1.5 1.5-1.5-1.5zM521.9 143l1.5 1.5-1.5 1.5-1.5-1.5zM520.2 150.7l1.5 1.5-1.5 1.5-1.5-1.5zM524.8 159.3l1.5 1.5-1.5 1.5-1.5-1.5zM524.4 152.1l1.5 1.5-1.5 1.5-1.5-1.5zM518.4 153l1.5 1.5-1.5 1.5-1.5-1.5zM541.1 134.9l1.5 1.5-1.5 1.5-1.5-1.5zM544.5 140.8l1.5 1.5-1.5 1.5-1.5-1.5zM552.3 142.7l1.5 1.5-1.5 1.5-1.5-1.5zM530 144.9l1.5 1.5-1.5 1.5-1.5-1.5zM534.9 144.1l1.5 1.5-1.5 1.5-1.5-1.5zM521.6 147.3l1.5 1.5-1.5 1.5-1.5-1.5zM538.7 144.8l1.5 1.5-1.5 1.5-1.5-1.5zM517.6 154.9l1.5 1.5-1.5 1.5-1.5-1.5zM540.8 144.2l1.5 1.5-1.5 1.5-1.5-1.5zM512.8 164.2l1.5 1.5-1.5 1.5-1.5-1.5zM529.3 147.7l1.5 1.5-1.5 1.5-1.5-1.5zM524 151.8l1.5 1.5-1.5 1.5-1.5-1.5zM522.5 147.4l1.5 1.5-1.5 1.5-1.5-1.5zM545.2 141l1.5 1.5-1.5 1.5-1.5-1.5zM541.1 145l1.5 1.5-1.5 1.5-1.5-1.5zM551 143.1l1.5 1.5-1.5 1.5-1.5-1.5zM530.6 141.9l1.5 1.5-1.5 1.5-1.5-1.5zM516.1 157.7l1.5 1.5-1.5 1.5-1.5-1.5zM528.7 151.8l1.5 1.5-1.5 1.5-1.5-1.5zM515.2 153.9l1.5 1.5-1.5 1.5-1.5-1.5zM540.7 147.5l1.5 1.5-1.5 1.5-1.5-1.5zM549.4 140.6l1.5 1.5-1.5 1.5-1.5-1.5zM537.1 145.9l1.5 1.5-1.5 1.5-1.5-1.5zM521.7 148.3l1.5 1.5-1.5 1.5-1.5-1.5zM531.3 155.4l1.5 1.5-1.5 1.5-1.5-1.5zM539.2 151.8l1.5 1.5-1.5 1.5-1.5-1.5zM515.7 161.2l1.5 1.5-1.5 1.5-1.5-1.5zM537 150.2l1.5 1.5-1.5 1.5-1.5-1.5zM537.9 150.2l1.5 1.5-1.5 1.5-1.5-1.5zM523.2 148.9l1.5 1.5-1.5 1.5-1.5-1.5zM528.8 153.4l1.5 1.5-1.5 1.5-1.5-1.5zM529.1 139.3l1.5 1.5-1.5 1.5-1.5-1.5zM518.8 149.9l1.5 1.5-1.5 1.5-1.5-1.5zM521.8 154l1.5 1.5-1.5 1.5-1.5-1.5zM543.3 143.2l1.5 1.5-1.5 1.5-1.5-1.5zM533.4 143.7l1.5 1.5-1.5 1.5-1.5-1.5zM518.2 153.4l1.5 1.5-1.5 1.5-1.5-1.5zM512.3 165l1.5 1.5-1.5 1.5-1.5-1.5zM544.8 141.4l1.5 1.5-1.5 1.5-1.5-1.5zM525.8 157.5l1.5 1.5-1.5 1.5-1.5-1.5zM514.2 159.9l1.5 1.5-1.5 1.5-1.5-1.5zM531.8 148.4l1.5 1.5-1.5 1.5-1.5-1.5zM511.2 163l1.5 1.5-1.5 1.5-1.5-1.5zM523.6 144.9l1.5 1.5-1.5 1.5-1.5-1.5zM505.9 166.6l1.5 1.5-1.5 1.5-1.5-1.5zM529.7 150.4l1.5 1.5-1.5 1.5-1.5-1.5zM502.9 161.1l1.5 1.5-1.5 1.5-1.5-1.5zM527.5 147.5l1.5 1.5-1.5 1.5-1.5-1.5zM553.2 138.5l1.5 1.5-1.5 1.5-1.5-1.5zM528.4 149.5l1.5 1.5-1.5 1.5-1.5-1.5zM542.8 143.2l1.5 1.5-1.5 1.5-1.5-1.5zM518.2 151.4l1.5 1.5-1.5 1.5-1.5-1.5zM512 158l1.5 1.5-1.5 1.5-1.5-1.5zM546.5 141.6l1.5 1.5-1.5 1.5-1.5-1.5zM528.6 144.8l1.5 1.5-1.5 1.5-1.5-1.5zM512.7 151.2l1.5 1.5-1.5 1.5-1.5-1.5zM531.2 152.4l1.5 1.5-1.5 1.5-1.5-1.5zM536.4 151.9l1.5 1.5-1.5 1.5-1.5-1.5zM555 133.8l1.5 1.5-1.5 1.5-1.5-1.5zM525.8 155.7l1.5 1.5-1.5 1.5-1.5-1.5zM514.9 153.3l1.5 1.5-1.5 1.5-1.5-1.5zM545.9 133.7l1.5 1.5-1.5 1.5-1.5-1.5zM531.7 149.9l1.5 1.5-1.5 1.5-1.5-1.5zM530.1 146.9l1.5 1.5-1.5 1.5-1.5-1.5zM510.3 161.7l1.5 1.5-1.5 1.5-1.5-1.5zM538.2 146.6l1.5 1.5-1.5 1.5-1.5-1.5zM538.2 152.8l1.5 1.5-1.5 1.5-1.5-1.5zM521.1 158.4l1.5 1.5-1.5 1.5-1.5-1.5zM514.2 154.6l1.5 1.5-1.5 1.5-1.5-1.5zM530.6 146l1.5 1.5-1.5 1.5-1.5-1.5zM527.4 152.8l1.5 1.5-1.5 1.5-1.5-1.5zM537.2 146.3l1.5 1.5-1.5 1.5-1.5-1.5zM534.5 151.2l1.5 1.5-1.5 1.5-1.5-1.5zM524.3 141.6l1.5 1.5-1.5 1.5-1.5-1.5zM518.7 152.2l1.5 1.5-1.5 1.5-1.5-1.5zM528.5 144l1.5 1.5-1.5 1.5-1.5-1.5zM530.7 150.1l1.5 1.5-1.5 1.5-1.5-1.5zM534.9 153.6l1.5 1.5-1.5 1.5-1.5-1.5zM537.2 139l1.5 1.5-1.5 1.5-1.5-1.5zM525.4 153.8l1.5 1.5-1.5 1.5-1.5-1.5zM530.4 154.1l1.5 1.5-1.5 1.5-1.5-1.5zM545.9 140.4l1.5 1.5-1.5 1.5-1.5-1.5zM528.7 149.3l1.5 1.5-1.5 1.5-1.5-1.5zM529 150.7l1.5 1.5-1.5 1.5-1.5-1.5zM538.3 135.4l1.5 1.5-1.5 1.5-1.5-1.5zM532.5 142.2l1.5 1.5-1.5 1.5-1.5-1.5zM532.7 146.9l1.5 1.5-1.5 1.5-1.5-1.5zM533 144.2l1.5 1.5-1.5 1.5-1.5-1.5zM517 158.7l1.5 1.5-1.5 1.5-1.5-1.5zM549.7 139.1l1.5 1.5-1.5 1.5-1.5-1.5zM508.7 155.4l1.5 1.5-1.5 1.5-1.5-1.5zM537.4 148.2l1.5 1.5-1.5 1.5-1.5-1.5zM528.8 149.4l1.5 1.5-1.5 1.5-1.5-1.5zM518.8 159.8l1.5 1.5-1.5 1.5-1.5-1.5zM550.3 139.4l1.5 1.5-1.5 1.5-1.5-1.5zM529.8 146.7l1.5 1.5-1.5 1.5-1.5-1.5zM535.6 137.1l1.5 1.5-1.5 1.5-1.5-1.5zM551.2 140.4l1.5 1.5-1.5 1.5-1.5-1.5zM546.9 138.3l1.5 1.5-1.5 1.5-1.5-1.5zM510.1 155l1.5 1.5-1.5 1.5-1.5-1.5zM533.3 148.5l1.5 1.5-1.5 1.5-1.5-1.5zM543.7 140.8l1.5 1.5-1.5 1.5-1.5-1.5zM551.5 142l1.5 1.5-1.5 1.5-1.5-1.5zM529.4 153.6l1.5 1.5-1.5 1.5-1.5-1.5zM536.5 145.9l1.5 1.5-1.5 1.5-1.5-1.5zM531.6 144.8l1.5 1.5-1.5 1.5-1.5-1.5zM544.7 133.4l1.5 1.5-1.5 1.5-1.5-1.5zM522.9 144.4l1.5 1.5-1.5 1.5-1.5-1.5zM534.9 151.7l1.5 1.5-1.5 1.5-1.5-1.5zM530.3 154.5l1.5 1.5-1.5 1.5-1.5-1.5zM543.6 144.4l1.5 1.5-1.5 1.5-1.5-1.5zM538.6 143l1.5 1.5-1.5 1.5-1.5-1.5zM553.9 140.6l1.5 1.5-1.5 1.5-1.5-1.5zM530.8 144.7l1.5 1.5-1.5 1.5-1.5-1.5zM554.2 139.3l1.5 1.5-1.5 1.5-1.5-1.5zM550.7 138.2l1.5 1.5-1.5 1.5-1.5-1.5zM518.3 153.8l1.5 1.5-1.5 1.5-1.5-1.5zM535.6 146.1l1.5 1.5-1.5 1.5-1.5-1.5zM532.7 147.1l1.5 1.5-1.5 1.5-1.5-1.5zM540.5 152.1l1.5 1.5-1.5 1.5-1.5-1.5zM518.7 149.7l1.5 1.5-1.5 1.5-1.5-1.5zM536.6 143l1.5 1.5-1.5 1.5-1.5-1.5zM547.7 133.7l1.5 1.5-1.5 1.5-1.5-1.5zM527 145.5l1.5 1.5-1.5 1.5-1.5-1.5zM537 147.9l1.5 1.5-1.5 1.5-1.5-1.5zM531.4 149.8l1.5 1.5-1.5 1.5-1.5-1.5zM534.3 155.2l1.5 1.5-1.5 1.5-1.5-1.5zM539.3 136.1l1.5 1.5-1.5 1.5-1.5-1.5zM525.1 156.8l1.5 1.5-1.5 1.5-1.5-1.5zM560.8 130.4l1.5 1.5-1.5 1.5-1.5-1.5zM537 145l1.5 1.5-1.5 1.5-1.5-1.5zM527.8 155.9l1.5 1.5-1.5 1.5-1.5-1.5zM524.7 145.8l1.5 1.5-1.5 1.5-1.5-1.5zM523.2 147.7l1.5 1.5-1.5 1.5-1.5-1.5zM559.6 131.8l1.5 1.5-1.5 1.5-1.5-1.5zM532 142.1l1.5 1.5-1.5 1.5-1.5-1.5zM527.2 139.3l1.5 1.5-1.5 1.5-1.5-1.5zM507.5 167.7l1.5 1.5-1.5 1.5-1.5-1.5zM543.5 144.4l1.5 1.5-1.5 1.5-1.5-1.5zM522.7 160.9l1.5 1.5-1.5 1.5-1.5-1.5zM519.8 158.8l1.5 1.5-1.5 1.5-1.5-1.5zM541.2 144.4l1.5 1.5-1.5 1.5-1.5-1.5zM521.8 154.8l1.5 1.5-1.5 1.5-1.5-1.5zM543 141.3l1.5 1.5-1.5 1.5-1.5-1.5zM505.8 156.4l1.5 1.5-1.5 1.5-1.5-1.5zM531.7 150.2l1.5 1.5-1.5 1.5-1.5-1.5zM509.7 156.3l1.5 1.5-1.5 1.5-1.5-1.5zM533.3 150.5l1.5 1.5-1.5 1.5-1.5-1.5zM541 136.8l1.5 1.5-1.5 1.5-1.5-1.5zM515.7 159.1l1.5 1.5-1.5 1.5-1.5-1.5zM556.5 135.4l1.5 1.5-1.5 1.5-1.5-1.5zM532.8 155.9l1.5 1.5-1.5 1.5-1.5-1.5zM518.4 158.3l1.5 1.5-1.5 1.5-1.5-1.5zM524.1 139.8l1.5 1.5-1.5 1.5-1.5-1.5zM514.6 158l1.5 1.5-1.5 1.5-1.5-1.5zM534.5 150.6l1.5 1.5-1.5 1.5-1.5-1.5zM516.1 160l1.5 1.5-1.5 1.5-1.5-1.5zM544.1 133.8l1.5 1.5-1.5 1.5-1.5-1.5zM537 150.1l1.5 1.5-1.5 1.5-1.5-1.5zM531.9 157.7l1.5 1.5-1.5 1.5-1.5-1.5zM546.8 141.5l1.5 1.5-1.5 1.5-1.5-1.5zM516 157.7l1.5 1.5-1.5 1.5-1.5-1.5zM525.2 148l1.5 1.5-1.5 1.5-1.5-1.5zM552.2 128.8l1.5 1.5-1.5 1.5-1.5-1.5zM528.5 145.8l1.5 1.5-1.5 1.5-1.5-1.5zM547.6 134.7l1.5 1.5-1.5 1.5-1.5-1.5zM537.2 149.5l1.5 1.5-1.5 1.5-1.5-1.5zM526.1 156.8l1.5 1.5-1.5 1.5-1.5-1.5zM528.3 148.6l1.5 1.5-1.5 1.5-1.5-1.5zM531.7 145.2l1.5 1.5-1.5 1.5-1.5-1.5zM524.4 147.4l1.5 1.5-1.5 1.5-1.5-1.5zM520 151.7l1.5 1.5-1.5 1.5-1.5-1.5zM524.1 156.1l1.5 1.5-1.5 1.5-1.5-1.5zM515.3 161.7l1.5 1.5-1.5 1.5-1.5-1.5zM530 142l1.5 1.5-1.5 1.5-1.5-1.5zM534.8 141.5l1.5 1.5-1.5 1.5-1.5-1.5zM507 158.7l1.5 1.5-1.5 1.5-1.5-1.5zM541.7 140.5l1.5 1.5-1.5 1.5-1.5-1.5zM534.9 151.8l1.5 1.5-1.5 1.5-1.5-1.5zM517.8 163.7l1.5 1.5-1.5 1.5-1.5-1.5zM531 143.7l1.5 1.5-1.5 1.5-1.5-1.5zM541.8 140.4l1.5 1.5-1.5 1.5-1.5-1.5zM542.3 143.2l1.5 1.5-1.5 1.5-1.5-1.5zM541 136.2l1.5 1.5-1.5 1.5-1.5-1.5zM545.7 143.6l1.5 1.5-1.5 1.5-1.5-1.5zM526.5 141l1.5 1.5-1.5 1.5-1.5-1.5zM518.2 147.8l1.5 1.5-1.5 1.5-1.5-1.5zM537.9 146.5l1.5 1.5-1.5 1.5-1.5-1.5zM529.5 155.6l1.5 1.5-1.5 1.5-1.5-1.5zM542.6 144.6l1.5 1.5-1.5 1.5-1.5-1.5zM540.2 138.6l1.5 1.5-1.5 1.5-1.5-1.5zM537.4 153.4l1.5 1.5-1.5 1.5-1.5-1.5zM553.6 129.8l1.5 1.5-1.5 1.5-1.5-1.5zM517.4 152l1.5 1.5-1.5 1.5-1.5-1.5zM525.4 150.2l1.5 1.5-1.5 1.5-1.5-1.5zM518.3 148.3l1.5 1.5-1.5 1.5-1.5-1.5zM542.7 147.1l1.5 1.5-1.5 1.5-1.5-1.5zM541.1 138.4l1.5 1.5-1.5 1.5-1.5-1.5zM513.7 151.8l1.5 1.5-1.5 1.5-1.5-1.5zM527.9 141.1l1.5 1.5-1.5 1.5-1.5-1.5zM524.6 158.3l1.5 1.5-1.5 1.5-1.5-1.5zM533 154.5l1.5 1.5-1.5 1.5-1.5-1.5zM529.5 153.3l1.5 1.5-1.5 1.5-1.5-1.5zM513.5 150.6l1.5 1.5-1.5 1.5-1.5-1.5zM544.4 147.7l1.5 1.5-1.5 1.5-1.5-1.5zM516 156.7l1.5 1.5-1.5 1.5-1.5-1.5zM539.4 135.3l1.5 1.5-1.5 1.5-1.5-1.5zM545.4 141.3l1.5 1.5-1.5 1.5-1.5-1.5zM541 142.8l1.5 1.5-1.5 1.5-1.5-1.5zM559.1 127.3l1.5 1.5-1.5 1.5-1.5-1.5zM514.7 154.1l1.5 1.5-1.5 1.5-1.5-1.5zM522.7 153.3l1.5 1.5-1.5 1.5-1.5-1.5zM520.1 156l1.5 1.5-1.5 1.5-1.5-1.5zM533.4 142.1l1.5 1.5-1.5 1.5-1.5-1.5zM547.9 141.2l1.5 1.5-1.5 1.5-1.5-1.5zM546 142l1.5 1.5-1.5 1.5-1.5-1.5zM534.9 156.7l1.5 1.5-1.5 1.5-1.5-1.5zM517.6 148.3l1.5 1.5-1.5 1.5-1.5-1.5zM519 154.4l1.5 1.5-1.5 1.5-1.5-1.5zM561.1 131.5l1.5 1.5-1.5 1.5-1.5-1.5zM546.9 143.3l1.5 1.5-1.5 1.5-1.5-1.5zM538.5 141.3l1.5 1.5-1.5 1.5-1.5-1.5zM525.1 146.5l1.5 1.5-1.5 1.5-1.5-1.5zM527.9 146.8l1.5 1.5-1.5 1.5-1.5-1.5zM531.6 155.2l1.5 1.5-1.5 1.5-1.5-1.5zM501.3 165.6l1.5 1.5-1.5 1.5-1.5-1.5zM530.1 146.3l1.5 1.5-1.5 1.5-1.5-1.5zM539.5 150.1l1.5 1.5-1.5 1.5-1.5-1.5zM537.1 148.9l1.5 1.5-1.5 1.5-1.5-1.5zM543.7 141.8l1.5 1.5-1.5 1.5-1.5-1.5zM528.7 143.2l1.5 1.5-1.5 1.5-1.5-1.5zM544.5 144.3l1.5 1.5-1.5 1.5-1.5-1.5zM519.2 157.3l1.5 1.5-1.5 1.5-1.5-1.5zM552.1 131.5l1.5 1.5-1.5 1.5-1.5-1.5zM518.7 159.6l1.5 1.5-1.5 1.5-1.5-1.5zM529 150.1l1.5 1.5-1.5 1.5-1.5-1.5zM539 139.2l1.5 1.5-1.5 1.5-1.5-1.5zM521 154.4l1.5 1.5-1.5 1.5-1.5-1.5zM514.9 159.7l1.5 1.5-1.5 1.5-1.5-1.5zM505.9 159.7l1.5 1.5-1.5 1.5-1.5-1.5zM515.1 157.4l1.5 1.5-1.5 1.5-1.5-1.5zM514.6 164.7l1.5 1.5-1.5 1.5-1.5-1.5zM534.2 150.6l1.5 1.5-1.5 1.5-1.5-1.5zM526.1 147.2l1.5 1.5-1.5 1.5-1.5-1.5zM534 141.9l1.5 1.5-1.5 1.5-1.5-1.5zM517.5 153.4l1.5 1.5-1.5 1.5-1.5-1.5zM534.5 153l1.5 1.5-1.5 1.5-1.5-1.5zM525 139l1.5 1.5-1.5 1.5-1.5-1.5zM542.4 149.9l1.5 1.5-1.5 1.5-1.5-1.5zM525.5 144.6l1.5 1.5-1.5 1.5-1.5-1.5zM523.9 152.1l1.5 1.5-1.5 1.5-1.5-1.5zM531.9 145l1.5 1.5-1.5 1.5-1.5-1.5zM543.5 140l1.5 1.5-1.5 1.5-1.5-1.5zM542.3 144.6l1.5 1.5-1.5 1.5-1.5-1.5zM542.9 138.6l1.5 1.5-1.5 1.5-1.5-1.5zM528.4 156.3l1.5 1.5-1.5 1.5-1.5-1.5zM523.7 155.2l1.5 1.5-1.5 1.5-1.5-1.5zM558.4 133.1l1.5 1.5-1.5 1.5-1.5-1.5zM534.5 138.8l1.5 1.5-1.5 1.5-1.5-1.5zM543 143.7l1.5 1.5-1.5 1.5-1.5-1.5zM552.4 139.4l1.5 1.5-1.5 1.5-1.5-1.5zM518.5 162.5l1.5 1.5-1.5 1.5-1.5-1.5zM527.1 152.5l1.5 1.5-1.5 1.5-1.5-1.5zM531.8 157.6l1.5 1.5-1.5 1.5-1.5-1.5zM532.4 155.1l1.5 1.5-1.5 1.5-1.5-1.5zM503.5 168.6l1.5 1.5-1.5 1.5-1.5-1.5zM531.6 149l1.5 1.5-1.5 1.5-1.5-1.5zM539.1 149.3l1.5 1.5-1.5 1.5-1.5-1.5zM541.7 146.8l1.5 1.5-1.5 1.5-1.5-1.5zM538.8 141.5l1.5 1.5-1.5 1.5-1.5-1.5zM519.5 160.2l1.5 1.5-1.5 1.5-1.5-1.5zM540.5 134.9l1.5 1.5-1.5 1.5-1.5-1.5zM519.4 151.6l1.5 1.5-1.5 1.5-1.5-1.5zM518.9 159.9l1.5 1.5-1.5 1.5-1.5-1.5zM524.5 161.3l1.5 1.5-1.5 1.5-1.5-1.5zM521.4 153.9l1.5 1.5-1.5 1.5-1.5-1.5zM531.7 142.5l1.5 1.5-1.5 1.5-1.5-1.5zM543.3 141.9l1.5 1.5-1.5 1.5-1.5-1.5zM504.9 162.8l1.5 1.5-1.5 1.5-1.5-1.5zM542.1 138.4l1.5 1.5-1.5 1.5-1.5-1.5zM539.3 151.7l1.5 1.5-1.5 1.5-1.5-1.5zM534.5 137.9l1.5 1.5-1.5 1.5-1.5-1.5zM513.1 158.7l1.5 1.5-1.5 1.5-1.5-1.5zM540.1 134.3l1.5 1.5-1.5 1.5-1.5-1.5zM510.1 156.4l1.5 1.5-1.5 1.5-1.5-1.5zM551.2 139l1.5 1.5-1.5 1.5-1.5-1.5zM555.8 132.3l1.5 1.5-1.5 1.5-1.5-1.5zM535 138.3l1.5 1.5-1.5 1.5-1.5-1.5zM545 142.6l1.5 1.5-1.5 1.5-1.5-1.5zM523.3 150.3l1.5 1.5-1.5 1.5-1.5-1.5zM547.7 139l1.5 1.5-1.5 1.5-1.5-1.5zM533.7 149.1l1.5 1.5-1.5 1.5-1.5-1.5zM529.3 146.4l1.5 1.5-1.5 1.5-1.5-1.5zM514.7 158.6l1.5 1.5-1.5 1.5-1.5-1.5zM535.7 148.1l1.5 1.5-1.5 1.5-1.5-1.5zM541.9 144.2l1.5 1.5-1.5 1.5-1.5-1.5zM520.4 151l1.5 1.5-1.5 1.5-1.5-1.5zM521.5 145.5l1.5 1.5-1.5 1.5-1.5-1.5zM550.7 132.9l1.5 1.5-1.5 1.5-1.5-1.5zM531.6 142l1.5 1.5-1.5 1.5-1.5-1.5zM532.4 154.6l1.5 1.5-1.5 1.5-1.5-1.5zM522.6 162.4l1.5 1.5-1.5 1.5-1.5-1.5zM528.4 157.3l1.5 1.5-1.5 1.5-1.5-1.5zM533.2 154.6l1.5 1.5-1.5 1.5-1.5-1.5zM549.2 136l1.5 1.5-1.5 1.5-1.5-1.5zM525.3 153l1.5 1.5-1.5 1.5-1.5-1.5zM557.5 136.6l1.5 1.5-1.5 1.5-1.5-1.5zM529.1 151.8l1.5 1.5-1.5 1.5-1.5-1.5zM541 138.1l1.5 1.5-1.5 1.5-1.5-1.5zM529.5 149.5l1.5 1.5-1.5 1.5-1.5-1.5zM525.5 158.7l1.5 1.5-1.5 1.5-1.5-1.5zM536.7 156.4l1.5 1.5-1.5 1.5-1.5-1.5zM540.7 147.5l1.5 1.5-1.5 1.5-1.5-1.5zM508.9 158.4l1.5 1.5-1.5 1.5-1.5-1.5zM527.8 147.5l1.5 1.5-1.5 1.5-1.5-1.5zM527.2 143.2l1.5 1.5-1.5 1.5-1.5-1.5zM525.7 148.5l1.5 1.5-1.5 1.5-1.5-1.5zM527.7 155.1l1.5 1.5-1.5 1.5-1.5-1.5zM530.3 153.6l1.5 1.5-1.5 1.5-1.5-1.5zM530.6 144.2l1.5 1.5-1.5 1.5-1.5-1.5zM542.8 143.4l1.5 1.5-1.5 1.5-1.5-1.5zM526.3 144.7l1.5 1.5-1.5 1.5-1.5-1.5zM547.4 130l1.5 1.5-1.5 1.5-1.5-1.5zM519.5 152.7l1.5 1.5-1.5 1.5-1.5-1.5zM550.8 140.2l1.5 1.5-1.5 1.5-1.5-1.5zM531.4 150.1l1.5 1.5-1.5 1.5-1.5-1.5zM536.5 144l1.5 1.5-1.5 1.5-1.5-1.5zM543.1 139.6l1.5 1.5-1.5 1.5-1.5-1.5zM526.5 149.6l1.5 1.5-1.5 1.5-1.5-1.5zM549.2 137.8l1.5 1.5-1.5 1.5-1.5-1.5zM526.8 145.2l1.5 1.5-1.5 1.5-1.5-1.5zM542 149.2l1.5 1.5-1.5 1.5-1.5-1.5zM534.4 147.8l1.5 1.5-1.5 1.5-1.5-1.5zM544.2 139.6l1.5 1.5-1.5 1.5-1.5-1.5zM520.2 144.8l1.5 1.5-1.5 1.5-1.5-1.5zM537.4 144.7l1.5 1.5-1.5 1.5-1.5-1.5zM538.9 140.4l1.5 1.5-1.5 1.5-1.5-1.5zM535.9 145.2l1.5 1.5-1.5 1.5-1.5-1.5zM531.5 147l1.5 1.5-1.5 1.5-1.5-1.5zM522.6 151.6l1.5 1.5-1.5 1.5-1.5-1.5zM540.7 136.2l1.5 1.5-1.5 1.5-1.5-1.5zM532.6 144.3l1.5 1.5-1.5 1.5-1.5-1.5zM536.1 140.1l1.5 1.5-1.5 1.5-1.5-1.5zM527.6 149.6l1.5 1.5-1.5 1.5-1.5-1.5zM533.7 148.9l1.5 1.5-1.5 1.5-1.5-1.5zM519.2 155.4l1.5 1.5-1.5 1.5-1.5-1.5zM530.5 142.8l1.5 1.5-1.5 1.5-1.5-1.5zM542.3 141.8l1.5 1.5-1.5 1.5-1.5-1.5zM538.9 153.8l1.5 1.5-1.5 1.5-1.5-1.5zM542.4 139.6l1.5 1.5-1.5 1.5-1.5-1.5zM540.6 150.7l1.5 1.5-1.5 1.5-1.5-1.5zM530.5 149.6l1.5 1.5-1.5 1.5-1.5-1.5zM535.6 141.1l1.5 1.5-1.5 1.5-1.5-1.5zM528.6 146.4l1.5 1.5-1.5 1.5-1.5-1.5zM522.7 158.5l1.5 1.5-1.5 1.5-1.5-1.5zM539.7 150.7l1.5 1.5-1.5 1.5-1.5-1.5zM540 146.6l1.5 1.5-1.5 1.5-1.5-1.5zM530.9 153.6l1.5 1.5-1.5 1.5-1.5-1.5zM535.1 146.2l1.5 1.5-1.5 1.5-1.5-1.5zM535.4 145.2l1.5 1.5-1.5 1.5-1.5-1.5zM522.1 150.6l1.5 1.5-1.5 1.5-1.5-1.5zM539.6 148l1.5 1.5-1.5 1.5-1.5-1.5zM512 162.7l1.5 1.5-1.5 1.5-1.5-1.5zM514.3 162.7l1.5 1.5-1.5 1.5-1.5-1.5zM562.1 133.6l1.5 1.5-1.5 1.5-1.5-1.5zM510.4 161.6l1.5 1.5-1.5 1.5-1.5-1.5zM539.6 142.9l1.5 1.5-1.5 1.5-1.5-1.5zM520.4 152.4l1.5 1.5-1.5 1.5-1.5-1.5zM503.8 158.2l1.5 1.5-1.5 1.5-1.5-1.5zM519.5 152.5l1.5 1.5-1.5 1.5-1.5-1.5zM539.1 137l1.5 1.5-1.5 1.5-1.5-1.5zM532.6 140l1.5 1.5-1.5 1.5-1.5-1.5zM559.3 133.6l1.5 1.5-1.5 1.5-1.5-1.5zM521.6 144.8l1.5 1.5-1.5 1.5-1.5-1.5zM549.2 138.7l1.5 1.5-1.5 1.5-1.5-1.5zM545.6 143.1l1.5 1.5-1.5 1.5-1.5-1.5zM528.6 149.4l1.5 1.5-1.5 1.5-1.5-1.5zM549 132.4l1.5 1.5-1.5 1.5-1.5-1.5zM514.1 156.7l1.5 1.5-1.5 1.5-1.5-1.5zM526.3 151l1.5 1.5-1.5 1.5-1.5-1.5zM547.1 145.3l1.5 1.5-1.5 1.5-1.5-1.5zM544.3 135.8l1.5 1.5-1.5 1.5-1.5-1.5zM531.9 147.5l1.5 1.5-1.5 1.5-1.5-1.5zM530.4 151.1l1.5 1.5-1.5 1.5-1.5-1.5zM550.2 142.1l1.5 1.5-1.5 1.5-1.5-1.5zM562.8 126.2l1.5 1.5-1.5 1.5-1.5-1.5zM509.5 162.1l1.5 1.5-1.5 1.5-1.5-1.5zM539.8 134.7l1.5 1.5-1.5 1.5-1.5-1.5zM525.8 138.4l1.5 1.5-1.5 1.5-1.5-1.5zM520 158.2l1.5 1.5-1.5 1.5-1.5-1.5zM556.5 130.5l1.5 1.5-1.5 1.5-1.5-1.5zM536.7 149.1l1.5 1.5-1.5 1.5-1.5-1.5zM524.9 155.6l1.5 1.5-1.5 1.5-1.5-1.5zM526 151.2l1.5 1.5-1.5 1.5-1.5-1.5zM522.7 148.7l1.5 1.5-1.5 1.5-1.5-1.5zM536.9 148.8l1.5 1.5-1.5 1.5-1.5-1.5zM533 152.1l1.5 1.5-1.5 1.5-1.5-1.5zM543.1 145.5l1.5 1.5-1.5 1.5-1.5-1.5zM516 155.8l1.5 1.5-1.5 1.5-1.5-1.5zM508.6 155.8l1.5 1.5-1.5 1.5-1.5-1.5zM520.2 149.8l1.5 1.5-1.5 1.5-1.5-1.5zM546.8 140.7l1.5 1.5-1.5 1.5-1.5-1.5zM527.7 149.5l1.5 1.5-1.5 1.5-1.5-1.5zM537.4 150.7l1.5 1.5-1.5 1.5-1.5-1.5zM515.7 160l1.5 1.5-1.5 1.5-1.5-1.5zM516.4 154.2l1.5 1.5-1.5 1.5-1.5-1.5zM538.1 142.5l1.5 1.5-1.5 1.5-1.5-1.5zM529.2 150.6l1.5 1.5-1.5 1.5-1.5-1.5zM526.7 151.1l1.5 1.5-1.5 1.5-1.5-1.5zM527.9 155.9l1.5 1.5-1.5 1.5-1.5-1.5zM523.5 152.5l1.5 1.5-1.5 1.5-1.5-1.5zM528.2 153.2l1.5 1.5-1.5 1.5-1.5-1.5zM542.9 146.6l1.5 1.5-1.5 1.5-1.5-1.5zM534.7 149l1.5 1.5-1.5 1.5-1.5-1.5zM516.6 155.8l1.5 1.5-1.5 1.5-1.5-1.5zM531.3 153.4l1.5 1.5-1.5 1.5-1.5-1.5zM558 135.5l1.5 1.5-1.5 1.5-1.5-1.5zM518.3 156.8l1.5 1.5-1.5 1.5-1.5-1.5zM532.1 138.7l1.5 1.5-1.5 1.5-1.5-1.5zM524.3 143.1l1.5 1.5-1.5 1.5-1.5-1.5zM539.4 136.4l1.5 1.5-1.5 1.5-1.5-1.5zM534.9 139.7l1.5 1.5-1.5 1.5-1.5-1.5zM541.4 146.6l1.5 1.5-1.5 1.5-1.5-1.5zM526.6 153.1l1.5 1.5-1.5 1.5-1.5-1.5zM528.2 155.1l1.5 1.5-1.5 1.5-1.5-1.5zM533.3 138.6l1.5 1.5-1.5 1.5-1.5-1.5zM534.9 141l1.5 1.5-1.5 1.5-1.5-1.5zM541.6 151.1l1.5 1.5-1.5 1.5-1.5-1.5zM514.9 156.9l1.5 1.5-1.5 1.5-1.5-1.5zM509.1 157.1l1.5 1.5-1.5 1.5-1.5-1.5zM544.5 145.3l1.5 1.5-1.5 1.5-1.5-1.5zM535.2 137.6l1.5 1.5-1.5 1.5-1.5-1.5zM519.9 156.4l1.5 1.5-1.5 1.5-1.5-1.5zM553.2 134.6l1.5 1.5-1.5 1.5-1.5-1.5zM523.8 160l1.5 1.5-1.5 1.5-1.5-1.5zM518.5 157.6l1.5 1.5-1.5 1.5-1.5-1.5zM535.7 146.4l1.5 1.5-1.5 1.5-1.5-1.5zM528.1 145.7l1.5 1.5-1.5 1.5-1.5-1.5zM532.6 149.4l1.5 1.5-1.5 1.5-1.5-1.5zM536.3 147.1l1.5 1.5-1.5 1.5-1.5-1.5zM527.1 143.9l1.5 1.5-1.5 1.5-1.5-1.5zM532 151.1l1.5 1.5-1.5 1.5-1.5-1.5zM514.1 156.1l1.5 1.5-1.5 1.5-1.5-1.5zM543 146.5l1.5 1.5-1.5 1.5-1.5-1.5zM526.4 156.8l1.5 1.5-1.5 1.5-1.5-1.5zM539.3 143.2l1.5 1.5-1.5 1.5-1.5-1.5zM546 135.2l1.5 1.5-1.5 1.5-1.5-1.5zM528.8 151.4l1.5 1.5-1.5 1.5-1.5-1.5zM540.8 151.7l1.5 1.5-1.5 1.5-1.5-1.5zM561.9 135.6l1.5 1.5-1.5 1.5-1.5-1.5zM538.9 139l1.5 1.5-1.5 1.5-1.5-1.5zM556 133.5l1.5 1.5-1.5 1.5-1.5-1.5zM553.7 138.1l1.5 1.5-1.5 1.5-1.5-1.5zM543 142.9l1.5 1.5-1.5 1.5-1.5-1.5zM524.8 140.1l1.5 1.5-1.5 1.5-1.5-1.5zM522.4 161.5l1.5 1.5-1.5 1.5-1.5-1.5zM535.6 139.8l1.5 1.5-1.5 1.5-1.5-1.5zM536.8 141.8l1.5 1.5-1.5 1.5-1.5-1.5zM529.1 147.4l1.5 1.5-1.5 1.5-1.5-1.5zM546.7 145.5l1.5 1.5-1.5 1.5-1.5-1.5zM521.8 148.3l1.5 1.5-1.5 1.5-1.5-1.5zM550 143.6l1.5 1.5-1.5 1.5-1.5-1.5zM535.3 150.2l1.5 1.5-1.5 1.5-1.5-1.5zM535.3 152.2l1.5 1.5-1.5 1.5-1.5-1.5zM531 145.6l1.5 1.5-1.5 1.5-1.5-1.5zM535.6 154.1l1.5 1.5-1.5 1.5-1.5-1.5zM563.8 127.9l1.5 1.5-1.5 1.5-1.5-1.5zM513.5 161.9l1.5 1.5-1.5 1.5-1.5-1.5zM533 143.9l1.5 1.5-1.5 1.5-1.5-1.5zM550.7 141.2l1.5 1.5-1.5 1.5-1.5-1.5zM536.9 135.8l1.5 1.5-1.5 1.5-1.5-1.5zM529.9 151.5l1.5 1.5-1.5 1.5-1.5-1.5zM556.1 136.2l1.5 1.5-1.5 1.5-1.5-1.5zM520.6 158l1.5 1.5-1.5 1.5-1.5-1.5zM517.6 159.8l1.5 1.5-1.5 1.5-1.5-1.5zM540.6 144.3l1.5 1.5-1.5 1.5-1.5-1.5zM513.2 157.7l1.5 1.5-1.5 1.5-1.5-1.5zM546.9 145l1.5 1.5-1.5 1.5-1.5-1.5zM542.6 142.2l1.5 1.5-1.5 1.5-1.5-1.5zM545.1 146.3l1.5 1.5-1.5 1.5-1.5-1.5zM526.6 151.7l1.5 1.5-1.5 1.5-1.5-1.5zM532.6 143.2l1.5 1.5-1.5 1.5-1.5-1.5zM517.2 151l1.5 1.5-1.5 1.5-1.5-1.5zM551.7 130.4l1.5 1.5-1.5 1.5-1.5-1.5zM541.4 140l1.5 1.5-1.5 1.5-1.5-1.5zM538.1 136.7l1.5 1.5-1.5 1.5-1.5-1.5zM545.6 145.1l1.5 1.5-1.5 1.5-1.5-1.5zM550.8 142l1.5 1.5-1.5 1.5-1.5-1.5zM540.8 139.3l1.5 1.5-1.5 1.5-1.5-1.5zM533.1 148.5l1.5 1.5-1.5 1.5-1.5-1.5zM535 141.5l1.5 1.5-1.5 1.5-1.5-1.5zM535.8 146.1l1.5 1.5-1.5 1.5-1.5-1.5zM530.4 152.4l1.5 1.5-1.5 1.5-1.5-1.5zM521.2 161.2l1.5 1.5-1.5 1.5-1.5-1.5zM536.5 153.4l1.5 1.5-1.5 1.5-1.5-1.5zM523 149.2l1.5 1.5-1.5 1.5-1.5-1.5zM549.7 135.2l1.5 1.5-1.5 1.5-1.5-1.5zM545.2 133.8l1.5 1.5-1.5 1.5-1.5-1.5zM543 143l1.5 1.5-1.5 1.5-1.5-1.5zM510.5 152.8l1.5 1.5-1.5 1.5-1.5-1.5zM557.9 130.2l1.5 1.5-1.5 1.5-1.5-1.5zM539.6 144.3l1.5 1.5-1.5 1.5-1.5-1.5zM531.5 148.9l1.5 1.5-1.5 1.5-1.5-1.5zM527.5 140.4l1.5 1.5-1.5 1.5-1.5-1.5zM522.4 142.5l1.5 1.5-1.5 1.5-1.5-1.5zM542.5 150.4l1.5 1.5-1.5 1.5-1.5-1.5zM536.4 145.2l1.5 1.5-1.5 1.5-1.5-1.5zM533.3 157.5l1.5 1.5-1.5 1.5-1.5-1.5zM528.2 142.7l1.5 1.5-1.5 1.5-1.5-1.5zM538.4 143.7l1.5 1.5-1.5 1.5-1.5-1.5zM542 147.3l1.5 1.5-1.5 1.5-1.5-1.5zM528.2 145.7l1.5 1.5-1.5 1.5-1.5-1.5zM536.4 141.6l1.5 1.5-1.5 1.5-1.5-1.5zM544.2 137.9l1.5 1.5-1.5 1.5-1.5-1.5zM523.4 147l1.5 1.5-1.5 1.5-1.5-1.5zM551.2 136.3l1.5 1.5-1.5 1.5-1.5-1.5zM506.2 160.7l1.5 1.5-1.5 1.5-1.5-1.5zM514.5 154.6l1.5 1.5-1.5 1.5-1.5-1.5zM518.7 151.5l1.5 1.5-1.5 1.5-1.5-1.5zM523.1 159.7l1.5 1.5-1.5 1.5-1.5-1.5zM552.3 143.2l1.5 1.5-1.5 1.5-1.5-1.5zM552.2 143.2l1.5 1.5-1.5 1.5-1.5-1.5zM540 151.6l1.5 1.5-1.5 1.5-1.5-1.5zM524 148.5l1.5 1.5-1.5 1.5-1.5-1.5zM533 142.4l1.5 1.5-1.5 1.5-1.5-1.5zM535.8 155.4l1.5 1.5-1.5 1.5-1.5-1.5zM543.1 143.6l1.5 1.5-1.5 1.5-1.5-1.5zM517.7 164.9l1.5 1.5-1.5 1.5-1.5-1.5zM548.6 144.5l1.5 1.5-1.5 1.5-1.5-1.5zM526.4 150.7l1.5 1.5-1.5 1.5-1.5-1.5zM545.3 143.5l1.5 1.5-1.5 1.5-1.5-1.5zM513.6 160.4l1.5 1.5-1.5 1.5-1.5-1.5zM523 145.3l1.5 1.5-1.5 1.5-1.5-1.5zM532.7 145.9l1.5 1.5-1.5 1.5-1.5-1.5zM547.5 145.3l1.5 1.5-1.5 1.5-1.5-1.5zM519.8 160.7l1.5 1.5-1.5 1.5-1.5-1.5zM540 145.6l1.5 1.5-1.5 1.5-1.5-1.5zM521.9 146.4l1.5 1.5-1.5 1.5-1.5-1.5zM545.7 135.1l1.5 1.5-1.5 1.5-1.5-1.5zM535.4 148.9l1.5 1.5-1.5 1.5-1.5-1.5zM565.5 134.3l1.5 1.5-1.5 1.5-1.5-1.5zM540.4 143.8l1.5 1.5-1.5 1.5-1.5-1.5zM539.6 149.9l1.5 1.5-1.5 1.5-1.5-1.5zM522 150l1.5 1.5-1.5 1.5-1.5-1.5zM539.6 140.6l1.5 1.5-1.5 1.5-1.5-1.5zM559.6 125.9l1.5 1.5-1.5 1.5-1.5-1.5zM545 146.4l1.5 1.5-1.5 1.5-1.5-1.5zM528.1 146.9l1.5 1.5-1.5 1.5-1.5-1.5zM545.9 144l1.5 1.5-1.5 1.5-1.5-1.5zM530.2 143.2l1.5 1.5-1.5 1.5-1.5-1.5zM523.6 160.7l1.5 1.5-1.5 1.5-1.5-1.5zM514.6 158.1l1.5 1.5-1.5 1.5-1.5-1.5zM509.8 163.5l1.5 1.5-1.5 1.5-1.5-1.5zM524.8 142.5l1.5 1.5-1.5 1.5-1.5-1.5zM530.1 157.7l1.5 1.5-1.5 1.5-1.5-1.5zM531.9 153.6l1.5 1.5-1.5 1.5-1.5-1.5zM516 158.6l1.5 1.5-1.5 1.5-1.5-1.5zM533.7 141.7l1.5 1.5-1.5 1.5-1.5-1.5zM549.3 137.4l1.5 1.5-1.5 1.5-1.5-1.5zM550.7 143.8l1.5 1.5-1.5 1.5-1.5-1.5zM515.4 163.3l1.5 1.5-1.5 1.5-1.5-1.5zM548.8 135.7l1.5 1.5-1.5 1.5-1.5-1.5zM523.4 154.3l1.5 1.5-1.5 1.5-1.5-1.5zM508.6 162.8l1.5 1.5-1.5 1.5-1.5-1.5zM516.9 157.1l1.5 1.5-1.5 1.5-1.5-1.5zM519.5 154l1.5 1.5-1.5 1.5-1.5-1.5zM533.9 149.6l1.5 1.5-1.5 1.5-1.5-1.5zM515.4 150.3l1.5 1.5-1.5 1.5-1.5-1.5zM532.5 154l1.5 1.5-1.5 1.5-1.5-1.5zM559.6 136.3l1.5 1.5-1.5 1.5-1.5-1.5zM521.3 149.9l1.5 1.5-1.5 1.5-1.5-1.5zM537.9 143.3l1.5 1.5-1.5 1.5-1.5-1.5zM535.7 149.8l1.5 1.5-1.5 1.5-1.5-1.5zM510.2 164.6l1.5 1.5-1.5 1.5-1.5-1.5zM545.2 137.5l1.5 1.5-1.5 1.5-1.5-1.5zM513.3 153.5l1.5 1.5-1.5 1.5-1.5-1.5zM528.3 156.5l1.5 1.5-1.5 1.5-1.5-1.5zM530.8 147.7l1.5 1.5-1.5 1.5-1.5-1.5zM519 148.4l1.5 1.5-1.5 1.5-1.5-1.5zM509.3 163.2l1.5 1.5-1.5 1.5-1.5-1.5zM551.9 141.4l1.5 1.5-1.5 1.5-1.5-1.5zM525.2 158.5l1.5 1.5-1.5 1.5-1.5-1.5zM528 147.5l1.5 1.5-1.5 1.5-1.5-1.5zM529.5 144.2l1.5 1.5-1.5 1.5-1.5-1.5zM538.8 153.5l1.5 1.5-1.5 1.5-1.5-1.5zM527.1 144.5l1.5 1.5-1.5 1.5-1.5-1.5zM539.1 149.8l1.5 1.5-1.5 1.5-1.5-1.5zM539.4 147.2l1.5 1.5-1.5 1.5-1.5-1.5zM546.7 145.4l1.5 1.5-1.5 1.5-1.5-1.5zM524.1 147l1.5 1.5-1.5 1.5-1.5-1.5zM521.3 158.8l1.5 1.5-1.5 1.5-1.5-1.5zM537.4 139.6l1.5 1.5-1.5 1.5-1.5-1.5zM533.2 149.6l1.5 1.5-1.5 1.5-1.5-1.5zM534.6 136.7l1.5 1.5-1.5 1.5-1.5-1.5zM539.1 143.1l1.5 1.5-1.5 1.5-1.5-1.5zM556.8 138.4l1.5 1.5-1.5 1.5-1.5-1.5zM530.4 139.7l1.5 1.5-1.5 1.5-1.5-1.5zM542.1 141.9l1.5 1.5-1.5 1.5-1.5-1.5zM515.7 154.8l1.5 1.5-1.5 1.5-1.5-1.5zM515.5 151.6l1.5 1.5-1.5 1.5-1.5-1.5zM530 151.9l1.5 1.5-1.5 1.5-1.5-1.5zM515.6 155l1.5 1.5-1.5 1.5-1.5-1.5zM540.4 141.1l1.5 1.5-1.5 1.5-1.5-1.5zM514 155.7l1.5 1.5-1.5 1.5-1.5-1.5zM515.5 152.1l1.5 1.5-1.5 1.5-1.5-1.5zM525.7 146.8l1.5 1.5-1.5 1.5-1.5-1.5zM530.9 151.8l1.5 1.5-1.5 1.5-1.5-1.5zM508.9 160.3l1.5 1.5-1.5 1.5-1.5-1.5zM536.2 149.8l1.5 1.5-1.5 1.5-1.5-1.5zM547.6 143.6l1.5 1.5-1.5 1.5-1.5-1.5zM523.7 152.1l1.5 1.5-1.5 1.5-1.5-1.5zM522.7 148.9l1.5 1.5-1.5 1.5-1.5-1.5zM516.6 155.6l1.5 1.5-1.5 1.5-1.5-1.5zM538.6 140.2l1.5 1.5-1.5 1.5-1.5-1.5zM551.2 137l1.5 1.5-1.5 1.5-1.5-1.5zM524.8 150.2l1.5 1.5-1.5 1.5-1.5-1.5zM510.1 159.6l1.5 1.5-1.5 1.5-1.5-1.5zM534.7 145.6l1.5 1.5-1.5 1.5-1.5-1.5zM538 151.5l1.5 1.5-1.5 1.5-1.5-1.5zM542.7 147.6l1.5 1.5-1.5 1.5-1.5-1.5zM541.5 149.7l1.5 1.5-1.5 1.5-1.5-1.5zM520.9 155.3l1.5 1.5-1.5 1.5-1.5-1.5zM521.7 154l1.5 1.5-1.5 1.5-1.5-1.5zM524.6 153.9l1.5 1.5-1.5 1.5-1.5-1.5zM534.6 144l1.5 1.5-1.5 1.5-1.5-1.5zM511.3 166.5l1.5 1.5-1.5 1.5-1.5-1.5zM539.9 138.7l1.5 1.5-1.5 1.5-1.5-1.5zM544.4 142.6l1.5 1.5-1.5 1.5-1.5-1.5zM531.9 145.7l1.5 1.5-1.5 1.5-1.5-1.5zM537.8 150.5l1.5 1.5-1.5 1.5-1.5-1.5zM553.9 136.2l1.5 1.5-1.5 1.5-1.5-1.5zM516.9 153.4l1.5 1.5-1.5 1.5-1.5-1.5zM518.3 151.2l1.5 1.5-1.5 1.5-1.5-1.5zM520.4 158.4l1.5 1.5-1.5 1.5-1.5-1.5zM529 153.4l1.5 1.5-1.5 1.5-1.5-1.5zM515.8 150.2l1.5 1.5-1.5 1.5-1.5-1.5zM535.3 150.3l1.5 1.5-1.5 1.5-1.5-1.5zM526.1 155.1l1.5 1.5-1.5 1.5-1.5-1.5zM514 158.6l1.5 1.5-1.5 1.5-1.5-1.5zM515.8 163.5l1.5 1.5-1.5 1.5-1.5-1.5zM545.3 134.8l1.5 1.5-1.5 1.5-1.5-1.5zM536.9 155.2l1.5 1.5-1.5 1.5-1.5-1.5zM532.3 152.8l1.5 1.5-1.5 1.5-1.5-1.5zM531.6 145.7l1.5 1.5-1.5 1.5-1.5-1.5zM532 148.9l1.5 1.5-1.5 1.5-1.5-1.5zM538.1 141.2l1.5 1.5-1.5 1.5-1.5-1.5zM523.7 150.4l1.5 1.5-1.5 1.5-1.5-1.5zM521.6 153.4l1.5 1.5-1.5 1.5-1.5-1.5zM521.4 159.6l1.5 1.5-1.5 1.5-1.5-1.5zM515.3 155.5l1.5 1.5-1.5 1.5-1.5-1.5zM518 150.9l1.5 1.5-1.5 1.5-1.5-1.5zM504.2 159.6l1.5 1.5-1.5 1.5-1.5-1.5zM540.3 149.9l1.5 1.5-1.5 1.5-1.5-1.5zM521.6 154.8l1.5 1.5-1.5 1.5-1.5-1.5zM534.9 137.5l1.5 1.5-1.5 1.5-1.5-1.5zM538.9 146.6l1.5 1.5-1.5 1.5-1.5-1.5zM545.5 133.7l1.5 1.5-1.5 1.5-1.5-1.5zM559.9 130.7l1.5 1.5-1.5 1.5-1.5-1.5zM514.5 152.2l1.5 1.5-1.5 1.5-1.5-1.5zM525.9 148.7l1.5 1.5-1.5 1.5-1.5-1.5zM540.7 152.3l1.5 1.5-1.5 1.5-1.5-1.5zM562.4 136.4l1.5 1.5-1.5 1.5-1.5-1.5zM537.8 138l1.5 1.5-1.5 1.5-1.5-1.5zM551.3 143l1.5 1.5-1.5 1.5-1.5-1.5zM527.5 145.2l1.5 1.5-1.5 1.5-1.5-1.5zM539.5 142.3l1.5 1.5-1.5 1.5-1.5-1.5zM541 141.2l1.5 1.5-1.5 1.5-1.5-1.5zM527.9 152.7l1.5 1.5-1.5 1.5-1.5-1.5zM542.9 142.3l1.5 1.5-1.5 1.5-1.5-1.5zM542.8 134.9l1.5 1.5-1.5 1.5-1.5-1.5zM528.5 146.2l1.5 1.5-1.5 1.5-1.5-1.5zM530.1 142.8l1.5 1.5-1.5 1.5-1.5-1.5zM537.2 153.8l1.5 1.5-1.5 1.5-1.5-1.5zM530.3 152.3l1.5 1.5-1.5 1.5-1.5-1.5zM527.3 155.9l1.5 1.5-1.5 1.5-1.5-1.5zM530.9 141.6l1.5 1.5-1.5 1.5-1.5-1.5zM530.8 155.4l1.5 1.5-1.5 1.5-1.5-1.5zM526.8 147.7l1.5 1.5-1.5 1.5-1.5-1.5zM520.9 151.2l1.5 1.5-1.5 1.5-1.5-1.5zM518.6 152.2l1.5 1.5-1.5 1.5-1.5-1.5zM536.6 144.9l1.5 1.5-1.5 1.5-1.5-1.5zM516.1 154.9l1.5 1.5-1.5 1.5-1.5-1.5zM524.4 152.7l1.5 1.5-1.5 1.5-1.5-1.5zM554.7 136.7l1.5 1.5-1.5 1.5-1.5-1.5zM544.7 136.1l1.5 1.5-1.5 1.5-1.5-1.5zM522.9 150.8l1.5 1.5-1.5 1.5-1.5-1.5zM549.2 129.7l1.5 1.5-1.5 1.5-1.5-1.5zM524.8 151.7l1.5 1.5-1.5 1.5-1.5-1.5zM535.1 149l1.5 1.5-1.5 1.5-1.5-1.5zM552 139.5l1.5 1.5-1.5 1.5-1.5-1.5zM526.5 159.9l1.5 1.5-1.5 1.5-1.5-1.5zM549 137.4l1.5 1.5-1.5 1.5-1.5-1.5zM518.6 149.2l1.5 1.5-1.5 1.5-1.5-1.5zM533.5 143.1l1.5 1.5-1.5 1.5-1.5-1.5zM527.2 147.8l1.5 1.5-1.5 1.5-1.5-1.5zM527.7 143.4l1.5 1.5-1.5 1.5-1.5-1.5zM535.4 147.5l1.5 1.5-1.5 1.5-1.5-1.5zM529.9 146l1.5 1.5-1.5 1.5-1.5-1.5zM519 154.6l1.5 1.5-1.5 1.5-1.5-1.5zM547.3 145.9l1.5 1.5-1.5 1.5-1.5-1.5zM543.1 144l1.5 1.5-1.5 1.5-1.5-1.5zM549.9 139l1.5 1.5-1.5 1.5-1.5-1.5zM546.1 131.6l1.5 1.5-1.5 1.5-1.5-1.5zM514.1 156.2l1.5 1.5-1.5 1.5-1.5-1.5zM549.2 138.1l1.5 1.5-1.5 1.5-1.5-1.5zM545.3 132.7l1.5 1.5-1.5 1.5-1.5-1.5zM552.2 137.6l1.5 1.5-1.5 1.5-1.5-1.5zM524.1 149.6l1.5 1.5-1.5 1.5-1.5-1.5zM513.7 156.4l1.5 1.5-1.5 1.5-1.5-1.5zM526.3 148.2l1.5 1.5-1.5 1.5-1.5-1.5zM517.1 157l1.5 1.5-1.5 1.5-1.5-1.5zM532.7 154.1l1.5 1.5-1.5 1.5-1.5-1.5zM516.9 151.3l1.5 1.5-1.5 1.5-1.5-1.5zM525 147.4l1.5 1.5-1.5 1.5-1.5-1.5zM537.5 151.8l1.5 1.5-1.5 1.5-1.5-1.5zM540.9 149.9l1.5 1.5-1.5 1.5-1.5-1.5zM528.8 147.5l1.5 1.5-1.5 1.5-1.5-1.5zM522.8 144.1l1.5 1.5-1.5 1.5-1.5-1.5zM543.7 135.5l1.5 1.5-1.5 1.5-1.5-1.5zM516.3 157.1l1.5 1.5-1.5 1.5-1.5-1.5zM515.5 155.7l1.5 1.5-1.5 1.5-1.5-1.5zM518.3 162.9l1.5 1.5-1.5 1.5-1.5-1.5zM530.8 149.2l1.5 1.5-1.5 1.5-1.5-1.5zM538.7 146.2l1.5 1.5-1.5 1.5-1.5-1.5zM534.4 152.3l1.5 1.5-1.5 1.5-1.5-1.5zM542.2 140l1.5 1.5-1.5 1.5-1.5-1.5zM542.4 148.4l1.5 1.5-1.5 1.5-1.5-1.5zM530.5 151.5l1.5 1.5-1.5 1.5-1.5-1.5zM545.8 134.5l1.5 1.5-1.5 1.5-1.5-1.5zM515.7 150.9l1.5 1.5-1.5 1.5-1.5-1.5zM528.3 148.3l1.5 1.5-1.5 1.5-1.5-1.5zM529.3 153.6l1.5 1.5-1.5 1.5-1.5-1.5zM530.5 149.4l1.5 1.5-1.5 1.5-1.5-1.5zM517.4 153.9l1.5 1.5-1.5 1.5-1.5-1.5zM518.1 161.6l1.5 1.5-1.5 1.5-1.5-1.5zM547.8 144.6l1.5 1.5-1.5 1.5-1.5-1.5zM524.2 154.1l1.5 1.5-1.5 1.5-1.5-1.5zM532.8 149.5l1.5 1.5-1.5 1.5-1.5-1.5zM544.5 146.9l1.5 1.5-1.5 1.5-1.5-1.5zM527.3 149.2l1.5 1.5-1.5 1.5-1.5-1.5zM540.6 143.2l1.5 1.5-1.5 1.5-1.5-1.5zM522.2 149l1.5 1.5-1.5 1.5-1.5-1.5zM532.7 156.7l1.5 1.5-1.5 1.5-1.5-1.5zM527.4 142.8l1.5 1.5-1.5 1.5-1.5-1.5zM531.5 145.7l1.5 1.5-1.5 1.5-1.5-1.5zM533.2 142.1l1.5 1.5-1.5 1.5-1.5-1.5zM537.2 142.1l1.5 1.5-1.5 1.5-1.5-1.5zM538.3 146.8l1.5 1.5-1.5 1.5-1.5-1.5zM540.8 153.3l1.5 1.5-1.5 1.5-1.5-1.5zM505.3 165.6l1.5 1.5-1.5 1.5-1.5-1.5zM540.1 146l1.5 1.5-1.5 1.5-1.5-1.5zM525.1 161.2l1.5 1.5-1.5 1.5-1.5-1.5zM543.4 137.5l1.5 1.5-1.5 1.5-1.5-1.5zM557.9 128.6l1.5 1.5-1.5 1.5-1.5-1.5zM524.8 151.7l1.5 1.5-1.5 1.5-1.5-1.5zM523.5 152.5l1.5 1.5-1.5 1.5-1.5-1.5zM537 153.8l1.5 1.5-1.5 1.5-1.5-1.5zM494.1 163.7l1.5 1.5-1.5 1.5-1.5-1.5zM496.7 165.9l1.5 1.5-1.5 1.5-1.5-1.5zM495.2 167.7l1.5 1.5-1.5 1.5-1.5-1.5zM497.1 167l1.5 1.5-1.5 1.5-1.5-1.5zM500.7 169.9l1.5 1.5-1.5 1.5-1.5-1.5zM489.8 173.5l1.5 1.5-1.5 1.5-1.5-1.5zM493.1 173.9l1.5 1.5-1.5 1.5-1.5-1.5zM492.3 175l1.5 1.5-1.5 1.5-1.5-1.5zM500.7 174.6l1.5 1.5-1.5 1.5-1.5-1.5zM508.7 168.4l1.5 1.5-1.5 1.5-1.5-1.5zM506.6 169.5l1.5 1.5-1.5 1.5-1.5-1.5zM552.5 126.7l1.5 1.5-1.5 1.5-1.5-1.5zM560.6 141.3l1.5 1.5-1.5 1.5-1.5-1.5zM570.8 123.1l1.5 1.5-1.5 1.5-1.5-1.5zM573 122.7l1.5 1.5-1.5 1.5-1.5-1.5zM574.1 126.7l1.5 1.5-1.5 1.5-1.5-1.5zM573.3 127.8l1.5 1.5-1.5 1.5-1.5-1.5zM577 125.6l1.5 1.5-1.5 1.5-1.5-1.5z"/>
<ellipse cx="532.5" cy="149.1" rx="10.8" ry="9.2" fill="none" stroke="#ff0000" stroke-width="2.4"/>
<path d="M519.9 150H523.9" stroke="#000" stroke-width="2"/>
<path d="M541.6 149.5H545.6" stroke="#1a1a1a" stroke-width="1.3"/>
<path d="M532.5 138.2V142.2" stroke="#1a1a1a" stroke-width="1.3"/>
<path d="M533.2 156.6V160.6" stroke="#555" stroke-width="1.6"/>
<line x1="484.2" y1="96.8" x2="526.7" y2="143.4" stroke="#1a1aff" stroke-width="1.3"/><path d="M531.3 148.4L522.2 144.0L526.2 142.8L527.8 138.9Z" fill="#1a1aff"/>
<text x="438.9" y="93.2" font-family="Liberation Serif, serif" font-weight="bold" font-size="10" fill="#1a1aff" textLength="82" lengthAdjust="spacingAndGlyphs">true target position</text>
<line x1="564.2" y1="209.1" x2="541.1" y2="162.9" stroke="#ff1a1a" stroke-width="1.3"/><path d="M538.3 157.4L545.6 163.3L541.4 163.6L538.7 166.8Z" fill="#ff1a1a"/>
<text x="505.4" y="217.5" font-family="Liberation Serif, serif" font-weight="bold" font-size="10" fill="#ff1a1a" textLength="130.5" lengthAdjust="spacingAndGlyphs">radius of CEP equals to 45.05m</text>
<rect x="31" y="336.6" width="287.4" height="244.9" fill="none" stroke="#666" stroke-width="1.1"/>
<path d="M78.5 581.5v-3M78.5 336.6v3M31 540.5h3M318.4 540.5h-3M126.5 581.5v-3M126.5 336.6v3M31 499.5h3M318.4 499.5h-3M174.5 581.5v-3M174.5 336.6v3M31 458.5h3M318.4 458.5h-3M222.5 581.5v-3M222.5 336.6v3M31 417.5h3M318.4 417.5h-3M270.5 581.5v-3M270.5 336.6v3M31 377.5h3M318.4 377.5h-3" stroke="#333" stroke-width="1" fill="none"/>
<g font-family="Liberation Sans, sans-serif" font-size="8.2" fill="#000" stroke="#000" stroke-width="0.3"><text transform="translate(30.2 591.1) scale(0.86 1)" text-anchor="middle">3400</text><text transform="translate(28.1 584.4) scale(0.86 1)" text-anchor="end">3400</text><text transform="translate(78.1 591.1) scale(0.86 1)" text-anchor="middle">3600</text><text transform="translate(28.1 543.6) scale(0.86 1)" text-anchor="end">3600</text><text transform="translate(126 591.1) scale(0.86 1)" text-anchor="middle">3800</text><text transform="translate(28.1 502.8) scale(0.86 1)" text-anchor="end">3800</text><text transform="translate(173.9 591.1) scale(0.86 1)" text-anchor="middle">4000</text><text transform="translate(28.1 461.9) scale(0.86 1)" text-anchor="end">4000</text><text transform="translate(221.8 591.1) scale(0.86 1)" text-anchor="middle">4200</text><text transform="translate(28.1 421.1) scale(0.86 1)" text-anchor="end">4200</text><text transform="translate(269.7 591.1) scale(0.86 1)" text-anchor="middle">4400</text><text transform="translate(28.1 380.3) scale(0.86 1)" text-anchor="end">4400</text><text transform="translate(317.6 591.1) scale(0.86 1)" text-anchor="middle">4600</text><text transform="translate(28.1 339.5) scale(0.86 1)" text-anchor="end">4600</text></g>
<text x="173" y="602.8" text-anchor="middle" font-family="Liberation Serif, serif" font-size="10" fill="#1a1a1a" stroke="#1a1a1a" stroke-width="0.25" textLength="39" lengthAdjust="spacingAndGlyphs">y-axis(m)</text>
<text transform="translate(7.9 459.1) rotate(-90)" text-anchor="middle" font-family="Liberation Serif, serif" font-size="10" fill="#1a1a1a" stroke="#1a1a1a" stroke-width="0.25" textLength="41.5" lengthAdjust="spacing">z-axis(m)</text>
<line x1="31" y1="459.6" x2="174.7" y2="459.6" stroke="#000" stroke-width="2"/>
<line x1="174.7" y1="459.4" x2="318.4" y2="459.4" stroke="#1a1a1a" stroke-width="1.3"/>
<line x1="174" y1="336.6" x2="174" y2="459.1" stroke="#6a6a6a" stroke-width="2"/>
<line x1="174.5" y1="459.1" x2="174.5" y2="581.5" stroke="#1a1a1a" stroke-width="1.3"/>
<path fill="#000" d="M174.6 454.6l1.5 1.5-1.5 1.5-1.5-1.5zM142.5 476.5l1.5 1.5-1.5 1.5-1.5-1.5zM135.5 463l1.5 1.5-1.5 1.5-1.5-1.5zM178.1 451.2l1.5 1.5-1.5 1.5-1.5-1.5zM137.5 474.4l1.5 1.5-1.5 1.5-1.5-1.5zM196.8 418.9l1.5 1.5-1.5 1.5-1.5-1.5zM134.5 488.4l1.5 1.5-1.5 1.5-1.5-1.5zM182.5 442.9l1.5 1.5-1.5 1.5-1.5-1.5zM201.9 453.1l1.5 1.5-1.5 1.5-1.5-1.5zM138.2 478.7l1.5 1.5-1.5 1.5-1.5-1.5zM130.3 491.7l1.5 1.5-1.5 1.5-1.5-1.5zM201.3 432.1l1.5 1.5-1.5 1.5-1.5-1.5zM179.2 458.5l1.5 1.5-1.5 1.5-1.5-1.5zM185.6 448.6l1.5 1.5-1.5 1.5-1.5-1.5zM200.1 431.2l1.5 1.5-1.5 1.5-1.5-1.5zM162.8 448.7l1.5 1.5-1.5 1.5-1.5-1.5zM199.1 438.5l1.5 1.5-1.5 1.5-1.5-1.5zM175.6 453.9l1.5 1.5-1.5 1.5-1.5-1.5zM185.9 457.6l1.5 1.5-1.5 1.5-1.5-1.5zM149.6 458.2l1.5 1.5-1.5 1.5-1.5-1.5zM208.3 436.2l1.5 1.5-1.5 1.5-1.5-1.5zM143.2 470.2l1.5 1.5-1.5 1.5-1.5-1.5zM114.5 491.2l1.5 1.5-1.5 1.5-1.5-1.5zM145.4 481.8l1.5 1.5-1.5 1.5-1.5-1.5zM211.8 432.2l1.5 1.5-1.5 1.5-1.5-1.5zM221 415.5l1.5 1.5-1.5 1.5-1.5-1.5zM212.3 428.1l1.5 1.5-1.5 1.5-1.5-1.5zM111.8 512.5l1.5 1.5-1.5 1.5-1.5-1.5zM210.4 414l1.5 1.5-1.5 1.5-1.5-1.5zM173.4 460.6l1.5 1.5-1.5 1.5-1.5-1.5zM174.5 448.6l1.5 1.5-1.5 1.5-1.5-1.5zM153.3 469l1.5 1.5-1.5 1.5-1.5-1.5zM140.9 492.3l1.5 1.5-1.5 1.5-1.5-1.5zM155.1 464.7l1.5 1.5-1.5 1.5-1.5-1.5zM201 445.1l1.5 1.5-1.5 1.5-1.5-1.5zM118.7 493.9l1.5 1.5-1.5 1.5-1.5-1.5zM115.7 523.4l1.5 1.5-1.5 1.5-1.5-1.5zM216 419.9l1.5 1.5-1.5 1.5-1.5-1.5zM229.6 409.9l1.5 1.5-1.5 1.5-1.5-1.5zM155.6 452.1l1.5 1.5-1.5 1.5-1.5-1.5zM143.2 492.3l1.5 1.5-1.5 1.5-1.5-1.5zM183.1 441.8l1.5 1.5-1.5 1.5-1.5-1.5zM239.6 400.7l1.5 1.5-1.5 1.5-1.5-1.5zM169.8 434.7l1.5 1.5-1.5 1.5-1.5-1.5zM157.2 472l1.5 1.5-1.5 1.5-1.5-1.5zM147.1 492l1.5 1.5-1.5 1.5-1.5-1.5zM200.3 427.8l1.5 1.5-1.5 1.5-1.5-1.5zM153 456.5l1.5 1.5-1.5 1.5-1.5-1.5zM141 491.6l1.5 1.5-1.5 1.5-1.5-1.5zM166.1 469.7l1.5 1.5-1.5 1.5-1.5-1.5zM171.8 452.1l1.5 1.5-1.5 1.5-1.5-1.5zM138.2 494.5l1.5 1.5-1.5 1.5-1.5-1.5zM138.4 483l1.5 1.5-1.5 1.5-1.5-1.5zM176.4 458.6l1.5 1.5-1.5 1.5-1.5-1.5zM124.4 482.8l1.5 1.5-1.5 1.5-1.5-1.5zM171.3 480.2l1.5 1.5-1.5 1.5-1.5-1.5zM177.8 467.1l1.5 1.5-1.5 1.5-1.5-1.5zM154.4 480.6l1.5 1.5-1.5 1.5-1.5-1.5zM140.8 487.6l1.5 1.5-1.5 1.5-1.5-1.5zM147.6 491.6l1.5 1.5-1.5 1.5-1.5-1.5zM135.1 490.9l1.5 1.5-1.5 1.5-1.5-1.5zM157.2 471l1.5 1.5-1.5 1.5-1.5-1.5zM174.6 439.8l1.5 1.5-1.5 1.5-1.5-1.5zM203.6 429.5l1.5 1.5-1.5 1.5-1.5-1.5zM148.5 477.1l1.5 1.5-1.5 1.5-1.5-1.5zM212.2 432.6l1.5 1.5-1.5 1.5-1.5-1.5zM166.8 472l1.5 1.5-1.5 1.5-1.5-1.5zM170.7 467.3l1.5 1.5-1.5 1.5-1.5-1.5zM157.4 464.3l1.5 1.5-1.5 1.5-1.5-1.5zM187.6 428.5l1.5 1.5-1.5 1.5-1.5-1.5zM197.1 431.6l1.5 1.5-1.5 1.5-1.5-1.5zM139.6 484.1l1.5 1.5-1.5 1.5-1.5-1.5zM140.2 475.2l1.5 1.5-1.5 1.5-1.5-1.5zM114.7 510.1l1.5 1.5-1.5 1.5-1.5-1.5zM139.1 478.4l1.5 1.5-1.5 1.5-1.5-1.5zM189.3 432.4l1.5 1.5-1.5 1.5-1.5-1.5zM215 410.6l1.5 1.5-1.5 1.5-1.5-1.5zM135.7 490.6l1.5 1.5-1.5 1.5-1.5-1.5zM198 449.5l1.5 1.5-1.5 1.5-1.5-1.5zM141.9 470.6l1.5 1.5-1.5 1.5-1.5-1.5zM162.5 460.8l1.5 1.5-1.5 1.5-1.5-1.5zM120.8 486.7l1.5 1.5-1.5 1.5-1.5-1.5zM141.1 495.3l1.5 1.5-1.5 1.5-1.5-1.5zM183.5 461.3l1.5 1.5-1.5 1.5-1.5-1.5zM166.1 436l1.5 1.5-1.5 1.5-1.5-1.5zM129.8 491.8l1.5 1.5-1.5 1.5-1.5-1.5zM178.7 441.5l1.5 1.5-1.5 1.5-1.5-1.5zM156.2 485.7l1.5 1.5-1.5 1.5-1.5-1.5zM161.4 454.7l1.5 1.5-1.5 1.5-1.5-1.5zM155 472.9l1.5 1.5-1.5 1.5-1.5-1.5zM178.2 452.4l1.5 1.5-1.5 1.5-1.5-1.5zM190.3 435.9l1.5 1.5-1.5 1.5-1.5-1.5zM152.3 454.7l1.5 1.5-1.5 1.5-1.5-1.5zM153.9 463.6l1.5 1.5-1.5 1.5-1.5-1.5zM158.5 470.5l1.5 1.5-1.5 1.5-1.5-1.5zM150.6 464.6l1.5 1.5-1.5 1.5-1.5-1.5zM204.1 427.1l1.5 1.5-1.5 1.5-1.5-1.5zM198 441.3l1.5 1.5-1.5 1.5-1.5-1.5zM134.2 502.6l1.5 1.5-1.5 1.5-1.5-1.5zM139.1 498.7l1.5 1.5-1.5 1.5-1.5-1.5zM199 453.3l1.5 1.5-1.5 1.5-1.5-1.5zM164.1 450.3l1.5 1.5-1.5 1.5-1.5-1.5zM118.5 507.5l1.5 1.5-1.5 1.5-1.5-1.5zM201.8 435l1.5 1.5-1.5 1.5-1.5-1.5zM125.8 487.4l1.5 1.5-1.5 1.5-1.5-1.5zM176.7 462.4l1.5 1.5-1.5 1.5-1.5-1.5zM143 457.3l1.5 1.5-1.5 1.5-1.5-1.5zM186.2 426.2l1.5 1.5-1.5 1.5-1.5-1.5zM167.3 481l1.5 1.5-1.5 1.5-1.5-1.5zM168 440.6l1.5 1.5-1.5 1.5-1.5-1.5zM191.9 422.4l1.5 1.5-1.5 1.5-1.5-1.5zM129.7 478.6l1.5 1.5-1.5 1.5-1.5-1.5zM200.4 450.5l1.5 1.5-1.5 1.5-1.5-1.5zM115.6 495.1l1.5 1.5-1.5 1.5-1.5-1.5zM228.9 413.8l1.5 1.5-1.5 1.5-1.5-1.5zM174.5 432.7l1.5 1.5-1.5 1.5-1.5-1.5zM200.1 424.9l1.5 1.5-1.5 1.5-1.5-1.5zM213.7 409.3l1.5 1.5-1.5 1.5-1.5-1.5zM141.4 461.3l1.5 1.5-1.5 1.5-1.5-1.5zM218.7 415.6l1.5 1.5-1.5 1.5-1.5-1.5zM158.2 449l1.5 1.5-1.5 1.5-1.5-1.5zM149.3 462.4l1.5 1.5-1.5 1.5-1.5-1.5zM202.7 440.5l1.5 1.5-1.5 1.5-1.5-1.5zM183.6 449.2l1.5 1.5-1.5 1.5-1.5-1.5zM167.5 442.2l1.5 1.5-1.5 1.5-1.5-1.5zM138.5 505.1l1.5 1.5-1.5 1.5-1.5-1.5zM225.5 416.6l1.5 1.5-1.5 1.5-1.5-1.5zM113.7 505.9l1.5 1.5-1.5 1.5-1.5-1.5zM133.4 466.3l1.5 1.5-1.5 1.5-1.5-1.5zM173.8 428.4l1.5 1.5-1.5 1.5-1.5-1.5zM203.3 414.2l1.5 1.5-1.5 1.5-1.5-1.5zM139.9 478.8l1.5 1.5-1.5 1.5-1.5-1.5zM135.1 466.7l1.5 1.5-1.5 1.5-1.5-1.5zM206.9 429.1l1.5 1.5-1.5 1.5-1.5-1.5zM138.9 468.8l1.5 1.5-1.5 1.5-1.5-1.5zM172.4 458.4l1.5 1.5-1.5 1.5-1.5-1.5zM137.4 488.6l1.5 1.5-1.5 1.5-1.5-1.5zM106.8 519.5l1.5 1.5-1.5 1.5-1.5-1.5zM174.4 431.1l1.5 1.5-1.5 1.5-1.5-1.5zM174.5 461.4l1.5 1.5-1.5 1.5-1.5-1.5zM183.6 464.2l1.5 1.5-1.5 1.5-1.5-1.5zM127.8 513.4l1.5 1.5-1.5 1.5-1.5-1.5zM161.8 480l1.5 1.5-1.5 1.5-1.5-1.5zM206.6 442.3l1.5 1.5-1.5 1.5-1.5-1.5zM195.6 441.1l1.5 1.5-1.5 1.5-1.5-1.5zM161.5 489l1.5 1.5-1.5 1.5-1.5-1.5zM132.9 485.2l1.5 1.5-1.5 1.5-1.5-1.5zM125.9 479l1.5 1.5-1.5 1.5-1.5-1.5zM143.4 494.1l1.5 1.5-1.5 1.5-1.5-1.5zM169.1 466.9l1.5 1.5-1.5 1.5-1.5-1.5zM110.7 513.1l1.5 1.5-1.5 1.5-1.5-1.5zM166.2 430.3l1.5 1.5-1.5 1.5-1.5-1.5zM145 468.1l1.5 1.5-1.5 1.5-1.5-1.5zM153.2 482.7l1.5 1.5-1.5 1.5-1.5-1.5zM109.7 504.5l1.5 1.5-1.5 1.5-1.5-1.5zM130.5 477.2l1.5 1.5-1.5 1.5-1.5-1.5zM207.5 439.5l1.5 1.5-1.5 1.5-1.5-1.5zM165.4 477.4l1.5 1.5-1.5 1.5-1.5-1.5zM195.1 434.8l1.5 1.5-1.5 1.5-1.5-1.5zM197.3 449l1.5 1.5-1.5 1.5-1.5-1.5zM201.6 438.4l1.5 1.5-1.5 1.5-1.5-1.5zM207.7 439.3l1.5 1.5-1.5 1.5-1.5-1.5zM141.2 472l1.5 1.5-1.5 1.5-1.5-1.5zM129.9 503.5l1.5 1.5-1.5 1.5-1.5-1.5zM123.9 490.2l1.5 1.5-1.5 1.5-1.5-1.5zM188.4 444.3l1.5 1.5-1.5 1.5-1.5-1.5zM182.6 453.7l1.5 1.5-1.5 1.5-1.5-1.5zM143.1 468.1l1.5 1.5-1.5 1.5-1.5-1.5zM163.9 453.1l1.5 1.5-1.5 1.5-1.5-1.5zM181.5 454.8l1.5 1.5-1.5 1.5-1.5-1.5zM114.3 496.6l1.5 1.5-1.5 1.5-1.5-1.5zM192 429.7l1.5 1.5-1.5 1.5-1.5-1.5zM232.7 407.5l1.5 1.5-1.5 1.5-1.5-1.5zM178.7 429.3l1.5 1.5-1.5 1.5-1.5-1.5zM195 450.6l1.5 1.5-1.5 1.5-1.5-1.5zM217.6 411.3l1.5 1.5-1.5 1.5-1.5-1.5zM130.4 499l1.5 1.5-1.5 1.5-1.5-1.5zM182.6 446.3l1.5 1.5-1.5 1.5-1.5-1.5zM178.2 442.6l1.5 1.5-1.5 1.5-1.5-1.5zM176.3 438.6l1.5 1.5-1.5 1.5-1.5-1.5zM151.1 476.1l1.5 1.5-1.5 1.5-1.5-1.5zM184.7 444.3l1.5 1.5-1.5 1.5-1.5-1.5zM180.2 462.9l1.5 1.5-1.5 1.5-1.5-1.5zM176.2 440.6l1.5 1.5-1.5 1.5-1.5-1.5zM139.1 505.6l1.5 1.5-1.5 1.5-1.5-1.5zM140.4 479.7l1.5 1.5-1.5 1.5-1.5-1.5zM191.4 434.6l1.5 1.5-1.5 1.5-1.5-1.5zM158.3 483.6l1.5 1.5-1.5 1.5-1.5-1.5zM140.4 475.3l1.5 1.5-1.5 1.5-1.5-1.5zM164.2 464.7l1.5 1.5-1.5 1.5-1.5-1.5zM164.6 456.6l1.5 1.5-1.5 1.5-1.5-1.5zM136.8 507.6l1.5 1.5-1.5 1.5-1.5-1.5zM181.1 441.5l1.5 1.5-1.5 1.5-1.5-1.5zM219.5 418.3l1.5 1.5-1.5 1.5-1.5-1.5zM157.5 479.2l1.5 1.5-1.5 1.5-1.5-1.5zM172.2 446.7l1.5 1.5-1.5 1.5-1.5-1.5zM217.4 429l1.5 1.5-1.5 1.5-1.5-1.5zM202.2 407.2l1.5 1.5-1.5 1.5-1.5-1.5zM210.8 430.5l1.5 1.5-1.5 1.5-1.5-1.5zM123.4 501.4l1.5 1.5-1.5 1.5-1.5-1.5zM167.7 457.8l1.5 1.5-1.5 1.5-1.5-1.5zM175.1 462.1l1.5 1.5-1.5 1.5-1.5-1.5zM145.1 476.8l1.5 1.5-1.5 1.5-1.5-1.5zM108.7 502.2l1.5 1.5-1.5 1.5-1.5-1.5zM197.6 423.1l1.5 1.5-1.5 1.5-1.5-1.5zM155.7 459.8l1.5 1.5-1.5 1.5-1.5-1.5zM165.1 428.9l1.5 1.5-1.5 1.5-1.5-1.5zM169.8 467.8l1.5 1.5-1.5 1.5-1.5-1.5zM182.7 465.8l1.5 1.5-1.5 1.5-1.5-1.5zM161.6 463.8l1.5 1.5-1.5 1.5-1.5-1.5zM121.4 490l1.5 1.5-1.5 1.5-1.5-1.5zM163 470.8l1.5 1.5-1.5 1.5-1.5-1.5zM181.3 424.7l1.5 1.5-1.5 1.5-1.5-1.5zM131.3 499.3l1.5 1.5-1.5 1.5-1.5-1.5zM203.8 452.6l1.5 1.5-1.5 1.5-1.5-1.5zM171.1 438.1l1.5 1.5-1.5 1.5-1.5-1.5zM173.6 445.8l1.5 1.5-1.5 1.5-1.5-1.5zM185.6 439.6l1.5 1.5-1.5 1.5-1.5-1.5zM123 489.5l1.5 1.5-1.5 1.5-1.5-1.5zM143.7 480.8l1.5 1.5-1.5 1.5-1.5-1.5zM215.3 414.8l1.5 1.5-1.5 1.5-1.5-1.5zM122.3 508.9l1.5 1.5-1.5 1.5-1.5-1.5zM119.5 487l1.5 1.5-1.5 1.5-1.5-1.5zM179.8 445.3l1.5 1.5-1.5 1.5-1.5-1.5zM182.1 453.8l1.5 1.5-1.5 1.5-1.5-1.5zM181.4 435l1.5 1.5-1.5 1.5-1.5-1.5zM203 449.1l1.5 1.5-1.5 1.5-1.5-1.5zM163.1 477.3l1.5 1.5-1.5 1.5-1.5-1.5zM161.7 481.6l1.5 1.5-1.5 1.5-1.5-1.5zM214.9 408.4l1.5 1.5-1.5 1.5-1.5-1.5zM169.9 447.2l1.5 1.5-1.5 1.5-1.5-1.5zM131.7 480.1l1.5 1.5-1.5 1.5-1.5-1.5zM113.8 512.8l1.5 1.5-1.5 1.5-1.5-1.5zM142 498.9l1.5 1.5-1.5 1.5-1.5-1.5zM169.8 462.6l1.5 1.5-1.5 1.5-1.5-1.5zM180.4 450l1.5 1.5-1.5 1.5-1.5-1.5zM128.3 490.4l1.5 1.5-1.5 1.5-1.5-1.5zM136.8 475l1.5 1.5-1.5 1.5-1.5-1.5zM178.8 462.4l1.5 1.5-1.5 1.5-1.5-1.5zM151.2 480.9l1.5 1.5-1.5 1.5-1.5-1.5zM216.8 411.2l1.5 1.5-1.5 1.5-1.5-1.5zM218.4 425.9l1.5 1.5-1.5 1.5-1.5-1.5zM136.1 507.3l1.5 1.5-1.5 1.5-1.5-1.5zM213.7 429.2l1.5 1.5-1.5 1.5-1.5-1.5zM147.2 489.3l1.5 1.5-1.5 1.5-1.5-1.5zM164.8 486.1l1.5 1.5-1.5 1.5-1.5-1.5zM127 492.3l1.5 1.5-1.5 1.5-1.5-1.5zM133.6 473l1.5 1.5-1.5 1.5-1.5-1.5zM122.7 508.6l1.5 1.5-1.5 1.5-1.5-1.5zM151.8 462.6l1.5 1.5-1.5 1.5-1.5-1.5zM222.6 408.1l1.5 1.5-1.5 1.5-1.5-1.5zM139.3 475.8l1.5 1.5-1.5 1.5-1.5-1.5zM115.5 505l1.5 1.5-1.5 1.5-1.5-1.5zM169 476.3l1.5 1.5-1.5 1.5-1.5-1.5zM131 467.8l1.5 1.5-1.5 1.5-1.5-1.5zM191.1 439.4l1.5 1.5-1.5 1.5-1.5-1.5zM168 477.5l1.5 1.5-1.5 1.5-1.5-1.5zM182.4 442l1.5 1.5-1.5 1.5-1.5-1.5zM142 468.4l1.5 1.5-1.5 1.5-1.5-1.5zM116.5 502.7l1.5 1.5-1.5 1.5-1.5-1.5zM221.6 402.5l1.5 1.5-1.5 1.5-1.5-1.5zM179.9 465.7l1.5 1.5-1.5 1.5-1.5-1.5zM154.5 480.6l1.5 1.5-1.5 1.5-1.5-1.5zM178.3 453.2l1.5 1.5-1.5 1.5-1.5-1.5zM156.4 459.1l1.5 1.5-1.5 1.5-1.5-1.5zM172.7 454.9l1.5 1.5-1.5 1.5-1.5-1.5zM206.7 424l1.5 1.5-1.5 1.5-1.5-1.5zM162 481l1.5 1.5-1.5 1.5-1.5-1.5zM125.7 504.3l1.5 1.5-1.5 1.5-1.5-1.5zM201.5 443.3l1.5 1.5-1.5 1.5-1.5-1.5zM157.1 468.4l1.5 1.5-1.5 1.5-1.5-1.5zM117.5 496.7l1.5 1.5-1.5 1.5-1.5-1.5zM123.1 483.7l1.5 1.5-1.5 1.5-1.5-1.5zM152.7 486.6l1.5 1.5-1.5 1.5-1.5-1.5zM153.2 481l1.5 1.5-1.5 1.5-1.5-1.5zM199.7 439.7l1.5 1.5-1.5 1.5-1.5-1.5zM147.1 475.4l1.5 1.5-1.5 1.5-1.5-1.5zM181.7 443l1.5 1.5-1.5 1.5-1.5-1.5zM145.1 484.8l1.5 1.5-1.5 1.5-1.5-1.5zM118.6 498l1.5 1.5-1.5 1.5-1.5-1.5zM143.7 468.9l1.5 1.5-1.5 1.5-1.5-1.5zM143.4 479.3l1.5 1.5-1.5 1.5-1.5-1.5zM122.8 501.6l1.5 1.5-1.5 1.5-1.5-1.5zM209.8 446.3l1.5 1.5-1.5 1.5-1.5-1.5zM153.9 459.2l1.5 1.5-1.5 1.5-1.5-1.5zM131.3 478.9l1.5 1.5-1.5 1.5-1.5-1.5zM171.8 445.1l1.5 1.5-1.5 1.5-1.5-1.5zM181.4 453.5l1.5 1.5-1.5 1.5-1.5-1.5zM219.9 425.8l1.5 1.5-1.5 1.5-1.5-1.5zM198.5 434.3l1.5 1.5-1.5 1.5-1.5-1.5zM124.6 491.7l1.5 1.5-1.5 1.5-1.5-1.5zM169.5 452.2l1.5 1.5-1.5 1.5-1.5-1.5zM148.5 455.5l1.5 1.5-1.5 1.5-1.5-1.5zM175.1 446.2l1.5 1.5-1.5 1.5-1.5-1.5zM215.1 414.9l1.5 1.5-1.5 1.5-1.5-1.5zM223 422l1.5 1.5-1.5 1.5-1.5-1.5zM171 479l1.5 1.5-1.5 1.5-1.5-1.5zM162.8 434l1.5 1.5-1.5 1.5-1.5-1.5zM209.5 446.4l1.5 1.5-1.5 1.5-1.5-1.5zM162.8 469l1.5 1.5-1.5 1.5-1.5-1.5zM143.4 483.9l1.5 1.5-1.5 1.5-1.5-1.5zM124.4 480.4l1.5 1.5-1.5 1.5-1.5-1.5zM138.9 475.7l1.5 1.5-1.5 1.5-1.5-1.5zM132.3 502.8l1.5 1.5-1.5 1.5-1.5-1.5zM139.2 476l1.5 1.5-1.5 1.5-1.5-1.5zM157.9 457.1l1.5 1.5-1.5 1.5-1.5-1.5zM183 460.7l1.5 1.5-1.5 1.5-1.5-1.5zM115 514.7l1.5 1.5-1.5 1.5-1.5-1.5zM173.9 458l1.5 1.5-1.5 1.5-1.5-1.5zM152.2 489.8l1.5 1.5-1.5 1.5-1.5-1.5zM181.6 445.9l1.5 1.5-1.5 1.5-1.5-1.5zM146.4 491.2l1.5 1.5-1.5 1.5-1.5-1.5zM140.1 487.3l1.5 1.5-1.5 1.5-1.5-1.5zM140 481.6l1.5 1.5-1.5 1.5-1.5-1.5zM140.5 484.9l1.5 1.5-1.5 1.5-1.5-1.5zM162.1 458l1.5 1.5-1.5 1.5-1.5-1.5zM160 475.6l1.5 1.5-1.5 1.5-1.5-1.5zM162.2 482.9l1.5 1.5-1.5 1.5-1.5-1.5zM200.4 449.5l1.5 1.5-1.5 1.5-1.5-1.5zM179.7 434.7l1.5 1.5-1.5 1.5-1.5-1.5zM223.7 398.7l1.5 1.5-1.5 1.5-1.5-1.5zM199.4 448.3l1.5 1.5-1.5 1.5-1.5-1.5zM155.3 452.5l1.5 1.5-1.5 1.5-1.5-1.5zM222.2 415.5l1.5 1.5-1.5 1.5-1.5-1.5zM151.3 480.7l1.5 1.5-1.5 1.5-1.5-1.5zM123.1 485l1.5 1.5-1.5 1.5-1.5-1.5zM153.6 464.6l1.5 1.5-1.5 1.5-1.5-1.5zM158.5 487.3l1.5 1.5-1.5 1.5-1.5-1.5zM170.5 475.7l1.5 1.5-1.5 1.5-1.5-1.5zM155.2 458.2l1.5 1.5-1.5 1.5-1.5-1.5zM167.6 427.5l1.5 1.5-1.5 1.5-1.5-1.5zM151.3 486.8l1.5 1.5-1.5 1.5-1.5-1.5zM215.7 404.5l1.5 1.5-1.5 1.5-1.5-1.5zM152.8 480.6l1.5 1.5-1.5 1.5-1.5-1.5zM195.1 446.2l1.5 1.5-1.5 1.5-1.5-1.5zM113.9 524.1l1.5 1.5-1.5 1.5-1.5-1.5zM149.1 464.6l1.5 1.5-1.5 1.5-1.5-1.5zM215.7 400.8l1.5 1.5-1.5 1.5-1.5-1.5zM132.5 489.5l1.5 1.5-1.5 1.5-1.5-1.5zM201.4 445.7l1.5 1.5-1.5 1.5-1.5-1.5zM190.3 447.2l1.5 1.5-1.5 1.5-1.5-1.5zM162 471.2l1.5 1.5-1.5 1.5-1.5-1.5zM118.6 498l1.5 1.5-1.5 1.5-1.5-1.5zM144.9 464.1l1.5 1.5-1.5 1.5-1.5-1.5zM152.9 465.7l1.5 1.5-1.5 1.5-1.5-1.5zM138.7 484.8l1.5 1.5-1.5 1.5-1.5-1.5zM116.2 510.8l1.5 1.5-1.5 1.5-1.5-1.5zM161.6 441.4l1.5 1.5-1.5 1.5-1.5-1.5zM189.8 452.6l1.5 1.5-1.5 1.5-1.5-1.5zM169.7 435.5l1.5 1.5-1.5 1.5-1.5-1.5zM169.1 469.3l1.5 1.5-1.5 1.5-1.5-1.5zM168.8 444.7l1.5 1.5-1.5 1.5-1.5-1.5zM176.4 454.5l1.5 1.5-1.5 1.5-1.5-1.5zM110.7 498.7l1.5 1.5-1.5 1.5-1.5-1.5zM145.3 474l1.5 1.5-1.5 1.5-1.5-1.5zM117.1 490.2l1.5 1.5-1.5 1.5-1.5-1.5zM231.1 398.9l1.5 1.5-1.5 1.5-1.5-1.5zM159.3 485.3l1.5 1.5-1.5 1.5-1.5-1.5zM159.8 486l1.5 1.5-1.5 1.5-1.5-1.5zM127.5 507.7l1.5 1.5-1.5 1.5-1.5-1.5zM149.7 475.5l1.5 1.5-1.5 1.5-1.5-1.5zM176.9 428l1.5 1.5-1.5 1.5-1.5-1.5zM134.8 478.3l1.5 1.5-1.5 1.5-1.5-1.5zM223.9 422.4l1.5 1.5-1.5 1.5-1.5-1.5zM155.8 476.7l1.5 1.5-1.5 1.5-1.5-1.5zM129.5 474.1l1.5 1.5-1.5 1.5-1.5-1.5zM175.4 454.5l1.5 1.5-1.5 1.5-1.5-1.5zM198.6 426.4l1.5 1.5-1.5 1.5-1.5-1.5zM167.4 451.8l1.5 1.5-1.5 1.5-1.5-1.5zM173.3 468.4l1.5 1.5-1.5 1.5-1.5-1.5zM170.4 442.5l1.5 1.5-1.5 1.5-1.5-1.5zM195.9 442.3l1.5 1.5-1.5 1.5-1.5-1.5zM153.7 483.2l1.5 1.5-1.5 1.5-1.5-1.5zM168.5 459.4l1.5 1.5-1.5 1.5-1.5-1.5zM128.7 474.7l1.5 1.5-1.5 1.5-1.5-1.5zM162.9 448.3l1.5 1.5-1.5 1.5-1.5-1.5zM169 464.4l1.5 1.5-1.5 1.5-1.5-1.5zM136.2 476.7l1.5 1.5-1.5 1.5-1.5-1.5zM137.4 489.8l1.5 1.5-1.5 1.5-1.5-1.5zM119.4 498.2l1.5 1.5-1.5 1.5-1.5-1.5zM128.4 486.5l1.5 1.5-1.5 1.5-1.5-1.5zM216.9 399l1.5 1.5-1.5 1.5-1.5-1.5zM169.6 463.3l1.5 1.5-1.5 1.5-1.5-1.5zM199.1 434.3l1.5 1.5-1.5 1.5-1.5-1.5zM145.2 483.7l1.5 1.5-1.5 1.5-1.5-1.5zM158.9 481.5l1.5 1.5-1.5 1.5-1.5-1.5zM210.8 408.4l1.5 1.5-1.5 1.5-1.5-1.5zM174.4 456.4l1.5 1.5-1.5 1.5-1.5-1.5zM133.4 488.1l1.5 1.5-1.5 1.5-1.5-1.5zM143.2 475.5l1.5 1.5-1.5 1.5-1.5-1.5zM190.5 448.5l1.5 1.5-1.5 1.5-1.5-1.5zM196.9 439.9l1.5 1.5-1.5 1.5-1.5-1.5zM193.5 429.5l1.5 1.5-1.5 1.5-1.5-1.5zM161.6 471.8l1.5 1.5-1.5 1.5-1.5-1.5zM162.3 469.5l1.5 1.5-1.5 1.5-1.5-1.5zM176.1 459.5l1.5 1.5-1.5 1.5-1.5-1.5zM219.4 414.2l1.5 1.5-1.5 1.5-1.5-1.5zM230.6 406.8l1.5 1.5-1.5 1.5-1.5-1.5zM170.5 463.5l1.5 1.5-1.5 1.5-1.5-1.5zM149.6 495.6l1.5 1.5-1.5 1.5-1.5-1.5zM135 476.8l1.5 1.5-1.5 1.5-1.5-1.5zM143.9 467.5l1.5 1.5-1.5 1.5-1.5-1.5zM214 415.4l1.5 1.5-1.5 1.5-1.5-1.5zM199.9 441.2l1.5 1.5-1.5 1.5-1.5-1.5zM163.2 465.8l1.5 1.5-1.5 1.5-1.5-1.5zM176.6 459.7l1.5 1.5-1.5 1.5-1.5-1.5zM133.2 483.8l1.5 1.5-1.5 1.5-1.5-1.5zM139.9 487.5l1.5 1.5-1.5 1.5-1.5-1.5zM207.7 438.6l1.5 1.5-1.5 1.5-1.5-1.5zM173.6 445.3l1.5 1.5-1.5 1.5-1.5-1.5zM137.4 475.3l1.5 1.5-1.5 1.5-1.5-1.5zM154.4 482.1l1.5 1.5-1.5 1.5-1.5-1.5zM162.2 453.4l1.5 1.5-1.5 1.5-1.5-1.5zM147 462l1.5 1.5-1.5 1.5-1.5-1.5zM133.1 476.2l1.5 1.5-1.5 1.5-1.5-1.5zM148 462.7l1.5 1.5-1.5 1.5-1.5-1.5zM140.6 479.7l1.5 1.5-1.5 1.5-1.5-1.5zM211.9 424.8l1.5 1.5-1.5 1.5-1.5-1.5zM149.8 467.6l1.5 1.5-1.5 1.5-1.5-1.5zM147.7 490.7l1.5 1.5-1.5 1.5-1.5-1.5zM165 474.6l1.5 1.5-1.5 1.5-1.5-1.5zM176.8 461.2l1.5 1.5-1.5 1.5-1.5-1.5zM220.8 413.6l1.5 1.5-1.5 1.5-1.5-1.5zM175.2 456.7l1.5 1.5-1.5 1.5-1.5-1.5zM140.1 491.1l1.5 1.5-1.5 1.5-1.5-1.5zM149 474.6l1.5 1.5-1.5 1.5-1.5-1.5zM202.1 415.8l1.5 1.5-1.5 1.5-1.5-1.5zM137.6 480.8l1.5 1.5-1.5 1.5-1.5-1.5zM143.7 467.3l1.5 1.5-1.5 1.5-1.5-1.5zM142.7 468.7l1.5 1.5-1.5 1.5-1.5-1.5zM169.3 482.5l1.5 1.5-1.5 1.5-1.5-1.5zM178 451.5l1.5 1.5-1.5 1.5-1.5-1.5zM226 421.7l1.5 1.5-1.5 1.5-1.5-1.5zM187.7 443.3l1.5 1.5-1.5 1.5-1.5-1.5zM159.9 459.6l1.5 1.5-1.5 1.5-1.5-1.5zM154.2 452.4l1.5 1.5-1.5 1.5-1.5-1.5zM159.9 465.7l1.5 1.5-1.5 1.5-1.5-1.5zM211.8 434l1.5 1.5-1.5 1.5-1.5-1.5zM201.6 417l1.5 1.5-1.5 1.5-1.5-1.5zM162.2 473.4l1.5 1.5-1.5 1.5-1.5-1.5zM185.8 444.4l1.5 1.5-1.5 1.5-1.5-1.5zM212.8 414.8l1.5 1.5-1.5 1.5-1.5-1.5zM203.8 429.3l1.5 1.5-1.5 1.5-1.5-1.5zM192.3 443.7l1.5 1.5-1.5 1.5-1.5-1.5zM137.4 505.6l1.5 1.5-1.5 1.5-1.5-1.5zM144.9 484l1.5 1.5-1.5 1.5-1.5-1.5zM124.5 503.1l1.5 1.5-1.5 1.5-1.5-1.5zM130.2 478.7l1.5 1.5-1.5 1.5-1.5-1.5zM142.5 465.5l1.5 1.5-1.5 1.5-1.5-1.5zM222.7 417.5l1.5 1.5-1.5 1.5-1.5-1.5zM111 513.3l1.5 1.5-1.5 1.5-1.5-1.5zM114.5 510.3l1.5 1.5-1.5 1.5-1.5-1.5zM185.5 433.5l1.5 1.5-1.5 1.5-1.5-1.5zM109.4 521.4l1.5 1.5-1.5 1.5-1.5-1.5zM125.9 495.6l1.5 1.5-1.5 1.5-1.5-1.5zM175.7 457l1.5 1.5-1.5 1.5-1.5-1.5zM184.4 450.8l1.5 1.5-1.5 1.5-1.5-1.5zM177.4 471l1.5 1.5-1.5 1.5-1.5-1.5zM161.3 449.4l1.5 1.5-1.5 1.5-1.5-1.5zM196.6 440.7l1.5 1.5-1.5 1.5-1.5-1.5zM177.1 464.7l1.5 1.5-1.5 1.5-1.5-1.5zM183.8 453l1.5 1.5-1.5 1.5-1.5-1.5zM171.3 448.3l1.5 1.5-1.5 1.5-1.5-1.5zM138.4 464l1.5 1.5-1.5 1.5-1.5-1.5zM186.5 456.2l1.5 1.5-1.5 1.5-1.5-1.5zM161 470.2l1.5 1.5-1.5 1.5-1.5-1.5zM203.8 432l1.5 1.5-1.5 1.5-1.5-1.5zM162.5 446.6l1.5 1.5-1.5 1.5-1.5-1.5zM117.2 508l1.5 1.5-1.5 1.5-1.5-1.5zM183.3 425.2l1.5 1.5-1.5 1.5-1.5-1.5zM223.3 419.4l1.5 1.5-1.5 1.5-1.5-1.5zM137.6 463.7l1.5 1.5-1.5 1.5-1.5-1.5zM183.3 447.1l1.5 1.5-1.5 1.5-1.5-1.5zM173.7 427.9l1.5 1.5-1.5 1.5-1.5-1.5zM147.8 460.6l1.5 1.5-1.5 1.5-1.5-1.5zM174.4 447.8l1.5 1.5-1.5 1.5-1.5-1.5zM179.3 449l1.5 1.5-1.5 1.5-1.5-1.5zM222.1 424.3l1.5 1.5-1.5 1.5-1.5-1.5zM155.4 465.5l1.5 1.5-1.5 1.5-1.5-1.5zM162.3 463.3l1.5 1.5-1.5 1.5-1.5-1.5zM188.5 447.2l1.5 1.5-1.5 1.5-1.5-1.5zM209.3 429.7l1.5 1.5-1.5 1.5-1.5-1.5zM113.7 498.2l1.5 1.5-1.5 1.5-1.5-1.5zM142.4 496.8l1.5 1.5-1.5 1.5-1.5-1.5zM222.2 413l1.5 1.5-1.5 1.5-1.5-1.5zM171.8 451.4l1.5 1.5-1.5 1.5-1.5-1.5zM131.8 478l1.5 1.5-1.5 1.5-1.5-1.5zM169.6 442l1.5 1.5-1.5 1.5-1.5-1.5zM174.7 430.6l1.5 1.5-1.5 1.5-1.5-1.5zM202.9 416.8l1.5 1.5-1.5 1.5-1.5-1.5zM213.9 436l1.5 1.5-1.5 1.5-1.5-1.5zM182 442.9l1.5 1.5-1.5 1.5-1.5-1.5zM132 503.6l1.5 1.5-1.5 1.5-1.5-1.5zM157.4 452.5l1.5 1.5-1.5 1.5-1.5-1.5zM155.7 482.8l1.5 1.5-1.5 1.5-1.5-1.5zM166 448.6l1.5 1.5-1.5 1.5-1.5-1.5zM115.2 506.3l1.5 1.5-1.5 1.5-1.5-1.5zM172.9 445.3l1.5 1.5-1.5 1.5-1.5-1.5zM228.5 398.6l1.5 1.5-1.5 1.5-1.5-1.5zM125.9 496.4l1.5 1.5-1.5 1.5-1.5-1.5zM135.1 479.7l1.5 1.5-1.5 1.5-1.5-1.5zM168 473.7l1.5 1.5-1.5 1.5-1.5-1.5zM180.1 468.3l1.5 1.5-1.5 1.5-1.5-1.5zM179 458.4l1.5 1.5-1.5 1.5-1.5-1.5zM166 441.7l1.5 1.5-1.5 1.5-1.5-1.5zM163 457l1.5 1.5-1.5 1.5-1.5-1.5zM118.7 496.3l1.5 1.5-1.5 1.5-1.5-1.5zM155.9 469.1l1.5 1.5-1.5 1.5-1.5-1.5zM172.8 444.3l1.5 1.5-1.5 1.5-1.5-1.5zM224.6 409.5l1.5 1.5-1.5 1.5-1.5-1.5zM173.4 441.1l1.5 1.5-1.5 1.5-1.5-1.5zM207.5 431.2l1.5 1.5-1.5 1.5-1.5-1.5zM112 502.5l1.5 1.5-1.5 1.5-1.5-1.5zM140.9 493.8l1.5 1.5-1.5 1.5-1.5-1.5zM144.3 462.2l1.5 1.5-1.5 1.5-1.5-1.5zM123.1 486.7l1.5 1.5-1.5 1.5-1.5-1.5zM224.4 417.6l1.5 1.5-1.5 1.5-1.5-1.5zM194.9 443.7l1.5 1.5-1.5 1.5-1.5-1.5zM144.5 484.4l1.5 1.5-1.5 1.5-1.5-1.5zM164 453.9l1.5 1.5-1.5 1.5-1.5-1.5zM189.5 437.7l1.5 1.5-1.5 1.5-1.5-1.5zM159.6 485.2l1.5 1.5-1.5 1.5-1.5-1.5zM118.4 483.4l1.5 1.5-1.5 1.5-1.5-1.5zM173.3 435.9l1.5 1.5-1.5 1.5-1.5-1.5zM139.8 473.4l1.5 1.5-1.5 1.5-1.5-1.5zM136.2 462.4l1.5 1.5-1.5 1.5-1.5-1.5zM173.3 444.4l1.5 1.5-1.5 1.5-1.5-1.5zM233.2 408.9l1.5 1.5-1.5 1.5-1.5-1.5zM202.2 439.8l1.5 1.5-1.5 1.5-1.5-1.5zM164.1 451.3l1.5 1.5-1.5 1.5-1.5-1.5zM192.8 454.5l1.5 1.5-1.5 1.5-1.5-1.5zM227.4 418.5l1.5 1.5-1.5 1.5-1.5-1.5zM125.2 501.1l1.5 1.5-1.5 1.5-1.5-1.5zM179.3 468.2l1.5 1.5-1.5 1.5-1.5-1.5zM184.1 449.4l1.5 1.5-1.5 1.5-1.5-1.5zM127 475.8l1.5 1.5-1.5 1.5-1.5-1.5zM151.5 493.8l1.5 1.5-1.5 1.5-1.5-1.5zM133.8 482l1.5 1.5-1.5 1.5-1.5-1.5zM126.6 487.6l1.5 1.5-1.5 1.5-1.5-1.5zM172.9 460.3l1.5 1.5-1.5 1.5-1.5-1.5zM212.9 431l1.5 1.5-1.5 1.5-1.5-1.5zM150.8 488.2l1.5 1.5-1.5 1.5-1.5-1.5zM111.2 521l1.5 1.5-1.5 1.5-1.5-1.5zM177.4 458l1.5 1.5-1.5 1.5-1.5-1.5zM188.5 455.2l1.5 1.5-1.5 1.5-1.5-1.5zM184.9 430.8l1.5 1.5-1.5 1.5-1.5-1.5zM219.3 425.2l1.5 1.5-1.5 1.5-1.5-1.5zM125.1 512.4l1.5 1.5-1.5 1.5-1.5-1.5zM114.7 508.2l1.5 1.5-1.5 1.5-1.5-1.5zM165.4 474.2l1.5 1.5-1.5 1.5-1.5-1.5zM118 499.6l1.5 1.5-1.5 1.5-1.5-1.5zM194.2 435.6l1.5 1.5-1.5 1.5-1.5-1.5zM201.1 435.9l1.5 1.5-1.5 1.5-1.5-1.5zM168.9 465.9l1.5 1.5-1.5 1.5-1.5-1.5zM169.5 463.4l1.5 1.5-1.5 1.5-1.5-1.5zM142.2 503.3l1.5 1.5-1.5 1.5-1.5-1.5zM206.7 411.9l1.5 1.5-1.5 1.5-1.5-1.5zM109 527.4l1.5 1.5-1.5 1.5-1.5-1.5zM140.8 471.5l1.5 1.5-1.5 1.5-1.5-1.5zM135 466.5l1.5 1.5-1.5 1.5-1.5-1.5zM205 445.8l1.5 1.5-1.5 1.5-1.5-1.5zM190.7 445.6l1.5 1.5-1.5 1.5-1.5-1.5zM148.4 472.3l1.5 1.5-1.5 1.5-1.5-1.5zM156.2 459.4l1.5 1.5-1.5 1.5-1.5-1.5zM141.3 487.4l1.5 1.5-1.5 1.5-1.5-1.5zM134.3 472.2l1.5 1.5-1.5 1.5-1.5-1.5zM196.9 427.9l1.5 1.5-1.5 1.5-1.5-1.5zM173.1 445.8l1.5 1.5-1.5 1.5-1.5-1.5zM153.9 454l1.5 1.5-1.5 1.5-1.5-1.5zM122.3 497.6l1.5 1.5-1.5 1.5-1.5-1.5zM227.1 413.3l1.5 1.5-1.5 1.5-1.5-1.5zM219.5 423.3l1.5 1.5-1.5 1.5-1.5-1.5zM166.3 465.3l1.5 1.5-1.5 1.5-1.5-1.5zM154.5 467.6l1.5 1.5-1.5 1.5-1.5-1.5zM195.4 435.1l1.5 1.5-1.5 1.5-1.5-1.5zM106.1 522.8l1.5 1.5-1.5 1.5-1.5-1.5zM206.6 449.6l1.5 1.5-1.5 1.5-1.5-1.5zM178.1 466l1.5 1.5-1.5 1.5-1.5-1.5zM191.5 428.7l1.5 1.5-1.5 1.5-1.5-1.5zM167.3 446l1.5 1.5-1.5 1.5-1.5-1.5zM156.2 482.7l1.5 1.5-1.5 1.5-1.5-1.5zM204.5 409.7l1.5 1.5-1.5 1.5-1.5-1.5zM186.3 450.1l1.5 1.5-1.5 1.5-1.5-1.5zM164.7 451.9l1.5 1.5-1.5 1.5-1.5-1.5zM178.7 465.5l1.5 1.5-1.5 1.5-1.5-1.5zM167.3 479.7l1.5 1.5-1.5 1.5-1.5-1.5zM118.7 495.5l1.5 1.5-1.5 1.5-1.5-1.5zM126.4 512.8l1.5 1.5-1.5 1.5-1.5-1.5zM129.2 502l1.5 1.5-1.5 1.5-1.5-1.5zM114.4 521.1l1.5 1.5-1.5 1.5-1.5-1.5zM166.5 485.2l1.5 1.5-1.5 1.5-1.5-1.5zM111.3 508.2l1.5 1.5-1.5 1.5-1.5-1.5zM160.3 447.6l1.5 1.5-1.5 1.5-1.5-1.5zM159.9 460.6l1.5 1.5-1.5 1.5-1.5-1.5zM199.6 437.5l1.5 1.5-1.5 1.5-1.5-1.5zM150.4 494.3l1.5 1.5-1.5 1.5-1.5-1.5zM122.4 495.5l1.5 1.5-1.5 1.5-1.5-1.5zM138.2 489.4l1.5 1.5-1.5 1.5-1.5-1.5zM198.4 449.2l1.5 1.5-1.5 1.5-1.5-1.5zM172.6 466l1.5 1.5-1.5 1.5-1.5-1.5zM179.5 451.9l1.5 1.5-1.5 1.5-1.5-1.5zM166 448.4l1.5 1.5-1.5 1.5-1.5-1.5zM165.2 487.7l1.5 1.5-1.5 1.5-1.5-1.5zM137 470l1.5 1.5-1.5 1.5-1.5-1.5zM155.6 466.7l1.5 1.5-1.5 1.5-1.5-1.5zM208.8 429.6l1.5 1.5-1.5 1.5-1.5-1.5zM175.5 441.6l1.5 1.5-1.5 1.5-1.5-1.5zM191.8 446.6l1.5 1.5-1.5 1.5-1.5-1.5zM146 476.3l1.5 1.5-1.5 1.5-1.5-1.5zM114.4 518.7l1.5 1.5-1.5 1.5-1.5-1.5zM153 482.9l1.5 1.5-1.5 1.5-1.5-1.5zM149 488l1.5 1.5-1.5 1.5-1.5-1.5zM159.4 442.9l1.5 1.5-1.5 1.5-1.5-1.5zM202.6 444.1l1.5 1.5-1.5 1.5-1.5-1.5zM164.3 485l1.5 1.5-1.5 1.5-1.5-1.5zM171.7 439l1.5 1.5-1.5 1.5-1.5-1.5zM182.2 438.7l1.5 1.5-1.5 1.5-1.5-1.5zM144.6 499.2l1.5 1.5-1.5 1.5-1.5-1.5zM124.9 506.1l1.5 1.5-1.5 1.5-1.5-1.5zM201.8 436.4l1.5 1.5-1.5 1.5-1.5-1.5zM173.6 453.9l1.5 1.5-1.5 1.5-1.5-1.5zM178.1 450.3l1.5 1.5-1.5 1.5-1.5-1.5zM181.3 447.5l1.5 1.5-1.5 1.5-1.5-1.5zM139.8 480.1l1.5 1.5-1.5 1.5-1.5-1.5zM160.5 447.5l1.5 1.5-1.5 1.5-1.5-1.5zM127.2 479.2l1.5 1.5-1.5 1.5-1.5-1.5zM134.8 486.5l1.5 1.5-1.5 1.5-1.5-1.5zM110.3 526.7l1.5 1.5-1.5 1.5-1.5-1.5zM166.4 481.7l1.5 1.5-1.5 1.5-1.5-1.5zM200.5 438.6l1.5 1.5-1.5 1.5-1.5-1.5zM165.5 466.5l1.5 1.5-1.5 1.5-1.5-1.5zM133.8 481.8l1.5 1.5-1.5 1.5-1.5-1.5zM144.1 483.5l1.5 1.5-1.5 1.5-1.5-1.5zM165.2 470.1l1.5 1.5-1.5 1.5-1.5-1.5zM143.2 476.2l1.5 1.5-1.5 1.5-1.5-1.5zM198.8 443.9l1.5 1.5-1.5 1.5-1.5-1.5zM171 453.5l1.5 1.5-1.5 1.5-1.5-1.5zM177.1 444.5l1.5 1.5-1.5 1.5-1.5-1.5zM208.2 448.2l1.5 1.5-1.5 1.5-1.5-1.5zM145.9 488.2l1.5 1.5-1.5 1.5-1.5-1.5zM157.2 489.2l1.5 1.5-1.5 1.5-1.5-1.5zM107.5 512.6l1.5 1.5-1.5 1.5-1.5-1.5zM160.3 481.2l1.5 1.5-1.5 1.5-1.5-1.5zM179.1 463.2l1.5 1.5-1.5 1.5-1.5-1.5zM170.1 458.3l1.5 1.5-1.5 1.5-1.5-1.5zM207 448.8l1.5 1.5-1.5 1.5-1.5-1.5zM138.6 472.9l1.5 1.5-1.5 1.5-1.5-1.5zM142.6 471.7l1.5 1.5-1.5 1.5-1.5-1.5zM207.4 442.2l1.5 1.5-1.5 1.5-1.5-1.5zM199.6 432.5l1.5 1.5-1.5 1.5-1.5-1.5zM172.3 470.4l1.5 1.5-1.5 1.5-1.5-1.5zM223.5 400.6l1.5 1.5-1.5 1.5-1.5-1.5zM218.7 405.1l1.5 1.5-1.5 1.5-1.5-1.5zM131.8 500.2l1.5 1.5-1.5 1.5-1.5-1.5zM172.1 467.5l1.5 1.5-1.5 1.5-1.5-1.5zM166.8 482.4l1.5 1.5-1.5 1.5-1.5-1.5zM140 483.3l1.5 1.5-1.5 1.5-1.5-1.5zM145.3 499.2l1.5 1.5-1.5 1.5-1.5-1.5zM165.5 437.8l1.5 1.5-1.5 1.5-1.5-1.5zM191 442.9l1.5 1.5-1.5 1.5-1.5-1.5zM140.7 464.3l1.5 1.5-1.5 1.5-1.5-1.5zM149.2 456.6l1.5 1.5-1.5 1.5-1.5-1.5zM169.1 477.6l1.5 1.5-1.5 1.5-1.5-1.5zM178.2 428.9l1.5 1.5-1.5 1.5-1.5-1.5zM205.3 450.9l1.5 1.5-1.5 1.5-1.5-1.5zM130.2 484.1l1.5 1.5-1.5 1.5-1.5-1.5zM166.6 452.4l1.5 1.5-1.5 1.5-1.5-1.5zM110.8 514.1l1.5 1.5-1.5 1.5-1.5-1.5zM172 433.6l1.5 1.5-1.5 1.5-1.5-1.5zM140.1 462.2l1.5 1.5-1.5 1.5-1.5-1.5zM178.5 459.9l1.5 1.5-1.5 1.5-1.5-1.5zM167 472.7l1.5 1.5-1.5 1.5-1.5-1.5zM205.8 435.7l1.5 1.5-1.5 1.5-1.5-1.5zM213.2 407.6l1.5 1.5-1.5 1.5-1.5-1.5zM202.4 422.4l1.5 1.5-1.5 1.5-1.5-1.5zM134 507.5l1.5 1.5-1.5 1.5-1.5-1.5zM165.1 449.9l1.5 1.5-1.5 1.5-1.5-1.5zM152.3 461.5l1.5 1.5-1.5 1.5-1.5-1.5zM203.8 411.8l1.5 1.5-1.5 1.5-1.5-1.5zM147.2 474.1l1.5 1.5-1.5 1.5-1.5-1.5zM141.2 459.2l1.5 1.5-1.5 1.5-1.5-1.5zM185.3 427.2l1.5 1.5-1.5 1.5-1.5-1.5zM141.9 490l1.5 1.5-1.5 1.5-1.5-1.5zM209.8 437.8l1.5 1.5-1.5 1.5-1.5-1.5zM142.7 469.4l1.5 1.5-1.5 1.5-1.5-1.5zM160.6 457l1.5 1.5-1.5 1.5-1.5-1.5zM136 468.9l1.5 1.5-1.5 1.5-1.5-1.5zM137.1 496.5l1.5 1.5-1.5 1.5-1.5-1.5zM178.6 468.5l1.5 1.5-1.5 1.5-1.5-1.5zM167.9 456.8l1.5 1.5-1.5 1.5-1.5-1.5zM192 421.8l1.5 1.5-1.5 1.5-1.5-1.5zM167.2 430.3l1.5 1.5-1.5 1.5-1.5-1.5zM128.3 509.1l1.5 1.5-1.5 1.5-1.5-1.5zM182.7 447.9l1.5 1.5-1.5 1.5-1.5-1.5zM146.5 455.8l1.5 1.5-1.5 1.5-1.5-1.5zM146.8 461.1l1.5 1.5-1.5 1.5-1.5-1.5zM148 486.8l1.5 1.5-1.5 1.5-1.5-1.5zM137.1 474.8l1.5 1.5-1.5 1.5-1.5-1.5zM183.5 430.3l1.5 1.5-1.5 1.5-1.5-1.5zM213.4 425.9l1.5 1.5-1.5 1.5-1.5-1.5zM122.3 482.8l1.5 1.5-1.5 1.5-1.5-1.5zM179.6 460.7l1.5 1.5-1.5 1.5-1.5-1.5zM157.3 452.9l1.5 1.5-1.5 1.5-1.5-1.5zM126.5 503.8l1.5 1.5-1.5 1.5-1.5-1.5zM173.9 474.6l1.5 1.5-1.5 1.5-1.5-1.5zM127.3 489.6l1.5 1.5-1.5 1.5-1.5-1.5zM135.8 494.2l1.5 1.5-1.5 1.5-1.5-1.5zM188.8 428.2l1.5 1.5-1.5 1.5-1.5-1.5zM134.7 502.1l1.5 1.5-1.5 1.5-1.5-1.5zM135.7 486.1l1.5 1.5-1.5 1.5-1.5-1.5zM149.4 461.8l1.5 1.5-1.5 1.5-1.5-1.5zM199.7 444.3l1.5 1.5-1.5 1.5-1.5-1.5zM174 441.2l1.5 1.5-1.5 1.5-1.5-1.5zM184.5 431.8l1.5 1.5-1.5 1.5-1.5-1.5zM217.4 414.7l1.5 1.5-1.5 1.5-1.5-1.5zM146.5 477.6l1.5 1.5-1.5 1.5-1.5-1.5zM210.5 441.3l1.5 1.5-1.5 1.5-1.5-1.5zM194.1 439.8l1.5 1.5-1.5 1.5-1.5-1.5zM187.6 447.7l1.5 1.5-1.5 1.5-1.5-1.5zM159.7 467.5l1.5 1.5-1.5 1.5-1.5-1.5zM180.4 442.1l1.5 1.5-1.5 1.5-1.5-1.5zM180.8 459.4l1.5 1.5-1.5 1.5-1.5-1.5zM164.5 473.2l1.5 1.5-1.5 1.5-1.5-1.5zM141.8 473.9l1.5 1.5-1.5 1.5-1.5-1.5zM133.4 508.1l1.5 1.5-1.5 1.5-1.5-1.5zM191.4 448l1.5 1.5-1.5 1.5-1.5-1.5zM197.9 428.3l1.5 1.5-1.5 1.5-1.5-1.5zM132.2 499.7l1.5 1.5-1.5 1.5-1.5-1.5zM184.1 428.5l1.5 1.5-1.5 1.5-1.5-1.5zM157.6 479l1.5 1.5-1.5 1.5-1.5-1.5zM218.5 399.8l1.5 1.5-1.5 1.5-1.5-1.5zM128.7 473.8l1.5 1.5-1.5 1.5-1.5-1.5zM189 447.1l1.5 1.5-1.5 1.5-1.5-1.5zM137.2 491.7l1.5 1.5-1.5 1.5-1.5-1.5zM139.5 468l1.5 1.5-1.5 1.5-1.5-1.5zM193.1 425.1l1.5 1.5-1.5 1.5-1.5-1.5zM237 407.6l1.5 1.5-1.5 1.5-1.5-1.5zM162.4 450.7l1.5 1.5-1.5 1.5-1.5-1.5zM129.8 510.7l1.5 1.5-1.5 1.5-1.5-1.5zM126.2 504.1l1.5 1.5-1.5 1.5-1.5-1.5zM178.3 457.3l1.5 1.5-1.5 1.5-1.5-1.5zM172.4 440.1l1.5 1.5-1.5 1.5-1.5-1.5zM147.8 476.4l1.5 1.5-1.5 1.5-1.5-1.5zM114.5 506.5l1.5 1.5-1.5 1.5-1.5-1.5zM151.9 477.5l1.5 1.5-1.5 1.5-1.5-1.5zM152.2 477.6l1.5 1.5-1.5 1.5-1.5-1.5zM155.7 481.7l1.5 1.5-1.5 1.5-1.5-1.5zM174.2 432l1.5 1.5-1.5 1.5-1.5-1.5zM144.3 456.6l1.5 1.5-1.5 1.5-1.5-1.5zM150.3 475.9l1.5 1.5-1.5 1.5-1.5-1.5zM227 416.2l1.5 1.5-1.5 1.5-1.5-1.5zM208.3 438.6l1.5 1.5-1.5 1.5-1.5-1.5zM164.4 482.4l1.5 1.5-1.5 1.5-1.5-1.5zM109.6 497.2l1.5 1.5-1.5 1.5-1.5-1.5zM195 441.3l1.5 1.5-1.5 1.5-1.5-1.5zM135 479.8l1.5 1.5-1.5 1.5-1.5-1.5zM147.2 468.8l1.5 1.5-1.5 1.5-1.5-1.5zM110.4 506.6l1.5 1.5-1.5 1.5-1.5-1.5zM202.4 409.1l1.5 1.5-1.5 1.5-1.5-1.5zM167.2 463.2l1.5 1.5-1.5 1.5-1.5-1.5zM172.2 441.7l1.5 1.5-1.5 1.5-1.5-1.5zM141.7 489.9l1.5 1.5-1.5 1.5-1.5-1.5zM233.5 411.9l1.5 1.5-1.5 1.5-1.5-1.5zM163.4 452l1.5 1.5-1.5 1.5-1.5-1.5zM123.3 491.2l1.5 1.5-1.5 1.5-1.5-1.5zM174.7 478l1.5 1.5-1.5 1.5-1.5-1.5zM205.1 410.7l1.5 1.5-1.5 1.5-1.5-1.5zM138.2 491.4l1.5 1.5-1.5 1.5-1.5-1.5zM159 488.6l1.5 1.5-1.5 1.5-1.5-1.5zM166.6 469.8l1.5 1.5-1.5 1.5-1.5-1.5zM150.5 471.3l1.5 1.5-1.5 1.5-1.5-1.5zM152.9 477.5l1.5 1.5-1.5 1.5-1.5-1.5zM181.4 453.6l1.5 1.5-1.5 1.5-1.5-1.5zM109.7 510.6l1.5 1.5-1.5 1.5-1.5-1.5zM211.9 438l1.5 1.5-1.5 1.5-1.5-1.5zM198.8 445l1.5 1.5-1.5 1.5-1.5-1.5zM185.7 437.3l1.5 1.5-1.5 1.5-1.5-1.5zM168.4 454.8l1.5 1.5-1.5 1.5-1.5-1.5zM155.6 471l1.5 1.5-1.5 1.5-1.5-1.5zM149.9 475.8l1.5 1.5-1.5 1.5-1.5-1.5zM209.4 446.2l1.5 1.5-1.5 1.5-1.5-1.5zM145.4 470.8l1.5 1.5-1.5 1.5-1.5-1.5zM210 403.5l1.5 1.5-1.5 1.5-1.5-1.5zM140.9 468.7l1.5 1.5-1.5 1.5-1.5-1.5zM143.8 459.8l1.5 1.5-1.5 1.5-1.5-1.5zM190.9 446.8l1.5 1.5-1.5 1.5-1.5-1.5zM182.7 458.4l1.5 1.5-1.5 1.5-1.5-1.5zM169.7 482.8l1.5 1.5-1.5 1.5-1.5-1.5zM150.4 494.1l1.5 1.5-1.5 1.5-1.5-1.5zM134.2 479.4l1.5 1.5-1.5 1.5-1.5-1.5zM115.6 522.2l1.5 1.5-1.5 1.5-1.5-1.5zM138.7 502.1l1.5 1.5-1.5 1.5-1.5-1.5zM146 464.9l1.5 1.5-1.5 1.5-1.5-1.5zM169.9 484.7l1.5 1.5-1.5 1.5-1.5-1.5zM197.9 449.7l1.5 1.5-1.5 1.5-1.5-1.5zM217.3 415l1.5 1.5-1.5 1.5-1.5-1.5zM182.8 437.1l1.5 1.5-1.5 1.5-1.5-1.5zM147 487.6l1.5 1.5-1.5 1.5-1.5-1.5zM182 455.6l1.5 1.5-1.5 1.5-1.5-1.5zM135.6 495l1.5 1.5-1.5 1.5-1.5-1.5zM199.7 420.5l1.5 1.5-1.5 1.5-1.5-1.5zM163.5 479.5l1.5 1.5-1.5 1.5-1.5-1.5zM179.9 468l1.5 1.5-1.5 1.5-1.5-1.5zM227.1 398.1l1.5 1.5-1.5 1.5-1.5-1.5zM171.7 474.9l1.5 1.5-1.5 1.5-1.5-1.5zM220.6 414.8l1.5 1.5-1.5 1.5-1.5-1.5zM184.6 440.3l1.5 1.5-1.5 1.5-1.5-1.5zM176.5 453.3l1.5 1.5-1.5 1.5-1.5-1.5zM149.7 475.4l1.5 1.5-1.5 1.5-1.5-1.5zM190.3 435.1l1.5 1.5-1.5 1.5-1.5-1.5zM137.2 479.4l1.5 1.5-1.5 1.5-1.5-1.5zM168.1 474.6l1.5 1.5-1.5 1.5-1.5-1.5zM174.4 475l1.5 1.5-1.5 1.5-1.5-1.5zM172.1 435.3l1.5 1.5-1.5 1.5-1.5-1.5zM117.9 489.3l1.5 1.5-1.5 1.5-1.5-1.5zM139.1 481.6l1.5 1.5-1.5 1.5-1.5-1.5zM180.2 430.2l1.5 1.5-1.5 1.5-1.5-1.5zM141.2 469.6l1.5 1.5-1.5 1.5-1.5-1.5zM170.4 448.9l1.5 1.5-1.5 1.5-1.5-1.5zM160.5 469.4l1.5 1.5-1.5 1.5-1.5-1.5zM141.5 478.5l1.5 1.5-1.5 1.5-1.5-1.5zM170.7 448.8l1.5 1.5-1.5 1.5-1.5-1.5zM181.4 455.3l1.5 1.5-1.5 1.5-1.5-1.5zM229.7 402.7l1.5 1.5-1.5 1.5-1.5-1.5zM175.1 473l1.5 1.5-1.5 1.5-1.5-1.5zM226.9 408l1.5 1.5-1.5 1.5-1.5-1.5zM122.3 506.3l1.5 1.5-1.5 1.5-1.5-1.5zM196.9 447.3l1.5 1.5-1.5 1.5-1.5-1.5zM183.5 449l1.5 1.5-1.5 1.5-1.5-1.5zM180.7 439.6l1.5 1.5-1.5 1.5-1.5-1.5zM178.2 451.9l1.5 1.5-1.5 1.5-1.5-1.5zM157.1 459.4l1.5 1.5-1.5 1.5-1.5-1.5zM155.1 454.8l1.5 1.5-1.5 1.5-1.5-1.5zM190.3 450l1.5 1.5-1.5 1.5-1.5-1.5zM128 497.5l1.5 1.5-1.5 1.5-1.5-1.5zM204.8 442.8l1.5 1.5-1.5 1.5-1.5-1.5zM178.9 448.8l1.5 1.5-1.5 1.5-1.5-1.5zM165.2 472.5l1.5 1.5-1.5 1.5-1.5-1.5zM191.5 431.2l1.5 1.5-1.5 1.5-1.5-1.5zM118.9 482.6l1.5 1.5-1.5 1.5-1.5-1.5zM145.6 463.4l1.5 1.5-1.5 1.5-1.5-1.5zM167.6 451.3l1.5 1.5-1.5 1.5-1.5-1.5zM213 417.6l1.5 1.5-1.5 1.5-1.5-1.5zM157 462.8l1.5 1.5-1.5 1.5-1.5-1.5zM225.3 414.7l1.5 1.5-1.5 1.5-1.5-1.5zM215.1 409.2l1.5 1.5-1.5 1.5-1.5-1.5zM143 494.1l1.5 1.5-1.5 1.5-1.5-1.5zM109 498.5l1.5 1.5-1.5 1.5-1.5-1.5zM153.8 456.7l1.5 1.5-1.5 1.5-1.5-1.5zM196.6 434.5l1.5 1.5-1.5 1.5-1.5-1.5zM216.9 430.8l1.5 1.5-1.5 1.5-1.5-1.5zM158.3 461.1l1.5 1.5-1.5 1.5-1.5-1.5zM203.2 431.6l1.5 1.5-1.5 1.5-1.5-1.5zM173 469.4l1.5 1.5-1.5 1.5-1.5-1.5zM132.7 507.3l1.5 1.5-1.5 1.5-1.5-1.5zM185.8 455l1.5 1.5-1.5 1.5-1.5-1.5zM198.2 442.9l1.5 1.5-1.5 1.5-1.5-1.5zM235 402.6l1.5 1.5-1.5 1.5-1.5-1.5zM136.7 507.5l1.5 1.5-1.5 1.5-1.5-1.5zM177.8 468.2l1.5 1.5-1.5 1.5-1.5-1.5zM192.6 434.7l1.5 1.5-1.5 1.5-1.5-1.5zM171.3 450.1l1.5 1.5-1.5 1.5-1.5-1.5zM208.2 412.9l1.5 1.5-1.5 1.5-1.5-1.5zM222.6 426.1l1.5 1.5-1.5 1.5-1.5-1.5zM126 493.4l1.5 1.5-1.5 1.5-1.5-1.5zM221.7 403.7l1.5 1.5-1.5 1.5-1.5-1.5zM161.9 465.9l1.5 1.5-1.5 1.5-1.5-1.5zM201.9 451l1.5 1.5-1.5 1.5-1.5-1.5zM110.5 505.3l1.5 1.5-1.5 1.5-1.5-1.5zM132.7 470.2l1.5 1.5-1.5 1.5-1.5-1.5zM182.8 438.7l1.5 1.5-1.5 1.5-1.5-1.5zM188.3 440.4l1.5 1.5-1.5 1.5-1.5-1.5zM122.2 491.6l1.5 1.5-1.5 1.5-1.5-1.5zM167.5 458l1.5 1.5-1.5 1.5-1.5-1.5zM157.1 452.4l1.5 1.5-1.5 1.5-1.5-1.5zM187.7 454.2l1.5 1.5-1.5 1.5-1.5-1.5zM160.5 485.8l1.5 1.5-1.5 1.5-1.5-1.5zM153.1 469l1.5 1.5-1.5 1.5-1.5-1.5zM176.4 454.1l1.5 1.5-1.5 1.5-1.5-1.5zM134.9 492.5l1.5 1.5-1.5 1.5-1.5-1.5zM175.5 468l1.5 1.5-1.5 1.5-1.5-1.5zM170.7 474.9l1.5 1.5-1.5 1.5-1.5-1.5zM197.9 449.5l1.5 1.5-1.5 1.5-1.5-1.5zM140.1 488.2l1.5 1.5-1.5 1.5-1.5-1.5zM204.6 419.4l1.5 1.5-1.5 1.5-1.5-1.5zM178.8 429.7l1.5 1.5-1.5 1.5-1.5-1.5zM183.3 456.6l1.5 1.5-1.5 1.5-1.5-1.5zM176 442.7l1.5 1.5-1.5 1.5-1.5-1.5zM149.4 481.7l1.5 1.5-1.5 1.5-1.5-1.5zM178.4 463.4l1.5 1.5-1.5 1.5-1.5-1.5zM118.1 494l1.5 1.5-1.5 1.5-1.5-1.5zM193.5 443.5l1.5 1.5-1.5 1.5-1.5-1.5zM202 440l1.5 1.5-1.5 1.5-1.5-1.5zM141.5 486.2l1.5 1.5-1.5 1.5-1.5-1.5zM142.1 470.1l1.5 1.5-1.5 1.5-1.5-1.5zM149.1 475.5l1.5 1.5-1.5 1.5-1.5-1.5zM214.9 431.2l1.5 1.5-1.5 1.5-1.5-1.5zM134 486.3l1.5 1.5-1.5 1.5-1.5-1.5zM170.2 433.2l1.5 1.5-1.5 1.5-1.5-1.5zM175.5 433.4l1.5 1.5-1.5 1.5-1.5-1.5zM119.4 499.4l1.5 1.5-1.5 1.5-1.5-1.5zM175.6 465.2l1.5 1.5-1.5 1.5-1.5-1.5zM188.9 454.9l1.5 1.5-1.5 1.5-1.5-1.5zM215.2 418.5l1.5 1.5-1.5 1.5-1.5-1.5zM173.3 468l1.5 1.5-1.5 1.5-1.5-1.5zM192.1 434.8l1.5 1.5-1.5 1.5-1.5-1.5zM138 499.7l1.5 1.5-1.5 1.5-1.5-1.5zM174.2 459.5l1.5 1.5-1.5 1.5-1.5-1.5zM187.5 442.7l1.5 1.5-1.5 1.5-1.5-1.5zM137.7 475.5l1.5 1.5-1.5 1.5-1.5-1.5zM148.9 492.7l1.5 1.5-1.5 1.5-1.5-1.5zM144.8 474.5l1.5 1.5-1.5 1.5-1.5-1.5zM195.9 451.5l1.5 1.5-1.5 1.5-1.5-1.5zM181.8 467l1.5 1.5-1.5 1.5-1.5-1.5zM196.5 428.2l1.5 1.5-1.5 1.5-1.5-1.5zM218.3 429.1l1.5 1.5-1.5 1.5-1.5-1.5zM150.3 491.2l1.5 1.5-1.5 1.5-1.5-1.5zM166.7 443.5l1.5 1.5-1.5 1.5-1.5-1.5zM184 442.3l1.5 1.5-1.5 1.5-1.5-1.5zM126.7 488.9l1.5 1.5-1.5 1.5-1.5-1.5zM154 475.5l1.5 1.5-1.5 1.5-1.5-1.5zM182.5 449.1l1.5 1.5-1.5 1.5-1.5-1.5zM183.2 451l1.5 1.5-1.5 1.5-1.5-1.5zM167.3 469.2l1.5 1.5-1.5 1.5-1.5-1.5zM109.5 514.5l1.5 1.5-1.5 1.5-1.5-1.5zM221.5 419.6l1.5 1.5-1.5 1.5-1.5-1.5zM178.3 464.8l1.5 1.5-1.5 1.5-1.5-1.5zM151.7 457.4l1.5 1.5-1.5 1.5-1.5-1.5zM188 435.5l1.5 1.5-1.5 1.5-1.5-1.5zM211.1 432.8l1.5 1.5-1.5 1.5-1.5-1.5zM189 447.6l1.5 1.5-1.5 1.5-1.5-1.5zM134.2 467.6l1.5 1.5-1.5 1.5-1.5-1.5zM201.7 432.6l1.5 1.5-1.5 1.5-1.5-1.5zM164.6 450.3l1.5 1.5-1.5 1.5-1.5-1.5zM198 426.1l1.5 1.5-1.5 1.5-1.5-1.5zM141.8 473.7l1.5 1.5-1.5 1.5-1.5-1.5zM141.1 491.8l1.5 1.5-1.5 1.5-1.5-1.5zM152.3 465.5l1.5 1.5-1.5 1.5-1.5-1.5zM145.3 486.8l1.5 1.5-1.5 1.5-1.5-1.5zM170.6 465.4l1.5 1.5-1.5 1.5-1.5-1.5zM177.2 440l1.5 1.5-1.5 1.5-1.5-1.5zM135.8 481.5l1.5 1.5-1.5 1.5-1.5-1.5zM129.6 496.3l1.5 1.5-1.5 1.5-1.5-1.5zM153.3 471.9l1.5 1.5-1.5 1.5-1.5-1.5zM157.1 475.2l1.5 1.5-1.5 1.5-1.5-1.5zM179.2 453.7l1.5 1.5-1.5 1.5-1.5-1.5zM173.6 461.5l1.5 1.5-1.5 1.5-1.5-1.5zM143.9 458.9l1.5 1.5-1.5 1.5-1.5-1.5zM144.7 490.2l1.5 1.5-1.5 1.5-1.5-1.5zM176.8 457.6l1.5 1.5-1.5 1.5-1.5-1.5zM203.5 416.5l1.5 1.5-1.5 1.5-1.5-1.5zM135.9 481.3l1.5 1.5-1.5 1.5-1.5-1.5zM170.8 471.8l1.5 1.5-1.5 1.5-1.5-1.5zM183.7 441.7l1.5 1.5-1.5 1.5-1.5-1.5zM124.4 492.5l1.5 1.5-1.5 1.5-1.5-1.5zM167.3 448.5l1.5 1.5-1.5 1.5-1.5-1.5zM198 433.3l1.5 1.5-1.5 1.5-1.5-1.5zM177.1 433.2l1.5 1.5-1.5 1.5-1.5-1.5zM107.6 508.6l1.5 1.5-1.5 1.5-1.5-1.5zM116.2 486.3l1.5 1.5-1.5 1.5-1.5-1.5zM165.2 453.1l1.5 1.5-1.5 1.5-1.5-1.5zM142.2 470.7l1.5 1.5-1.5 1.5-1.5-1.5zM183.3 451.5l1.5 1.5-1.5 1.5-1.5-1.5zM184.5 437.7l1.5 1.5-1.5 1.5-1.5-1.5zM197.9 416.7l1.5 1.5-1.5 1.5-1.5-1.5zM111.9 507.5l1.5 1.5-1.5 1.5-1.5-1.5zM171.2 446.2l1.5 1.5-1.5 1.5-1.5-1.5zM113.3 518.5l1.5 1.5-1.5 1.5-1.5-1.5zM164.9 451.6l1.5 1.5-1.5 1.5-1.5-1.5zM115.9 499.3l1.5 1.5-1.5 1.5-1.5-1.5zM125.4 498.7l1.5 1.5-1.5 1.5-1.5-1.5zM166 450.8l1.5 1.5-1.5 1.5-1.5-1.5zM203.7 418.9l1.5 1.5-1.5 1.5-1.5-1.5zM210.3 439.2l1.5 1.5-1.5 1.5-1.5-1.5zM177.6 435.2l1.5 1.5-1.5 1.5-1.5-1.5zM186.1 442.6l1.5 1.5-1.5 1.5-1.5-1.5zM160.6 469.1l1.5 1.5-1.5 1.5-1.5-1.5zM153.1 482.2l1.5 1.5-1.5 1.5-1.5-1.5zM145.9 473.5l1.5 1.5-1.5 1.5-1.5-1.5zM186.4 435.7l1.5 1.5-1.5 1.5-1.5-1.5zM163.4 487.1l1.5 1.5-1.5 1.5-1.5-1.5zM125.3 499.6l1.5 1.5-1.5 1.5-1.5-1.5zM168.6 462.1l1.5 1.5-1.5 1.5-1.5-1.5zM108 513l1.5 1.5-1.5 1.5-1.5-1.5zM190.7 432.1l1.5 1.5-1.5 1.5-1.5-1.5zM188.5 453.7l1.5 1.5-1.5 1.5-1.5-1.5zM144.4 467.1l1.5 1.5-1.5 1.5-1.5-1.5zM163.4 448.2l1.5 1.5-1.5 1.5-1.5-1.5zM167.2 436.6l1.5 1.5-1.5 1.5-1.5-1.5zM163.9 473.7l1.5 1.5-1.5 1.5-1.5-1.5zM113.4 496.8l1.5 1.5-1.5 1.5-1.5-1.5zM213.6 418.3l1.5 1.5-1.5 1.5-1.5-1.5zM202.6 450.2l1.5 1.5-1.5 1.5-1.5-1.5zM128.7 490.3l1.5 1.5-1.5 1.5-1.5-1.5zM162.1 458.2l1.5 1.5-1.5 1.5-1.5-1.5zM115.9 490.6l1.5 1.5-1.5 1.5-1.5-1.5zM208.6 437.2l1.5 1.5-1.5 1.5-1.5-1.5zM161.1 487.6l1.5 1.5-1.5 1.5-1.5-1.5zM194.3 453.8l1.5 1.5-1.5 1.5-1.5-1.5zM176.2 448.9l1.5 1.5-1.5 1.5-1.5-1.5zM142.9 457.1l1.5 1.5-1.5 1.5-1.5-1.5zM189.3 433.1l1.5 1.5-1.5 1.5-1.5-1.5zM217.4 418.7l1.5 1.5-1.5 1.5-1.5-1.5zM160.1 476.5l1.5 1.5-1.5 1.5-1.5-1.5zM129.8 490.5l1.5 1.5-1.5 1.5-1.5-1.5zM121.1 506.3l1.5 1.5-1.5 1.5-1.5-1.5zM146.6 486.1l1.5 1.5-1.5 1.5-1.5-1.5zM184.7 427.5l1.5 1.5-1.5 1.5-1.5-1.5zM170.6 462.7l1.5 1.5-1.5 1.5-1.5-1.5zM174.5 477.1l1.5 1.5-1.5 1.5-1.5-1.5zM206.7 448.7l1.5 1.5-1.5 1.5-1.5-1.5zM133.1 468.8l1.5 1.5-1.5 1.5-1.5-1.5zM144.4 458.8l1.5 1.5-1.5 1.5-1.5-1.5zM164.9 467.4l1.5 1.5-1.5 1.5-1.5-1.5zM192.2 434.3l1.5 1.5-1.5 1.5-1.5-1.5zM141.9 475.2l1.5 1.5-1.5 1.5-1.5-1.5zM170.8 453.7l1.5 1.5-1.5 1.5-1.5-1.5zM169.6 474l1.5 1.5-1.5 1.5-1.5-1.5zM165.5 435.4l1.5 1.5-1.5 1.5-1.5-1.5zM161.7 465.6l1.5 1.5-1.5 1.5-1.5-1.5zM156.2 485.3l1.5 1.5-1.5 1.5-1.5-1.5zM143.3 496.1l1.5 1.5-1.5 1.5-1.5-1.5zM234.9 404l1.5 1.5-1.5 1.5-1.5-1.5zM174.2 454.4l1.5 1.5-1.5 1.5-1.5-1.5zM155.9 478.5l1.5 1.5-1.5 1.5-1.5-1.5zM191 436.2l1.5 1.5-1.5 1.5-1.5-1.5zM214.5 431.3l1.5 1.5-1.5 1.5-1.5-1.5zM177.4 472l1.5 1.5-1.5 1.5-1.5-1.5zM192.9 452.5l1.5 1.5-1.5 1.5-1.5-1.5zM132.5 493.1l1.5 1.5-1.5 1.5-1.5-1.5zM160.5 464.2l1.5 1.5-1.5 1.5-1.5-1.5zM120.3 483l1.5 1.5-1.5 1.5-1.5-1.5zM113.9 489.7l1.5 1.5-1.5 1.5-1.5-1.5zM215.5 426.3l1.5 1.5-1.5 1.5-1.5-1.5zM135.8 503.5l1.5 1.5-1.5 1.5-1.5-1.5zM203.6 444.4l1.5 1.5-1.5 1.5-1.5-1.5zM165.8 461.5l1.5 1.5-1.5 1.5-1.5-1.5zM121.7 483.4l1.5 1.5-1.5 1.5-1.5-1.5zM154.3 479.7l1.5 1.5-1.5 1.5-1.5-1.5zM121.2 481.7l1.5 1.5-1.5 1.5-1.5-1.5zM150.5 462.6l1.5 1.5-1.5 1.5-1.5-1.5zM220 420.7l1.5 1.5-1.5 1.5-1.5-1.5zM152.2 473.8l1.5 1.5-1.5 1.5-1.5-1.5zM150.4 461.1l1.5 1.5-1.5 1.5-1.5-1.5zM188.3 453.6l1.5 1.5-1.5 1.5-1.5-1.5zM196.8 428.3l1.5 1.5-1.5 1.5-1.5-1.5zM135.4 497.3l1.5 1.5-1.5 1.5-1.5-1.5zM139.4 496.9l1.5 1.5-1.5 1.5-1.5-1.5zM189.3 443.8l1.5 1.5-1.5 1.5-1.5-1.5zM184 442.5l1.5 1.5-1.5 1.5-1.5-1.5zM201.3 451.6l1.5 1.5-1.5 1.5-1.5-1.5zM179.4 469.5l1.5 1.5-1.5 1.5-1.5-1.5zM172 479.1l1.5 1.5-1.5 1.5-1.5-1.5zM205.2 420.3l1.5 1.5-1.5 1.5-1.5-1.5zM153.6 484l1.5 1.5-1.5 1.5-1.5-1.5zM159.2 482.1l1.5 1.5-1.5 1.5-1.5-1.5zM168.7 431.8l1.5 1.5-1.5 1.5-1.5-1.5zM194.5 441.4l1.5 1.5-1.5 1.5-1.5-1.5zM153.7 467l1.5 1.5-1.5 1.5-1.5-1.5zM159.1 449.6l1.5 1.5-1.5 1.5-1.5-1.5zM205.9 441.4l1.5 1.5-1.5 1.5-1.5-1.5zM199.9 452.6l1.5 1.5-1.5 1.5-1.5-1.5zM177.9 447.9l1.5 1.5-1.5 1.5-1.5-1.5zM165.1 451.3l1.5 1.5-1.5 1.5-1.5-1.5zM159.6 458.9l1.5 1.5-1.5 1.5-1.5-1.5zM183 427.1l1.5 1.5-1.5 1.5-1.5-1.5zM167.6 434.3l1.5 1.5-1.5 1.5-1.5-1.5zM157.6 482.2l1.5 1.5-1.5 1.5-1.5-1.5zM140.1 487.6l1.5 1.5-1.5 1.5-1.5-1.5zM203.2 436.9l1.5 1.5-1.5 1.5-1.5-1.5zM112.3 495.5l1.5 1.5-1.5 1.5-1.5-1.5zM129.9 485.7l1.5 1.5-1.5 1.5-1.5-1.5zM130.1 502.7l1.5 1.5-1.5 1.5-1.5-1.5zM174.5 446l1.5 1.5-1.5 1.5-1.5-1.5zM172.5 461l1.5 1.5-1.5 1.5-1.5-1.5zM158.7 466.5l1.5 1.5-1.5 1.5-1.5-1.5zM163.5 443.9l1.5 1.5-1.5 1.5-1.5-1.5zM162.2 464.2l1.5 1.5-1.5 1.5-1.5-1.5zM174.5 439.6l1.5 1.5-1.5 1.5-1.5-1.5zM149 489.8l1.5 1.5-1.5 1.5-1.5-1.5zM193.5 449.1l1.5 1.5-1.5 1.5-1.5-1.5zM212 420.3l1.5 1.5-1.5 1.5-1.5-1.5zM152.4 481.7l1.5 1.5-1.5 1.5-1.5-1.5zM151.3 466.5l1.5 1.5-1.5 1.5-1.5-1.5zM189.8 433.4l1.5 1.5-1.5 1.5-1.5-1.5zM194.7 454.5l1.5 1.5-1.5 1.5-1.5-1.5zM155.7 466.9l1.5 1.5-1.5 1.5-1.5-1.5zM200.3 435.9l1.5 1.5-1.5 1.5-1.5-1.5zM224.1 416.7l1.5 1.5-1.5 1.5-1.5-1.5zM115.2 500.7l1.5 1.5-1.5 1.5-1.5-1.5zM191.8 432.7l1.5 1.5-1.5 1.5-1.5-1.5zM176.4 456.1l1.5 1.5-1.5 1.5-1.5-1.5zM109.6 500.2l1.5 1.5-1.5 1.5-1.5-1.5zM197.1 432.7l1.5 1.5-1.5 1.5-1.5-1.5zM174.7 462.5l1.5 1.5-1.5 1.5-1.5-1.5zM174.9 464.5l1.5 1.5-1.5 1.5-1.5-1.5zM219.4 416.6l1.5 1.5-1.5 1.5-1.5-1.5zM149.2 474.6l1.5 1.5-1.5 1.5-1.5-1.5zM194.3 453.8l1.5 1.5-1.5 1.5-1.5-1.5zM222.6 400l1.5 1.5-1.5 1.5-1.5-1.5zM211.2 415.4l1.5 1.5-1.5 1.5-1.5-1.5zM157.4 450.9l1.5 1.5-1.5 1.5-1.5-1.5zM137.8 487.4l1.5 1.5-1.5 1.5-1.5-1.5zM201 424.6l1.5 1.5-1.5 1.5-1.5-1.5zM126.8 506.1l1.5 1.5-1.5 1.5-1.5-1.5zM170 469.8l1.5 1.5-1.5 1.5-1.5-1.5zM134.7 487.2l1.5 1.5-1.5 1.5-1.5-1.5zM190.7 438.2l1.5 1.5-1.5 1.5-1.5-1.5zM163.7 488.4l1.5 1.5-1.5 1.5-1.5-1.5zM144.8 498.3l1.5 1.5-1.5 1.5-1.5-1.5zM164.8 433.2l1.5 1.5-1.5 1.5-1.5-1.5zM155.4 484.1l1.5 1.5-1.5 1.5-1.5-1.5zM185.5 425l1.5 1.5-1.5 1.5-1.5-1.5zM123.4 494.9l1.5 1.5-1.5 1.5-1.5-1.5zM184.5 446l1.5 1.5-1.5 1.5-1.5-1.5zM204.7 431.6l1.5 1.5-1.5 1.5-1.5-1.5zM165.7 468.8l1.5 1.5-1.5 1.5-1.5-1.5zM213.3 430.4l1.5 1.5-1.5 1.5-1.5-1.5zM195.9 451l1.5 1.5-1.5 1.5-1.5-1.5zM179.6 428.4l1.5 1.5-1.5 1.5-1.5-1.5zM155.8 470.9l1.5 1.5-1.5 1.5-1.5-1.5zM168.3 443.7l1.5 1.5-1.5 1.5-1.5-1.5zM158.7 460.6l1.5 1.5-1.5 1.5-1.5-1.5zM212 427.4l1.5 1.5-1.5 1.5-1.5-1.5zM184.2 461.7l1.5 1.5-1.5 1.5-1.5-1.5zM197.2 423.5l1.5 1.5-1.5 1.5-1.5-1.5zM195.8 445.8l1.5 1.5-1.5 1.5-1.5-1.5zM160.1 477.3l1.5 1.5-1.5 1.5-1.5-1.5zM222.1 425.8l1.5 1.5-1.5 1.5-1.5-1.5zM176.8 460.3l1.5 1.5-1.5 1.5-1.5-1.5zM176 468.3l1.5 1.5-1.5 1.5-1.5-1.5zM147.8 460.1l1.5 1.5-1.5 1.5-1.5-1.5zM136.4 465.1l1.5 1.5-1.5 1.5-1.5-1.5zM153.3 475.2l1.5 1.5-1.5 1.5-1.5-1.5zM153.9 466.4l1.5 1.5-1.5 1.5-1.5-1.5zM203.4 433.3l1.5 1.5-1.5 1.5-1.5-1.5zM188.8 449.6l1.5 1.5-1.5 1.5-1.5-1.5zM116.2 505.1l1.5 1.5-1.5 1.5-1.5-1.5zM211.9 424.6l1.5 1.5-1.5 1.5-1.5-1.5zM196.1 431.6l1.5 1.5-1.5 1.5-1.5-1.5zM182.4 448.1l1.5 1.5-1.5 1.5-1.5-1.5zM219.4 421.7l1.5 1.5-1.5 1.5-1.5-1.5zM166.8 447.6l1.5 1.5-1.5 1.5-1.5-1.5zM201.7 431.6l1.5 1.5-1.5 1.5-1.5-1.5zM155.9 463l1.5 1.5-1.5 1.5-1.5-1.5zM170.1 466.2l1.5 1.5-1.5 1.5-1.5-1.5zM161.5 445.6l1.5 1.5-1.5 1.5-1.5-1.5zM195.5 434.9l1.5 1.5-1.5 1.5-1.5-1.5zM163.4 468.9l1.5 1.5-1.5 1.5-1.5-1.5zM133.2 508.7l1.5 1.5-1.5 1.5-1.5-1.5zM209.1 429.9l1.5 1.5-1.5 1.5-1.5-1.5zM169.9 479.9l1.5 1.5-1.5 1.5-1.5-1.5zM165.5 465.4l1.5 1.5-1.5 1.5-1.5-1.5zM156.9 456.8l1.5 1.5-1.5 1.5-1.5-1.5zM120.8 513.1l1.5 1.5-1.5 1.5-1.5-1.5zM241.1 400.5l1.5 1.5-1.5 1.5-1.5-1.5zM210.5 412.1l1.5 1.5-1.5 1.5-1.5-1.5zM149.9 479.3l1.5 1.5-1.5 1.5-1.5-1.5zM218.6 426.7l1.5 1.5-1.5 1.5-1.5-1.5zM208.1 406.6l1.5 1.5-1.5 1.5-1.5-1.5zM178.2 462.4l1.5 1.5-1.5 1.5-1.5-1.5zM198.3 451.8l1.5 1.5-1.5 1.5-1.5-1.5zM171.7 447.1l1.5 1.5-1.5 1.5-1.5-1.5zM200.4 414.2l1.5 1.5-1.5 1.5-1.5-1.5zM142.5 478.1l1.5 1.5-1.5 1.5-1.5-1.5zM118.8 482.1l1.5 1.5-1.5 1.5-1.5-1.5zM203.3 438.1l1.5 1.5-1.5 1.5-1.5-1.5zM196.4 450.8l1.5 1.5-1.5 1.5-1.5-1.5zM139.2 486.9l1.5 1.5-1.5 1.5-1.5-1.5zM116.4 499.3l1.5 1.5-1.5 1.5-1.5-1.5zM208.8 417.3l1.5 1.5-1.5 1.5-1.5-1.5zM180.2 451.7l1.5 1.5-1.5 1.5-1.5-1.5zM166.6 480.9l1.5 1.5-1.5 1.5-1.5-1.5zM122.3 486.2l1.5 1.5-1.5 1.5-1.5-1.5zM115.5 499.4l1.5 1.5-1.5 1.5-1.5-1.5zM204.9 418.2l1.5 1.5-1.5 1.5-1.5-1.5zM184.9 434.4l1.5 1.5-1.5 1.5-1.5-1.5zM224.1 423.9l1.5 1.5-1.5 1.5-1.5-1.5zM116 510.6l1.5 1.5-1.5 1.5-1.5-1.5zM198.1 442l1.5 1.5-1.5 1.5-1.5-1.5zM199.4 432.4l1.5 1.5-1.5 1.5-1.5-1.5zM202.9 420.4l1.5 1.5-1.5 1.5-1.5-1.5zM148.1 474.8l1.5 1.5-1.5 1.5-1.5-1.5zM117.5 501.4l1.5 1.5-1.5 1.5-1.5-1.5zM162.6 462.5l1.5 1.5-1.5 1.5-1.5-1.5zM149.6 460.9l1.5 1.5-1.5 1.5-1.5-1.5zM167.7 473.7l1.5 1.5-1.5 1.5-1.5-1.5zM141.9 497.9l1.5 1.5-1.5 1.5-1.5-1.5zM112.8 513.2l1.5 1.5-1.5 1.5-1.5-1.5zM165.6 485.9l1.5 1.5-1.5 1.5-1.5-1.5zM196.3 444.5l1.5 1.5-1.5 1.5-1.5-1.5zM226.1 420.8l1.5 1.5-1.5 1.5-1.5-1.5zM162.9 437.5l1.5 1.5-1.5 1.5-1.5-1.5zM193.2 421.2l1.5 1.5-1.5 1.5-1.5-1.5zM166.1 485.4l1.5 1.5-1.5 1.5-1.5-1.5zM190.5 446.1l1.5 1.5-1.5 1.5-1.5-1.5zM161.9 475.3l1.5 1.5-1.5 1.5-1.5-1.5zM233.8 400.8l1.5 1.5-1.5 1.5-1.5-1.5zM204.6 436.1l1.5 1.5-1.5 1.5-1.5-1.5zM183 449l1.5 1.5-1.5 1.5-1.5-1.5zM188.5 442.3l1.5 1.5-1.5 1.5-1.5-1.5zM108.4 503.9l1.5 1.5-1.5 1.5-1.5-1.5zM169.9 453.7l1.5 1.5-1.5 1.5-1.5-1.5zM173.5 457l1.5 1.5-1.5 1.5-1.5-1.5zM209.7 424.6l1.5 1.5-1.5 1.5-1.5-1.5zM190.6 454.1l1.5 1.5-1.5 1.5-1.5-1.5zM127.8 506l1.5 1.5-1.5 1.5-1.5-1.5zM183.2 462.6l1.5 1.5-1.5 1.5-1.5-1.5zM160.4 464.4l1.5 1.5-1.5 1.5-1.5-1.5zM125.8 498.5l1.5 1.5-1.5 1.5-1.5-1.5zM111.7 515.7l1.5 1.5-1.5 1.5-1.5-1.5zM161.3 455.9l1.5 1.5-1.5 1.5-1.5-1.5zM120.5 496.6l1.5 1.5-1.5 1.5-1.5-1.5zM158.6 464.9l1.5 1.5-1.5 1.5-1.5-1.5zM162.9 462l1.5 1.5-1.5 1.5-1.5-1.5zM150.7 472.4l1.5 1.5-1.5 1.5-1.5-1.5zM174.9 433.9l1.5 1.5-1.5 1.5-1.5-1.5zM232.2 405.7l1.5 1.5-1.5 1.5-1.5-1.5zM174.9 474.3l1.5 1.5-1.5 1.5-1.5-1.5zM179 448.7l1.5 1.5-1.5 1.5-1.5-1.5zM172 479.8l1.5 1.5-1.5 1.5-1.5-1.5zM111.4 521.9l1.5 1.5-1.5 1.5-1.5-1.5zM157.5 472.7l1.5 1.5-1.5 1.5-1.5-1.5zM151.3 466.1l1.5 1.5-1.5 1.5-1.5-1.5zM137.4 460.2l1.5 1.5-1.5 1.5-1.5-1.5zM179.4 449.7l1.5 1.5-1.5 1.5-1.5-1.5zM150.3 472l1.5 1.5-1.5 1.5-1.5-1.5zM140.5 459.5l1.5 1.5-1.5 1.5-1.5-1.5zM156.1 470.9l1.5 1.5-1.5 1.5-1.5-1.5zM209.1 438.3l1.5 1.5-1.5 1.5-1.5-1.5zM172.9 462.4l1.5 1.5-1.5 1.5-1.5-1.5zM138.4 484l1.5 1.5-1.5 1.5-1.5-1.5zM187 455.7l1.5 1.5-1.5 1.5-1.5-1.5zM139 472l1.5 1.5-1.5 1.5-1.5-1.5zM185.9 440l1.5 1.5-1.5 1.5-1.5-1.5zM181.2 456l1.5 1.5-1.5 1.5-1.5-1.5zM112.2 505.6l1.5 1.5-1.5 1.5-1.5-1.5zM166.7 470.2l1.5 1.5-1.5 1.5-1.5-1.5zM131 480.9l1.5 1.5-1.5 1.5-1.5-1.5zM118.7 506.2l1.5 1.5-1.5 1.5-1.5-1.5zM142.1 477.4l1.5 1.5-1.5 1.5-1.5-1.5zM154 456.2l1.5 1.5-1.5 1.5-1.5-1.5zM153.8 460.5l1.5 1.5-1.5 1.5-1.5-1.5zM201 440.5l1.5 1.5-1.5 1.5-1.5-1.5zM210.9 429.4l1.5 1.5-1.5 1.5-1.5-1.5zM141.1 464.4l1.5 1.5-1.5 1.5-1.5-1.5zM133 496.3l1.5 1.5-1.5 1.5-1.5-1.5zM138.2 484.7l1.5 1.5-1.5 1.5-1.5-1.5zM183.6 425.2l1.5 1.5-1.5 1.5-1.5-1.5zM165.1 437.9l1.5 1.5-1.5 1.5-1.5-1.5zM133.1 472.1l1.5 1.5-1.5 1.5-1.5-1.5zM195.9 425l1.5 1.5-1.5 1.5-1.5-1.5zM114.6 504.3l1.5 1.5-1.5 1.5-1.5-1.5zM123.1 505.9l1.5 1.5-1.5 1.5-1.5-1.5zM113 491.5l1.5 1.5-1.5 1.5-1.5-1.5zM145.7 461.3l1.5 1.5-1.5 1.5-1.5-1.5zM122.5 482.6l1.5 1.5-1.5 1.5-1.5-1.5zM179.2 441.6l1.5 1.5-1.5 1.5-1.5-1.5zM166.5 479.9l1.5 1.5-1.5 1.5-1.5-1.5zM157.8 479.6l1.5 1.5-1.5 1.5-1.5-1.5zM168.7 481.9l1.5 1.5-1.5 1.5-1.5-1.5zM187.1 427.6l1.5 1.5-1.5 1.5-1.5-1.5zM129.5 493.9l1.5 1.5-1.5 1.5-1.5-1.5zM174.1 455.2l1.5 1.5-1.5 1.5-1.5-1.5zM151 452.5l1.5 1.5-1.5 1.5-1.5-1.5zM161.9 450.8l1.5 1.5-1.5 1.5-1.5-1.5zM179 461l1.5 1.5-1.5 1.5-1.5-1.5zM170.5 456.4l1.5 1.5-1.5 1.5-1.5-1.5zM195.9 448.8l1.5 1.5-1.5 1.5-1.5-1.5zM172.9 442.6l1.5 1.5-1.5 1.5-1.5-1.5zM177.3 467.7l1.5 1.5-1.5 1.5-1.5-1.5zM202.5 447.5l1.5 1.5-1.5 1.5-1.5-1.5zM203.6 417.7l1.5 1.5-1.5 1.5-1.5-1.5zM195.2 431.1l1.5 1.5-1.5 1.5-1.5-1.5zM195.6 436.2l1.5 1.5-1.5 1.5-1.5-1.5zM214.3 429.6l1.5 1.5-1.5 1.5-1.5-1.5zM183.9 442.5l1.5 1.5-1.5 1.5-1.5-1.5zM153.6 483.7l1.5 1.5-1.5 1.5-1.5-1.5zM180.3 426.9l1.5 1.5-1.5 1.5-1.5-1.5zM175.4 435.8l1.5 1.5-1.5 1.5-1.5-1.5zM192.8 439.2l1.5 1.5-1.5 1.5-1.5-1.5zM124.2 507l1.5 1.5-1.5 1.5-1.5-1.5zM162.2 487.2l1.5 1.5-1.5 1.5-1.5-1.5zM134 486.3l1.5 1.5-1.5 1.5-1.5-1.5zM164.2 444.9l1.5 1.5-1.5 1.5-1.5-1.5zM186.7 448.4l1.5 1.5-1.5 1.5-1.5-1.5zM194.7 435.8l1.5 1.5-1.5 1.5-1.5-1.5zM126.4 476.8l1.5 1.5-1.5 1.5-1.5-1.5zM161.1 480.1l1.5 1.5-1.5 1.5-1.5-1.5zM146.5 488.9l1.5 1.5-1.5 1.5-1.5-1.5zM211.4 422.4l1.5 1.5-1.5 1.5-1.5-1.5zM225.3 423.4l1.5 1.5-1.5 1.5-1.5-1.5zM135.5 490.5l1.5 1.5-1.5 1.5-1.5-1.5zM121.9 490.7l1.5 1.5-1.5 1.5-1.5-1.5zM158.5 489.5l1.5 1.5-1.5 1.5-1.5-1.5zM151 473.4l1.5 1.5-1.5 1.5-1.5-1.5zM221.5 420.5l1.5 1.5-1.5 1.5-1.5-1.5zM131.1 486.3l1.5 1.5-1.5 1.5-1.5-1.5zM152.4 479.5l1.5 1.5-1.5 1.5-1.5-1.5zM148.1 467.8l1.5 1.5-1.5 1.5-1.5-1.5zM222.2 418.9l1.5 1.5-1.5 1.5-1.5-1.5zM208.3 420.5l1.5 1.5-1.5 1.5-1.5-1.5zM210.4 407.9l1.5 1.5-1.5 1.5-1.5-1.5zM208.4 434.1l1.5 1.5-1.5 1.5-1.5-1.5zM164.4 462.3l1.5 1.5-1.5 1.5-1.5-1.5zM132.3 482l1.5 1.5-1.5 1.5-1.5-1.5zM173.9 465.4l1.5 1.5-1.5 1.5-1.5-1.5zM142.8 496.9l1.5 1.5-1.5 1.5-1.5-1.5zM207.3 442.6l1.5 1.5-1.5 1.5-1.5-1.5zM177.7 448.3l1.5 1.5-1.5 1.5-1.5-1.5zM203.7 435.7l1.5 1.5-1.5 1.5-1.5-1.5zM158.8 485.1l1.5 1.5-1.5 1.5-1.5-1.5zM132.5 482.8l1.5 1.5-1.5 1.5-1.5-1.5zM110.3 495.7l1.5 1.5-1.5 1.5-1.5-1.5zM140.6 503.6l1.5 1.5-1.5 1.5-1.5-1.5zM121.2 496.1l1.5 1.5-1.5 1.5-1.5-1.5zM162.7 438l1.5 1.5-1.5 1.5-1.5-1.5zM146.4 475.7l1.5 1.5-1.5 1.5-1.5-1.5zM196.2 449.9l1.5 1.5-1.5 1.5-1.5-1.5zM146.5 466.4l1.5 1.5-1.5 1.5-1.5-1.5zM137.5 466.2l1.5 1.5-1.5 1.5-1.5-1.5zM158.5 455.7l1.5 1.5-1.5 1.5-1.5-1.5zM139.8 485.3l1.5 1.5-1.5 1.5-1.5-1.5zM134.7 478.9l1.5 1.5-1.5 1.5-1.5-1.5zM197.4 445.8l1.5 1.5-1.5 1.5-1.5-1.5zM219.8 408l1.5 1.5-1.5 1.5-1.5-1.5zM188.7 431.3l1.5 1.5-1.5 1.5-1.5-1.5zM187.9 448.2l1.5 1.5-1.5 1.5-1.5-1.5zM120.6 512.8l1.5 1.5-1.5 1.5-1.5-1.5zM181.8 462.3l1.5 1.5-1.5 1.5-1.5-1.5zM224.2 415.2l1.5 1.5-1.5 1.5-1.5-1.5zM128.4 485.8l1.5 1.5-1.5 1.5-1.5-1.5zM135.5 473.9l1.5 1.5-1.5 1.5-1.5-1.5zM139.8 501.9l1.5 1.5-1.5 1.5-1.5-1.5zM172.6 453.4l1.5 1.5-1.5 1.5-1.5-1.5zM207.9 415.7l1.5 1.5-1.5 1.5-1.5-1.5zM155.4 470.3l1.5 1.5-1.5 1.5-1.5-1.5zM181.8 467.3l1.5 1.5-1.5 1.5-1.5-1.5zM164.4 472.5l1.5 1.5-1.5 1.5-1.5-1.5zM124.6 500.8l1.5 1.5-1.5 1.5-1.5-1.5zM139.8 476.3l1.5 1.5-1.5 1.5-1.5-1.5zM165.9 454.8l1.5 1.5-1.5 1.5-1.5-1.5zM158 446.1l1.5 1.5-1.5 1.5-1.5-1.5zM136.5 477.8l1.5 1.5-1.5 1.5-1.5-1.5zM174.3 464.3l1.5 1.5-1.5 1.5-1.5-1.5zM160.5 488.3l1.5 1.5-1.5 1.5-1.5-1.5zM197.3 422.9l1.5 1.5-1.5 1.5-1.5-1.5zM213.7 414.7l1.5 1.5-1.5 1.5-1.5-1.5zM202.8 430.6l1.5 1.5-1.5 1.5-1.5-1.5zM175.1 442.9l1.5 1.5-1.5 1.5-1.5-1.5zM158.8 479.6l1.5 1.5-1.5 1.5-1.5-1.5zM196.5 433.3l1.5 1.5-1.5 1.5-1.5-1.5zM155.5 485.2l1.5 1.5-1.5 1.5-1.5-1.5zM199.8 415.9l1.5 1.5-1.5 1.5-1.5-1.5zM155.8 462.7l1.5 1.5-1.5 1.5-1.5-1.5zM202.5 443.2l1.5 1.5-1.5 1.5-1.5-1.5zM179 450.3l1.5 1.5-1.5 1.5-1.5-1.5zM193.7 446.4l1.5 1.5-1.5 1.5-1.5-1.5zM166.2 427.7l1.5 1.5-1.5 1.5-1.5-1.5zM182.8 446.7l1.5 1.5-1.5 1.5-1.5-1.5zM218.4 425.9l1.5 1.5-1.5 1.5-1.5-1.5zM156.8 470.2l1.5 1.5-1.5 1.5-1.5-1.5zM217 421.3l1.5 1.5-1.5 1.5-1.5-1.5zM159.8 490l1.5 1.5-1.5 1.5-1.5-1.5zM183.4 450.3l1.5 1.5-1.5 1.5-1.5-1.5zM111.6 500.2l1.5 1.5-1.5 1.5-1.5-1.5zM194.4 439.5l1.5 1.5-1.5 1.5-1.5-1.5zM176.7 445l1.5 1.5-1.5 1.5-1.5-1.5zM174.9 444.5l1.5 1.5-1.5 1.5-1.5-1.5zM168.1 482.9l1.5 1.5-1.5 1.5-1.5-1.5zM143.9 481.6l1.5 1.5-1.5 1.5-1.5-1.5zM167.2 454.3l1.5 1.5-1.5 1.5-1.5-1.5zM129.9 470.5l1.5 1.5-1.5 1.5-1.5-1.5zM149.1 479.2l1.5 1.5-1.5 1.5-1.5-1.5zM117.2 499l1.5 1.5-1.5 1.5-1.5-1.5zM178.1 455.7l1.5 1.5-1.5 1.5-1.5-1.5zM157.6 474.9l1.5 1.5-1.5 1.5-1.5-1.5zM157.5 482.4l1.5 1.5-1.5 1.5-1.5-1.5zM168.9 445.2l1.5 1.5-1.5 1.5-1.5-1.5zM137.3 471.7l1.5 1.5-1.5 1.5-1.5-1.5zM162.8 465.7l1.5 1.5-1.5 1.5-1.5-1.5zM141.8 484.9l1.5 1.5-1.5 1.5-1.5-1.5zM141.7 503.7l1.5 1.5-1.5 1.5-1.5-1.5zM165.5 434.5l1.5 1.5-1.5 1.5-1.5-1.5zM225.5 402.8l1.5 1.5-1.5 1.5-1.5-1.5zM112.2 522.3l1.5 1.5-1.5 1.5-1.5-1.5zM174.6 447.7l1.5 1.5-1.5 1.5-1.5-1.5zM182.1 442.2l1.5 1.5-1.5 1.5-1.5-1.5zM137.9 468.5l1.5 1.5-1.5 1.5-1.5-1.5zM142.9 491.6l1.5 1.5-1.5 1.5-1.5-1.5zM200.4 431.6l1.5 1.5-1.5 1.5-1.5-1.5zM233.1 405.2l1.5 1.5-1.5 1.5-1.5-1.5zM165.3 477.6l1.5 1.5-1.5 1.5-1.5-1.5zM141 474l1.5 1.5-1.5 1.5-1.5-1.5zM137.4 507.5l1.5 1.5-1.5 1.5-1.5-1.5zM168 451.9l1.5 1.5-1.5 1.5-1.5-1.5zM107 518.5l1.5 1.5-1.5 1.5-1.5-1.5zM137.1 485.8l1.5 1.5-1.5 1.5-1.5-1.5zM166.8 478.6l1.5 1.5-1.5 1.5-1.5-1.5zM205.6 411.8l1.5 1.5-1.5 1.5-1.5-1.5zM166.2 484.6l1.5 1.5-1.5 1.5-1.5-1.5zM148.9 462.4l1.5 1.5-1.5 1.5-1.5-1.5zM193.4 447.2l1.5 1.5-1.5 1.5-1.5-1.5zM145 477.5l1.5 1.5-1.5 1.5-1.5-1.5zM135.9 502.6l1.5 1.5-1.5 1.5-1.5-1.5zM178.1 465.1l1.5 1.5-1.5 1.5-1.5-1.5zM214.7 419l1.5 1.5-1.5 1.5-1.5-1.5zM173.9 432.8l1.5 1.5-1.5 1.5-1.5-1.5zM177.6 461l1.5 1.5-1.5 1.5-1.5-1.5zM119.7 515.2l1.5 1.5-1.5 1.5-1.5-1.5zM128.2 494.5l1.5 1.5-1.5 1.5-1.5-1.5zM115.1 502l1.5 1.5-1.5 1.5-1.5-1.5zM180.6 462.7l1.5 1.5-1.5 1.5-1.5-1.5zM143.1 500l1.5 1.5-1.5 1.5-1.5-1.5zM213.7 432.7l1.5 1.5-1.5 1.5-1.5-1.5zM113.7 514.1l1.5 1.5-1.5 1.5-1.5-1.5zM163.5 461.6l1.5 1.5-1.5 1.5-1.5-1.5zM116.8 505l1.5 1.5-1.5 1.5-1.5-1.5zM140.5 503.9l1.5 1.5-1.5 1.5-1.5-1.5zM228.7 414.4l1.5 1.5-1.5 1.5-1.5-1.5zM131.8 506.9l1.5 1.5-1.5 1.5-1.5-1.5zM189.3 427.1l1.5 1.5-1.5 1.5-1.5-1.5zM147.2 492.6l1.5 1.5-1.5 1.5-1.5-1.5zM159.1 449.8l1.5 1.5-1.5 1.5-1.5-1.5zM131 474.8l1.5 1.5-1.5 1.5-1.5-1.5zM204.2 430.1l1.5 1.5-1.5 1.5-1.5-1.5zM198.7 432.2l1.5 1.5-1.5 1.5-1.5-1.5zM229.3 415.9l1.5 1.5-1.5 1.5-1.5-1.5zM121.9 514.5l1.5 1.5-1.5 1.5-1.5-1.5zM205.5 452.2l1.5 1.5-1.5 1.5-1.5-1.5zM164.6 478.7l1.5 1.5-1.5 1.5-1.5-1.5zM152.2 488.1l1.5 1.5-1.5 1.5-1.5-1.5zM154.7 459.7l1.5 1.5-1.5 1.5-1.5-1.5zM170 442.9l1.5 1.5-1.5 1.5-1.5-1.5zM114 489.4l1.5 1.5-1.5 1.5-1.5-1.5zM167.5 436.3l1.5 1.5-1.5 1.5-1.5-1.5zM168.7 480.1l1.5 1.5-1.5 1.5-1.5-1.5zM172.5 473.9l1.5 1.5-1.5 1.5-1.5-1.5zM223 422l1.5 1.5-1.5 1.5-1.5-1.5zM182.3 426.8l1.5 1.5-1.5 1.5-1.5-1.5zM120.2 493.6l1.5 1.5-1.5 1.5-1.5-1.5zM209.4 399.8l1.5 1.5-1.5 1.5-1.5-1.5zM140.2 490.1l1.5 1.5-1.5 1.5-1.5-1.5zM216.2 421.7l1.5 1.5-1.5 1.5-1.5-1.5zM155.8 478.5l1.5 1.5-1.5 1.5-1.5-1.5zM167.5 464.2l1.5 1.5-1.5 1.5-1.5-1.5zM173.6 470.4l1.5 1.5-1.5 1.5-1.5-1.5zM138.2 470.9l1.5 1.5-1.5 1.5-1.5-1.5zM162.8 448.2l1.5 1.5-1.5 1.5-1.5-1.5zM139.1 477.4l1.5 1.5-1.5 1.5-1.5-1.5zM188.2 445.1l1.5 1.5-1.5 1.5-1.5-1.5zM175.5 451.6l1.5 1.5-1.5 1.5-1.5-1.5zM190.4 454l1.5 1.5-1.5 1.5-1.5-1.5zM134.4 496.2l1.5 1.5-1.5 1.5-1.5-1.5zM171.8 465.4l1.5 1.5-1.5 1.5-1.5-1.5zM161.5 456l1.5 1.5-1.5 1.5-1.5-1.5zM122.4 494.8l1.5 1.5-1.5 1.5-1.5-1.5zM177 437.6l1.5 1.5-1.5 1.5-1.5-1.5zM203 448.6l1.5 1.5-1.5 1.5-1.5-1.5zM124.5 493.2l1.5 1.5-1.5 1.5-1.5-1.5zM180.4 434.9l1.5 1.5-1.5 1.5-1.5-1.5zM145.7 472.7l1.5 1.5-1.5 1.5-1.5-1.5zM221.3 413.6l1.5 1.5-1.5 1.5-1.5-1.5zM159 472.2l1.5 1.5-1.5 1.5-1.5-1.5zM147.9 471l1.5 1.5-1.5 1.5-1.5-1.5zM186.4 442.8l1.5 1.5-1.5 1.5-1.5-1.5zM206.6 440l1.5 1.5-1.5 1.5-1.5-1.5zM161.9 467.9l1.5 1.5-1.5 1.5-1.5-1.5zM148.6 465.8l1.5 1.5-1.5 1.5-1.5-1.5zM150.9 493.3l1.5 1.5-1.5 1.5-1.5-1.5zM177.7 450.5l1.5 1.5-1.5 1.5-1.5-1.5zM176.4 458.6l1.5 1.5-1.5 1.5-1.5-1.5zM201.6 433l1.5 1.5-1.5 1.5-1.5-1.5zM176.9 448.3l1.5 1.5-1.5 1.5-1.5-1.5zM198.1 418.6l1.5 1.5-1.5 1.5-1.5-1.5zM168.1 460.4l1.5 1.5-1.5 1.5-1.5-1.5zM217.2 418.3l1.5 1.5-1.5 1.5-1.5-1.5zM197.3 451.6l1.5 1.5-1.5 1.5-1.5-1.5zM202.6 406l1.5 1.5-1.5 1.5-1.5-1.5zM174 434.2l1.5 1.5-1.5 1.5-1.5-1.5zM166.6 447.7l1.5 1.5-1.5 1.5-1.5-1.5zM190.1 436.8l1.5 1.5-1.5 1.5-1.5-1.5zM131.1 468.6l1.5 1.5-1.5 1.5-1.5-1.5zM130.5 469.9l1.5 1.5-1.5 1.5-1.5-1.5zM131.3 480.3l1.5 1.5-1.5 1.5-1.5-1.5zM109.9 523l1.5 1.5-1.5 1.5-1.5-1.5zM176 448.1l1.5 1.5-1.5 1.5-1.5-1.5zM152.5 462l1.5 1.5-1.5 1.5-1.5-1.5zM176.8 453.3l1.5 1.5-1.5 1.5-1.5-1.5zM161.1 481.8l1.5 1.5-1.5 1.5-1.5-1.5zM209.5 430.5l1.5 1.5-1.5 1.5-1.5-1.5zM153.6 485l1.5 1.5-1.5 1.5-1.5-1.5zM199.2 450.8l1.5 1.5-1.5 1.5-1.5-1.5zM138.6 494.4l1.5 1.5-1.5 1.5-1.5-1.5zM228.8 414.2l1.5 1.5-1.5 1.5-1.5-1.5zM202.7 427.5l1.5 1.5-1.5 1.5-1.5-1.5zM158.8 450.8l1.5 1.5-1.5 1.5-1.5-1.5zM124.6 480.2l1.5 1.5-1.5 1.5-1.5-1.5zM154.7 473l1.5 1.5-1.5 1.5-1.5-1.5zM203.5 420.6l1.5 1.5-1.5 1.5-1.5-1.5zM189.4 434.2l1.5 1.5-1.5 1.5-1.5-1.5zM216.3 421.8l1.5 1.5-1.5 1.5-1.5-1.5zM168.5 452.7l1.5 1.5-1.5 1.5-1.5-1.5zM181.3 461.5l1.5 1.5-1.5 1.5-1.5-1.5zM131.8 486.6l1.5 1.5-1.5 1.5-1.5-1.5zM182.4 445.3l1.5 1.5-1.5 1.5-1.5-1.5zM197.7 429.5l1.5 1.5-1.5 1.5-1.5-1.5zM158.4 470.3l1.5 1.5-1.5 1.5-1.5-1.5zM221.2 426.2l1.5 1.5-1.5 1.5-1.5-1.5zM161.5 456.8l1.5 1.5-1.5 1.5-1.5-1.5zM144.1 473.2l1.5 1.5-1.5 1.5-1.5-1.5zM173 464.6l1.5 1.5-1.5 1.5-1.5-1.5zM166.7 466.4l1.5 1.5-1.5 1.5-1.5-1.5zM136.2 491.9l1.5 1.5-1.5 1.5-1.5-1.5zM155.2 480.8l1.5 1.5-1.5 1.5-1.5-1.5zM145.7 478.2l1.5 1.5-1.5 1.5-1.5-1.5zM220.4 418.4l1.5 1.5-1.5 1.5-1.5-1.5zM174 465.8l1.5 1.5-1.5 1.5-1.5-1.5zM186.7 448l1.5 1.5-1.5 1.5-1.5-1.5zM115.9 491.3l1.5 1.5-1.5 1.5-1.5-1.5zM180.6 432.9l1.5 1.5-1.5 1.5-1.5-1.5zM140 491.9l1.5 1.5-1.5 1.5-1.5-1.5zM205 408.9l1.5 1.5-1.5 1.5-1.5-1.5zM226.6 408.9l1.5 1.5-1.5 1.5-1.5-1.5zM170.5 464l1.5 1.5-1.5 1.5-1.5-1.5zM165.5 465.1l1.5 1.5-1.5 1.5-1.5-1.5zM154.3 489.5l1.5 1.5-1.5 1.5-1.5-1.5zM201.1 435.2l1.5 1.5-1.5 1.5-1.5-1.5zM168.8 482.5l1.5 1.5-1.5 1.5-1.5-1.5zM174.3 431.3l1.5 1.5-1.5 1.5-1.5-1.5zM178.5 449.5l1.5 1.5-1.5 1.5-1.5-1.5zM148.9 456.8l1.5 1.5-1.5 1.5-1.5-1.5zM162.4 485.9l1.5 1.5-1.5 1.5-1.5-1.5zM173.1 470.6l1.5 1.5-1.5 1.5-1.5-1.5zM139.5 497l1.5 1.5-1.5 1.5-1.5-1.5zM170.8 432.2l1.5 1.5-1.5 1.5-1.5-1.5zM167.5 463.1l1.5 1.5-1.5 1.5-1.5-1.5zM160.7 476.8l1.5 1.5-1.5 1.5-1.5-1.5zM211 430.8l1.5 1.5-1.5 1.5-1.5-1.5zM182.2 455.4l1.5 1.5-1.5 1.5-1.5-1.5zM180 461.7l1.5 1.5-1.5 1.5-1.5-1.5zM107.2 518.6l1.5 1.5-1.5 1.5-1.5-1.5zM144.4 499.5l1.5 1.5-1.5 1.5-1.5-1.5zM197.2 428.3l1.5 1.5-1.5 1.5-1.5-1.5zM204 451.5l1.5 1.5-1.5 1.5-1.5-1.5zM164.6 486.5l1.5 1.5-1.5 1.5-1.5-1.5zM128 498.6l1.5 1.5-1.5 1.5-1.5-1.5zM208.5 416.3l1.5 1.5-1.5 1.5-1.5-1.5zM163.3 444.8l1.5 1.5-1.5 1.5-1.5-1.5zM192.6 445.5l1.5 1.5-1.5 1.5-1.5-1.5zM133.6 497.7l1.5 1.5-1.5 1.5-1.5-1.5zM202.5 446.3l1.5 1.5-1.5 1.5-1.5-1.5zM125 494.3l1.5 1.5-1.5 1.5-1.5-1.5zM169.8 443.3l1.5 1.5-1.5 1.5-1.5-1.5zM220.9 422.4l1.5 1.5-1.5 1.5-1.5-1.5zM205.8 448.1l1.5 1.5-1.5 1.5-1.5-1.5zM225.8 406.5l1.5 1.5-1.5 1.5-1.5-1.5zM140.7 471.6l1.5 1.5-1.5 1.5-1.5-1.5zM179.6 462l1.5 1.5-1.5 1.5-1.5-1.5zM207.8 441.6l1.5 1.5-1.5 1.5-1.5-1.5zM161.1 451.9l1.5 1.5-1.5 1.5-1.5-1.5zM179.6 431.8l1.5 1.5-1.5 1.5-1.5-1.5zM163.9 459.5l1.5 1.5-1.5 1.5-1.5-1.5zM185 433.2l1.5 1.5-1.5 1.5-1.5-1.5zM208.1 424.1l1.5 1.5-1.5 1.5-1.5-1.5zM175.3 466l1.5 1.5-1.5 1.5-1.5-1.5zM196.1 437.6l1.5 1.5-1.5 1.5-1.5-1.5zM153.3 491.2l1.5 1.5-1.5 1.5-1.5-1.5zM204.2 427.4l1.5 1.5-1.5 1.5-1.5-1.5zM154.4 451.9l1.5 1.5-1.5 1.5-1.5-1.5zM138.2 477.6l1.5 1.5-1.5 1.5-1.5-1.5zM117.7 517.3l1.5 1.5-1.5 1.5-1.5-1.5zM151.1 492.6l1.5 1.5-1.5 1.5-1.5-1.5zM170.1 462.1l1.5 1.5-1.5 1.5-1.5-1.5zM152.9 455.3l1.5 1.5-1.5 1.5-1.5-1.5zM129.6 473.9l1.5 1.5-1.5 1.5-1.5-1.5zM172.3 478.6l1.5 1.5-1.5 1.5-1.5-1.5zM182.8 436.4l1.5 1.5-1.5 1.5-1.5-1.5zM198.1 433.6l1.5 1.5-1.5 1.5-1.5-1.5zM200.1 415.4l1.5 1.5-1.5 1.5-1.5-1.5zM168.5 477.1l1.5 1.5-1.5 1.5-1.5-1.5zM143.1 474.3l1.5 1.5-1.5 1.5-1.5-1.5zM179.8 464.2l1.5 1.5-1.5 1.5-1.5-1.5zM139.6 472.8l1.5 1.5-1.5 1.5-1.5-1.5zM128.5 498.1l1.5 1.5-1.5 1.5-1.5-1.5zM170.6 436.6l1.5 1.5-1.5 1.5-1.5-1.5zM150.2 472l1.5 1.5-1.5 1.5-1.5-1.5zM197.8 444.4l1.5 1.5-1.5 1.5-1.5-1.5zM157.4 474.8l1.5 1.5-1.5 1.5-1.5-1.5zM129.8 497.2l1.5 1.5-1.5 1.5-1.5-1.5zM147.1 474.9l1.5 1.5-1.5 1.5-1.5-1.5zM154.1 476.5l1.5 1.5-1.5 1.5-1.5-1.5zM166.8 462.6l1.5 1.5-1.5 1.5-1.5-1.5zM208.3 440.6l1.5 1.5-1.5 1.5-1.5-1.5zM146.6 485.5l1.5 1.5-1.5 1.5-1.5-1.5zM188.3 451.5l1.5 1.5-1.5 1.5-1.5-1.5zM176.1 446.4l1.5 1.5-1.5 1.5-1.5-1.5zM153.1 475.8l1.5 1.5-1.5 1.5-1.5-1.5zM171.8 461.3l1.5 1.5-1.5 1.5-1.5-1.5zM153.5 468.8l1.5 1.5-1.5 1.5-1.5-1.5zM120.3 519.4l1.5 1.5-1.5 1.5-1.5-1.5zM147 476.7l1.5 1.5-1.5 1.5-1.5-1.5zM186.6 440.6l1.5 1.5-1.5 1.5-1.5-1.5zM173 456.4l1.5 1.5-1.5 1.5-1.5-1.5zM175.3 451.8l1.5 1.5-1.5 1.5-1.5-1.5zM130.4 470.3l1.5 1.5-1.5 1.5-1.5-1.5zM153.9 475.5l1.5 1.5-1.5 1.5-1.5-1.5zM168.9 465.4l1.5 1.5-1.5 1.5-1.5-1.5zM191.6 425.3l1.5 1.5-1.5 1.5-1.5-1.5zM182.2 441.4l1.5 1.5-1.5 1.5-1.5-1.5zM210.1 427.7l1.5 1.5-1.5 1.5-1.5-1.5zM187.9 451.5l1.5 1.5-1.5 1.5-1.5-1.5zM168.3 461.8l1.5 1.5-1.5 1.5-1.5-1.5zM187.1 451.4l1.5 1.5-1.5 1.5-1.5-1.5zM125.6 505.8l1.5 1.5-1.5 1.5-1.5-1.5zM122 517.8l1.5 1.5-1.5 1.5-1.5-1.5zM161 476.9l1.5 1.5-1.5 1.5-1.5-1.5zM170.8 444.2l1.5 1.5-1.5 1.5-1.5-1.5zM169.6 441.9l1.5 1.5-1.5 1.5-1.5-1.5zM200.4 423.9l1.5 1.5-1.5 1.5-1.5-1.5zM175.2 451.7l1.5 1.5-1.5 1.5-1.5-1.5zM176.9 437.6l1.5 1.5-1.5 1.5-1.5-1.5zM137.2 481l1.5 1.5-1.5 1.5-1.5-1.5zM196.6 443.7l1.5 1.5-1.5 1.5-1.5-1.5zM179.1 440.5l1.5 1.5-1.5 1.5-1.5-1.5zM187.1 442.7l1.5 1.5-1.5 1.5-1.5-1.5zM197 426.6l1.5 1.5-1.5 1.5-1.5-1.5zM124.8 499l1.5 1.5-1.5 1.5-1.5-1.5zM203.6 432.7l1.5 1.5-1.5 1.5-1.5-1.5zM137.8 507.4l1.5 1.5-1.5 1.5-1.5-1.5zM121.1 482.7l1.5 1.5-1.5 1.5-1.5-1.5zM152.5 481.8l1.5 1.5-1.5 1.5-1.5-1.5zM119.9 507.8l1.5 1.5-1.5 1.5-1.5-1.5zM137.3 482l1.5 1.5-1.5 1.5-1.5-1.5zM189.5 434.8l1.5 1.5-1.5 1.5-1.5-1.5zM155.5 487.9l1.5 1.5-1.5 1.5-1.5-1.5zM159.1 458l1.5 1.5-1.5 1.5-1.5-1.5zM177.5 433.7l1.5 1.5-1.5 1.5-1.5-1.5zM161.4 457.2l1.5 1.5-1.5 1.5-1.5-1.5zM160.3 466l1.5 1.5-1.5 1.5-1.5-1.5zM137 470.8l1.5 1.5-1.5 1.5-1.5-1.5zM200.9 415.3l1.5 1.5-1.5 1.5-1.5-1.5zM207.8 435.1l1.5 1.5-1.5 1.5-1.5-1.5zM130.3 498.8l1.5 1.5-1.5 1.5-1.5-1.5zM124 507.9l1.5 1.5-1.5 1.5-1.5-1.5zM187.6 425.3l1.5 1.5-1.5 1.5-1.5-1.5zM189.6 437.8l1.5 1.5-1.5 1.5-1.5-1.5zM200.5 423.6l1.5 1.5-1.5 1.5-1.5-1.5zM172.9 445.1l1.5 1.5-1.5 1.5-1.5-1.5zM177 446.4l1.5 1.5-1.5 1.5-1.5-1.5zM189.1 430.5l1.5 1.5-1.5 1.5-1.5-1.5zM168.1 434l1.5 1.5-1.5 1.5-1.5-1.5zM187.2 441.5l1.5 1.5-1.5 1.5-1.5-1.5zM159.9 441.1l1.5 1.5-1.5 1.5-1.5-1.5zM187.9 431.1l1.5 1.5-1.5 1.5-1.5-1.5zM178.3 431.2l1.5 1.5-1.5 1.5-1.5-1.5zM167.4 476l1.5 1.5-1.5 1.5-1.5-1.5zM152 469.1l1.5 1.5-1.5 1.5-1.5-1.5zM152.3 452.4l1.5 1.5-1.5 1.5-1.5-1.5zM131.3 491.2l1.5 1.5-1.5 1.5-1.5-1.5zM168.3 460.2l1.5 1.5-1.5 1.5-1.5-1.5zM171.9 435.2l1.5 1.5-1.5 1.5-1.5-1.5zM181.2 449.6l1.5 1.5-1.5 1.5-1.5-1.5zM159.6 464.8l1.5 1.5-1.5 1.5-1.5-1.5zM162.4 472.3l1.5 1.5-1.5 1.5-1.5-1.5zM143.8 477.8l1.5 1.5-1.5 1.5-1.5-1.5zM144.3 462.6l1.5 1.5-1.5 1.5-1.5-1.5zM168.7 456.7l1.5 1.5-1.5 1.5-1.5-1.5zM164.1 443.1l1.5 1.5-1.5 1.5-1.5-1.5zM180.9 457.7l1.5 1.5-1.5 1.5-1.5-1.5zM132.2 486.5l1.5 1.5-1.5 1.5-1.5-1.5zM170.5 457.4l1.5 1.5-1.5 1.5-1.5-1.5zM194.2 446.8l1.5 1.5-1.5 1.5-1.5-1.5zM204.8 406.7l1.5 1.5-1.5 1.5-1.5-1.5zM164.1 453.8l1.5 1.5-1.5 1.5-1.5-1.5zM149.3 489.6l1.5 1.5-1.5 1.5-1.5-1.5zM170.2 478.3l1.5 1.5-1.5 1.5-1.5-1.5zM136.3 488.4l1.5 1.5-1.5 1.5-1.5-1.5zM122 493.5l1.5 1.5-1.5 1.5-1.5-1.5zM127.8 498.8l1.5 1.5-1.5 1.5-1.5-1.5zM167 446.3l1.5 1.5-1.5 1.5-1.5-1.5zM166.5 451l1.5 1.5-1.5 1.5-1.5-1.5zM119.3 487.7l1.5 1.5-1.5 1.5-1.5-1.5zM154.1 454.8l1.5 1.5-1.5 1.5-1.5-1.5zM210.7 434.1l1.5 1.5-1.5 1.5-1.5-1.5zM172.7 472.5l1.5 1.5-1.5 1.5-1.5-1.5zM179 467.1l1.5 1.5-1.5 1.5-1.5-1.5zM239 401.3l1.5 1.5-1.5 1.5-1.5-1.5zM131.8 470.7l1.5 1.5-1.5 1.5-1.5-1.5zM197 452.1l1.5 1.5-1.5 1.5-1.5-1.5zM147.7 465.5l1.5 1.5-1.5 1.5-1.5-1.5zM138.6 501.5l1.5 1.5-1.5 1.5-1.5-1.5zM147.7 457.7l1.5 1.5-1.5 1.5-1.5-1.5zM210.4 411.9l1.5 1.5-1.5 1.5-1.5-1.5zM178.6 435.3l1.5 1.5-1.5 1.5-1.5-1.5zM124.1 511.3l1.5 1.5-1.5 1.5-1.5-1.5zM211.5 441.9l1.5 1.5-1.5 1.5-1.5-1.5zM232.6 401.7l1.5 1.5-1.5 1.5-1.5-1.5zM111 491.7l1.5 1.5-1.5 1.5-1.5-1.5zM129.1 491.5l1.5 1.5-1.5 1.5-1.5-1.5zM116.9 485.6l1.5 1.5-1.5 1.5-1.5-1.5zM149.3 484.1l1.5 1.5-1.5 1.5-1.5-1.5zM165.2 487.7l1.5 1.5-1.5 1.5-1.5-1.5zM154.8 487.2l1.5 1.5-1.5 1.5-1.5-1.5zM128.6 483l1.5 1.5-1.5 1.5-1.5-1.5zM160.8 483.1l1.5 1.5-1.5 1.5-1.5-1.5zM208.1 422.7l1.5 1.5-1.5 1.5-1.5-1.5zM196.4 433.5l1.5 1.5-1.5 1.5-1.5-1.5zM204.8 426.7l1.5 1.5-1.5 1.5-1.5-1.5zM141.3 468.7l1.5 1.5-1.5 1.5-1.5-1.5zM190.1 438.5l1.5 1.5-1.5 1.5-1.5-1.5zM168.9 459.8l1.5 1.5-1.5 1.5-1.5-1.5zM161.2 479.2l1.5 1.5-1.5 1.5-1.5-1.5zM211.2 407.2l1.5 1.5-1.5 1.5-1.5-1.5zM150.2 467.3l1.5 1.5-1.5 1.5-1.5-1.5zM179.6 469.1l1.5 1.5-1.5 1.5-1.5-1.5zM154 472l1.5 1.5-1.5 1.5-1.5-1.5zM124.5 507.3l1.5 1.5-1.5 1.5-1.5-1.5zM130.6 485.4l1.5 1.5-1.5 1.5-1.5-1.5zM167.9 459l1.5 1.5-1.5 1.5-1.5-1.5zM209.3 447.1l1.5 1.5-1.5 1.5-1.5-1.5zM167 433.9l1.5 1.5-1.5 1.5-1.5-1.5zM185.5 425.9l1.5 1.5-1.5 1.5-1.5-1.5zM116.9 520.5l1.5 1.5-1.5 1.5-1.5-1.5zM207.7 429.9l1.5 1.5-1.5 1.5-1.5-1.5zM181.4 455.9l1.5 1.5-1.5 1.5-1.5-1.5zM159.9 464.2l1.5 1.5-1.5 1.5-1.5-1.5zM167.2 459.9l1.5 1.5-1.5 1.5-1.5-1.5zM200.6 434.4l1.5 1.5-1.5 1.5-1.5-1.5zM194.3 435.6l1.5 1.5-1.5 1.5-1.5-1.5zM163.2 458.4l1.5 1.5-1.5 1.5-1.5-1.5zM187.6 441.6l1.5 1.5-1.5 1.5-1.5-1.5zM183.9 426.7l1.5 1.5-1.5 1.5-1.5-1.5zM121.6 495.1l1.5 1.5-1.5 1.5-1.5-1.5zM157.4 477.7l1.5 1.5-1.5 1.5-1.5-1.5zM117.7 489.2l1.5 1.5-1.5 1.5-1.5-1.5zM178.3 433l1.5 1.5-1.5 1.5-1.5-1.5zM182.4 457l1.5 1.5-1.5 1.5-1.5-1.5zM204.4 435.1l1.5 1.5-1.5 1.5-1.5-1.5zM172.3 434.9l1.5 1.5-1.5 1.5-1.5-1.5zM117 514.2l1.5 1.5-1.5 1.5-1.5-1.5zM164.8 440.9l1.5 1.5-1.5 1.5-1.5-1.5zM172.1 435.8l1.5 1.5-1.5 1.5-1.5-1.5zM167.1 449.9l1.5 1.5-1.5 1.5-1.5-1.5zM167.7 438.4l1.5 1.5-1.5 1.5-1.5-1.5zM156.1 460.4l1.5 1.5-1.5 1.5-1.5-1.5zM142.8 470.7l1.5 1.5-1.5 1.5-1.5-1.5zM205.6 424.8l1.5 1.5-1.5 1.5-1.5-1.5zM165.7 465.5l1.5 1.5-1.5 1.5-1.5-1.5zM216.2 409.9l1.5 1.5-1.5 1.5-1.5-1.5zM72.1 525.9l1.5 1.5-1.5 1.5-1.5-1.5zM73.4 527.7l1.5 1.5-1.5 1.5-1.5-1.5zM80 522.4l1.5 1.5-1.5 1.5-1.5-1.5zM84.8 521.1l1.5 1.5-1.5 1.5-1.5-1.5zM83.5 523.8l1.5 1.5-1.5 1.5-1.5-1.5zM83.5 527.7l1.5 1.5-1.5 1.5-1.5-1.5zM92.7 524.2l1.5 1.5-1.5 1.5-1.5-1.5zM94.2 519.8l1.5 1.5-1.5 1.5-1.5-1.5zM87.8 527.7l1.5 1.5-1.5 1.5-1.5-1.5zM90 527.7l1.5 1.5-1.5 1.5-1.5-1.5zM89.1 529.4l1.5 1.5-1.5 1.5-1.5-1.5zM89.6 531.6l1.5 1.5-1.5 1.5-1.5-1.5zM88.7 532.9l1.5 1.5-1.5 1.5-1.5-1.5zM95.3 528.1l1.5 1.5-1.5 1.5-1.5-1.5zM97 527.7l1.5 1.5-1.5 1.5-1.5-1.5zM95.3 531.2l1.5 1.5-1.5 1.5-1.5-1.5zM95.7 532.9l1.5 1.5-1.5 1.5-1.5-1.5zM84.3 534.7l1.5 1.5-1.5 1.5-1.5-1.5zM94.4 536l1.5 1.5-1.5 1.5-1.5-1.5zM78.6 537.8l1.5 1.5-1.5 1.5-1.5-1.5zM72.1 540.8l1.5 1.5-1.5 1.5-1.5-1.5zM80.4 542.6l1.5 1.5-1.5 1.5-1.5-1.5zM89.2 539.5l1.5 1.5-1.5 1.5-1.5-1.5zM89.6 544.3l1.5 1.5-1.5 1.5-1.5-1.5zM92.7 547.4l1.5 1.5-1.5 1.5-1.5-1.5zM71.2 546.3l1.5 1.5-1.5 1.5-1.5-1.5zM76.5 555.7l1.5 1.5-1.5 1.5-1.5-1.5zM76.5 557.5l1.5 1.5-1.5 1.5-1.5-1.5zM101.8 535.6l1.5 1.5-1.5 1.5-1.5-1.5zM107.1 536l1.5 1.5-1.5 1.5-1.5-1.5zM99.7 521.1l1.5 1.5-1.5 1.5-1.5-1.5zM102.7 521.6l1.5 1.5-1.5 1.5-1.5-1.5zM104.5 522.4l1.5 1.5-1.5 1.5-1.5-1.5zM105.3 522.9l1.5 1.5-1.5 1.5-1.5-1.5zM102.3 526.8l1.5 1.5-1.5 1.5-1.5-1.5zM104 527.3l1.5 1.5-1.5 1.5-1.5-1.5zM109.3 526.4l1.5 1.5-1.5 1.5-1.5-1.5zM109.7 522l1.5 1.5-1.5 1.5-1.5-1.5zM112.8 522.9l1.5 1.5-1.5 1.5-1.5-1.5zM114.1 524.6l1.5 1.5-1.5 1.5-1.5-1.5zM109.3 518.9l1.5 1.5-1.5 1.5-1.5-1.5zM105.6 483.6l1.5 1.5-1.5 1.5-1.5-1.5zM111.5 481.8l1.5 1.5-1.5 1.5-1.5-1.5zM113.2 479.6l1.5 1.5-1.5 1.5-1.5-1.5zM104 492.3l1.5 1.5-1.5 1.5-1.5-1.5zM103.6 494.5l1.5 1.5-1.5 1.5-1.5-1.5zM105.3 496.3l1.5 1.5-1.5 1.5-1.5-1.5zM105.8 499.3l1.5 1.5-1.5 1.5-1.5-1.5zM102.7 502.4l1.5 1.5-1.5 1.5-1.5-1.5zM85.6 500.8l1.5 1.5-1.5 1.5-1.5-1.5zM90.2 500.2l1.5 1.5-1.5 1.5-1.5-1.5zM91.3 506.3l1.5 1.5-1.5 1.5-1.5-1.5zM97.5 499.8l1.5 1.5-1.5 1.5-1.5-1.5zM97.7 502l1.5 1.5-1.5 1.5-1.5-1.5zM97.9 504.1l1.5 1.5-1.5 1.5-1.5-1.5zM98.3 506.3l1.5 1.5-1.5 1.5-1.5-1.5zM98.8 508.1l1.5 1.5-1.5 1.5-1.5-1.5zM93.5 511l1.5 1.5-1.5 1.5-1.5-1.5zM96.2 512.9l1.5 1.5-1.5 1.5-1.5-1.5zM93.5 514.2l1.5 1.5-1.5 1.5-1.5-1.5zM99.7 511.6l1.5 1.5-1.5 1.5-1.5-1.5zM99.7 515.1l1.5 1.5-1.5 1.5-1.5-1.5zM89.2 517.7l1.5 1.5-1.5 1.5-1.5-1.5zM94.4 519l1.5 1.5-1.5 1.5-1.5-1.5zM103.2 517.3l1.5 1.5-1.5 1.5-1.5-1.5zM104 507.7l1.5 1.5-1.5 1.5-1.5-1.5zM108.4 491.9l1.5 1.5-1.5 1.5-1.5-1.5zM106.8 536.2l1.5 1.5-1.5 1.5-1.5-1.5zM123.4 534.8l1.5 1.5-1.5 1.5-1.5-1.5zM118.1 529.1l1.5 1.5-1.5 1.5-1.5-1.5zM118.1 531.6l1.5 1.5-1.5 1.5-1.5-1.5zM108.9 526.5l1.5 1.5-1.5 1.5-1.5-1.5zM116.4 524.8l1.5 1.5-1.5 1.5-1.5-1.5zM118.1 525.2l1.5 1.5-1.5 1.5-1.5-1.5zM126 519.5l1.5 1.5-1.5 1.5-1.5-1.5zM125.6 523l1.5 1.5-1.5 1.5-1.5-1.5zM129.1 525.2l1.5 1.5-1.5 1.5-1.5-1.5zM130.4 528.3l1.5 1.5-1.5 1.5-1.5-1.5zM131.3 521.3l1.5 1.5-1.5 1.5-1.5-1.5zM133 520.4l1.5 1.5-1.5 1.5-1.5-1.5zM135.6 518.2l1.5 1.5-1.5 1.5-1.5-1.5zM135.2 521.3l1.5 1.5-1.5 1.5-1.5-1.5zM136.5 524.3l1.5 1.5-1.5 1.5-1.5-1.5zM140.9 516.9l1.5 1.5-1.5 1.5-1.5-1.5zM145.3 515.8l1.5 1.5-1.5 1.5-1.5-1.5zM153 513.4l1.5 1.5-1.5 1.5-1.5-1.5zM151.4 507.3l1.5 1.5-1.5 1.5-1.5-1.5zM164.5 502l1.5 1.5-1.5 1.5-1.5-1.5zM137.8 510.3l1.5 1.5-1.5 1.5-1.5-1.5zM142.2 509.9l1.5 1.5-1.5 1.5-1.5-1.5zM128.6 514.3l1.5 1.5-1.5 1.5-1.5-1.5zM127.4 453.8l1.5 1.5-1.5 1.5-1.5-1.5zM135.3 449.7l1.5 1.5-1.5 1.5-1.5-1.5zM136.6 434l1.5 1.5-1.5 1.5-1.5-1.5zM140.5 452.3l1.5 1.5-1.5 1.5-1.5-1.5zM141.4 454.5l1.5 1.5-1.5 1.5-1.5-1.5zM143.6 449.7l1.5 1.5-1.5 1.5-1.5-1.5zM114.3 474l1.5 1.5-1.5 1.5-1.5-1.5zM113 479.5l1.5 1.5-1.5 1.5-1.5-1.5zM111.2 481.7l1.5 1.5-1.5 1.5-1.5-1.5zM105.5 483l1.5 1.5-1.5 1.5-1.5-1.5zM130.5 463.7l1.5 1.5-1.5 1.5-1.5-1.5zM132.7 459.8l1.5 1.5-1.5 1.5-1.5-1.5zM121.3 468.5l1.5 1.5-1.5 1.5-1.5-1.5zM123.9 468.5l1.5 1.5-1.5 1.5-1.5-1.5zM120 471.6l1.5 1.5-1.5 1.5-1.5-1.5zM122.1 471.2l1.5 1.5-1.5 1.5-1.5-1.5zM119.5 479l1.5 1.5-1.5 1.5-1.5-1.5zM124.8 475.5l1.5 1.5-1.5 1.5-1.5-1.5zM144.9 443.1l1.5 1.5-1.5 1.5-1.5-1.5zM147.5 444.9l1.5 1.5-1.5 1.5-1.5-1.5zM150.2 444l1.5 1.5-1.5 1.5-1.5-1.5zM151 441.8l1.5 1.5-1.5 1.5-1.5-1.5zM150.2 439.6l1.5 1.5-1.5 1.5-1.5-1.5zM151.9 436.6l1.5 1.5-1.5 1.5-1.5-1.5zM176.3 404.3l1.5 1.5-1.5 1.5-1.5-1.5zM172.8 413.3l1.5 1.5-1.5 1.5-1.5-1.5zM162.3 417.8l1.5 1.5-1.5 1.5-1.5-1.5zM166.3 421.6l1.5 1.5-1.5 1.5-1.5-1.5zM170.2 421.6l1.5 1.5-1.5 1.5-1.5-1.5zM162.8 424l1.5 1.5-1.5 1.5-1.5-1.5zM178.5 416.3l1.5 1.5-1.5 1.5-1.5-1.5zM180.7 417.7l1.5 1.5-1.5 1.5-1.5-1.5zM182.9 422.5l1.5 1.5-1.5 1.5-1.5-1.5zM190.8 407.1l1.5 1.5-1.5 1.5-1.5-1.5zM192.5 409.8l1.5 1.5-1.5 1.5-1.5-1.5zM199.5 404.1l1.5 1.5-1.5 1.5-1.5-1.5zM189 413.7l1.5 1.5-1.5 1.5-1.5-1.5zM191.7 413.7l1.5 1.5-1.5 1.5-1.5-1.5zM194.3 413.7l1.5 1.5-1.5 1.5-1.5-1.5zM185.5 419.4l1.5 1.5-1.5 1.5-1.5-1.5zM187.7 419.8l1.5 1.5-1.5 1.5-1.5-1.5zM189.9 420.3l1.5 1.5-1.5 1.5-1.5-1.5zM193.4 418.5l1.5 1.5-1.5 1.5-1.5-1.5zM227.8 359l1.5 1.5-1.5 1.5-1.5-1.5zM204.4 369.7l1.5 1.5-1.5 1.5-1.5-1.5zM214.8 374.5l1.5 1.5-1.5 1.5-1.5-1.5zM219.3 379.3l1.5 1.5-1.5 1.5-1.5-1.5zM232.5 372.8l1.5 1.5-1.5 1.5-1.5-1.5zM232.9 377.4l1.5 1.5-1.5 1.5-1.5-1.5zM237.7 379.1l1.5 1.5-1.5 1.5-1.5-1.5zM239 379.6l1.5 1.5-1.5 1.5-1.5-1.5zM242.5 379.1l1.5 1.5-1.5 1.5-1.5-1.5zM246.9 380.5l1.5 1.5-1.5 1.5-1.5-1.5zM249.5 367.8l1.5 1.5-1.5 1.5-1.5-1.5zM228.5 383.5l1.5 1.5-1.5 1.5-1.5-1.5zM234.2 382.7l1.5 1.5-1.5 1.5-1.5-1.5zM236 383.5l1.5 1.5-1.5 1.5-1.5-1.5zM237.7 383.5l1.5 1.5-1.5 1.5-1.5-1.5zM241.7 382.7l1.5 1.5-1.5 1.5-1.5-1.5zM244.3 384.6l1.5 1.5-1.5 1.5-1.5-1.5zM235.1 386.3l1.5 1.5-1.5 1.5-1.5-1.5zM237.7 387.7l1.5 1.5-1.5 1.5-1.5-1.5zM241.7 386.3l1.5 1.5-1.5 1.5-1.5-1.5zM246 389.9l1.5 1.5-1.5 1.5-1.5-1.5zM249.5 391l1.5 1.5-1.5 1.5-1.5-1.5zM222.2 388.2l1.5 1.5-1.5 1.5-1.5-1.5zM222.4 391.8l1.5 1.5-1.5 1.5-1.5-1.5zM223.3 392.7l1.5 1.5-1.5 1.5-1.5-1.5zM226.3 390.5l1.5 1.5-1.5 1.5-1.5-1.5zM228.5 392.7l1.5 1.5-1.5 1.5-1.5-1.5zM234.7 390.5l1.5 1.5-1.5 1.5-1.5-1.5zM210.1 393l1.5 1.5-1.5 1.5-1.5-1.5zM205.6 396.5l1.5 1.5-1.5 1.5-1.5-1.5zM210.6 396.8l1.5 1.5-1.5 1.5-1.5-1.5zM215.8 396.7l1.5 1.5-1.5 1.5-1.5-1.5zM218 394.5l1.5 1.5-1.5 1.5-1.5-1.5zM225 396.2l1.5 1.5-1.5 1.5-1.5-1.5zM226.8 394.9l1.5 1.5-1.5 1.5-1.5-1.5zM231.2 396.2l1.5 1.5-1.5 1.5-1.5-1.5zM233.3 395.8l1.5 1.5-1.5 1.5-1.5-1.5zM235.5 395.8l1.5 1.5-1.5 1.5-1.5-1.5zM238.2 395.3l1.5 1.5-1.5 1.5-1.5-1.5zM242.5 395.3l1.5 1.5-1.5 1.5-1.5-1.5zM243.9 397.1l1.5 1.5-1.5 1.5-1.5-1.5zM272.5 350.6l1.5 1.5-1.5 1.5-1.5-1.5zM285 354.9l1.5 1.5-1.5 1.5-1.5-1.5zM288 355.5l1.5 1.5-1.5 1.5-1.5-1.5zM306.6 348.8l1.5 1.5-1.5 1.5-1.5-1.5zM252.3 362l1.5 1.5-1.5 1.5-1.5-1.5zM250.6 367.9l1.5 1.5-1.5 1.5-1.5-1.5zM266.6 370.3l1.5 1.5-1.5 1.5-1.5-1.5zM271.8 375.8l1.5 1.5-1.5 1.5-1.5-1.5zM279.4 374.4l1.5 1.5-1.5 1.5-1.5-1.5zM291.7 375.8l1.5 1.5-1.5 1.5-1.5-1.5zM298.7 375l1.5 1.5-1.5 1.5-1.5-1.5zM252.6 378.2l1.5 1.5-1.5 1.5-1.5-1.5zM253.1 377.1l1.5 1.5-1.5 1.5-1.5-1.5zM253.1 383.6l1.5 1.5-1.5 1.5-1.5-1.5zM253.1 386.1l1.5 1.5-1.5 1.5-1.5-1.5zM261 385.7l1.5 1.5-1.5 1.5-1.5-1.5zM264.4 382.7l1.5 1.5-1.5 1.5-1.5-1.5zM269.6 380.3l1.5 1.5-1.5 1.5-1.5-1.5zM275.8 384.7l1.5 1.5-1.5 1.5-1.5-1.5zM273.6 389.5l1.5 1.5-1.5 1.5-1.5-1.5zM269.3 392.8l1.5 1.5-1.5 1.5-1.5-1.5zM263.9 388.4l1.5 1.5-1.5 1.5-1.5-1.5zM265 390.6l1.5 1.5-1.5 1.5-1.5-1.5zM264.4 393.3l1.5 1.5-1.5 1.5-1.5-1.5zM261.2 394.9l1.5 1.5-1.5 1.5-1.5-1.5zM262.8 396.5l1.5 1.5-1.5 1.5-1.5-1.5zM254.7 391.1l1.5 1.5-1.5 1.5-1.5-1.5zM256.3 396l1.5 1.5-1.5 1.5-1.5-1.5zM302 392.8l1.5 1.5-1.5 1.5-1.5-1.5zM261.2 398.4l1.5 1.5-1.5 1.5-1.5-1.5zM260.1 400l1.5 1.5-1.5 1.5-1.5-1.5zM255.8 400.8l1.5 1.5-1.5 1.5-1.5-1.5zM256.3 401.6l1.5 1.5-1.5 1.5-1.5-1.5zM263.4 401.9l1.5 1.5-1.5 1.5-1.5-1.5zM248.2 402.7l1.5 1.5-1.5 1.5-1.5-1.5zM249.3 403.2l1.5 1.5-1.5 1.5-1.5-1.5zM252 404.8l1.5 1.5-1.5 1.5-1.5-1.5zM246.1 407l1.5 1.5-1.5 1.5-1.5-1.5zM262.1 407.9l1.5 1.5-1.5 1.5-1.5-1.5zM253.1 409.7l1.5 1.5-1.5 1.5-1.5-1.5zM267.1 412.7l1.5 1.5-1.5 1.5-1.5-1.5zM248.8 412.4l1.5 1.5-1.5 1.5-1.5-1.5zM247.2 414.6l1.5 1.5-1.5 1.5-1.5-1.5zM249.3 415.1l1.5 1.5-1.5 1.5-1.5-1.5zM250.2 416.7l1.5 1.5-1.5 1.5-1.5-1.5zM254.2 416.2l1.5 1.5-1.5 1.5-1.5-1.5zM247.4 422.1l1.5 1.5-1.5 1.5-1.5-1.5zM294.7 404.3l1.5 1.5-1.5 1.5-1.5-1.5zM240.1 424.3l1.5 1.5-1.5 1.5-1.5-1.5zM237.9 427.4l1.5 1.5-1.5 1.5-1.5-1.5zM233.5 423.9l1.5 1.5-1.5 1.5-1.5-1.5zM235.3 424.8l1.5 1.5-1.5 1.5-1.5-1.5zM232.7 430l1.5 1.5-1.5 1.5-1.5-1.5zM233.5 432.7l1.5 1.5-1.5 1.5-1.5-1.5zM230 431.8l1.5 1.5-1.5 1.5-1.5-1.5zM228.7 433.5l1.5 1.5-1.5 1.5-1.5-1.5zM229.6 435.3l1.5 1.5-1.5 1.5-1.5-1.5zM230.9 434l1.5 1.5-1.5 1.5-1.5-1.5zM225.2 441.4l1.5 1.5-1.5 1.5-1.5-1.5zM230.9 445.8l1.5 1.5-1.5 1.5-1.5-1.5zM221.3 444l1.5 1.5-1.5 1.5-1.5-1.5zM221.3 446.2l1.5 1.5-1.5 1.5-1.5-1.5zM217.8 434.4l1.5 1.5-1.5 1.5-1.5-1.5zM218.6 437l1.5 1.5-1.5 1.5-1.5-1.5zM220.4 439.7l1.5 1.5-1.5 1.5-1.5-1.5zM216 443.2l1.5 1.5-1.5 1.5-1.5-1.5zM214.7 444l1.5 1.5-1.5 1.5-1.5-1.5zM225.6 430.9l1.5 1.5-1.5 1.5-1.5-1.5zM223.9 427.4l1.5 1.5-1.5 1.5-1.5-1.5zM243.2 409.9l1.5 1.5-1.5 1.5-1.5-1.5zM240.5 409l1.5 1.5-1.5 1.5-1.5-1.5zM238.8 411.6l1.5 1.5-1.5 1.5-1.5-1.5zM244.9 407.3l1.5 1.5-1.5 1.5-1.5-1.5zM237.9 415.1l1.5 1.5-1.5 1.5-1.5-1.5zM240.1 416.5l1.5 1.5-1.5 1.5-1.5-1.5zM242.7 416l1.5 1.5-1.5 1.5-1.5-1.5zM244 418.2l1.5 1.5-1.5 1.5-1.5-1.5zM234.8 417.8l1.5 1.5-1.5 1.5-1.5-1.5zM236.2 420.4l1.5 1.5-1.5 1.5-1.5-1.5zM215.7 449.6l1.5 1.5-1.5 1.5-1.5-1.5zM212.7 447.4l1.5 1.5-1.5 1.5-1.5-1.5zM228.4 457.5l1.5 1.5-1.5 1.5-1.5-1.5zM231.9 456.2l1.5 1.5-1.5 1.5-1.5-1.5zM217.9 470.6l1.5 1.5-1.5 1.5-1.5-1.5zM206.1 462.8l1.5 1.5-1.5 1.5-1.5-1.5zM202.1 468.9l1.5 1.5-1.5 1.5-1.5-1.5zM198.2 463.2l1.5 1.5-1.5 1.5-1.5-1.5zM197.3 467.1l1.5 1.5-1.5 1.5-1.5-1.5zM199.1 467.6l1.5 1.5-1.5 1.5-1.5-1.5zM193.8 470.6l1.5 1.5-1.5 1.5-1.5-1.5zM192.5 472.4l1.5 1.5-1.5 1.5-1.5-1.5zM190.8 479.4l1.5 1.5-1.5 1.5-1.5-1.5zM191.2 481.2l1.5 1.5-1.5 1.5-1.5-1.5zM194.3 481.2l1.5 1.5-1.5 1.5-1.5-1.5zM189 484.2l1.5 1.5-1.5 1.5-1.5-1.5zM182.9 481.2l1.5 1.5-1.5 1.5-1.5-1.5zM176.3 484.7l1.5 1.5-1.5 1.5-1.5-1.5zM178.5 476.8l1.5 1.5-1.5 1.5-1.5-1.5zM178.9 478.5l1.5 1.5-1.5 1.5-1.5-1.5zM186.4 473.3l1.5 1.5-1.5 1.5-1.5-1.5zM187.3 474.6l1.5 1.5-1.5 1.5-1.5-1.5zM182.9 469.8l1.5 1.5-1.5 1.5-1.5-1.5zM192.5 463.6l1.5 1.5-1.5 1.5-1.5-1.5zM201.3 458.8l1.5 1.5-1.5 1.5-1.5-1.5zM200.4 457.5l1.5 1.5-1.5 1.5-1.5-1.5zM208.7 458.8l1.5 1.5-1.5 1.5-1.5-1.5zM175.5 493.9l1.5 1.5-1.5 1.5-1.5-1.5zM176.8 494.3l1.5 1.5-1.5 1.5-1.5-1.5zM172.5 500.9l1.5 1.5-1.5 1.5-1.5-1.5zM165 501.8l1.5 1.5-1.5 1.5-1.5-1.5zM166.8 501.3l1.5 1.5-1.5 1.5-1.5-1.5zM168.5 493.5l1.5 1.5-1.5 1.5-1.5-1.5zM167.7 494.3l1.5 1.5-1.5 1.5-1.5-1.5zM163.3 492.1l1.5 1.5-1.5 1.5-1.5-1.5zM164.6 492.6l1.5 1.5-1.5 1.5-1.5-1.5zM158.9 497.8l1.5 1.5-1.5 1.5-1.5-1.5zM161.1 497.4l1.5 1.5-1.5 1.5-1.5-1.5zM156.3 496.1l1.5 1.5-1.5 1.5-1.5-1.5zM157.6 494.8l1.5 1.5-1.5 1.5-1.5-1.5zM152.3 498.7l1.5 1.5-1.5 1.5-1.5-1.5zM151.5 506.6l1.5 1.5-1.5 1.5-1.5-1.5zM148.8 501.8l1.5 1.5-1.5 1.5-1.5-1.5zM149.7 500.9l1.5 1.5-1.5 1.5-1.5-1.5zM144 507l1.5 1.5-1.5 1.5-1.5-1.5zM141.8 508.8l1.5 1.5-1.5 1.5-1.5-1.5zM138.8 510.5l1.5 1.5-1.5 1.5-1.5-1.5zM192 462.2l1.5 1.5-1.5 1.5-1.5-1.5zM189.1 461.6l1.5 1.5-1.5 1.5-1.5-1.5zM185.6 465.1l1.5 1.5-1.5 1.5-1.5-1.5zM185.3 467.4l1.5 1.5-1.5 1.5-1.5-1.5zM185.9 468.8l1.5 1.5-1.5 1.5-1.5-1.5zM190.2 465.9l1.5 1.5-1.5 1.5-1.5-1.5zM191.4 467.1l1.5 1.5-1.5 1.5-1.5-1.5zM192.8 467.9l1.5 1.5-1.5 1.5-1.5-1.5zM189.9 469.1l1.5 1.5-1.5 1.5-1.5-1.5zM192 469.4l1.5 1.5-1.5 1.5-1.5-1.5zM193.4 470l1.5 1.5-1.5 1.5-1.5-1.5zM194.8 470.3l1.5 1.5-1.5 1.5-1.5-1.5zM187.9 471.4l1.5 1.5-1.5 1.5-1.5-1.5zM187.6 474l1.5 1.5-1.5 1.5-1.5-1.5zM187.3 475.2l1.5 1.5-1.5 1.5-1.5-1.5zM184.7 476.3l1.5 1.5-1.5 1.5-1.5-1.5zM185.6 478.1l1.5 1.5-1.5 1.5-1.5-1.5zM179.2 474.9l1.5 1.5-1.5 1.5-1.5-1.5zM181.8 473.1l1.5 1.5-1.5 1.5-1.5-1.5zM183.3 474.3l1.5 1.5-1.5 1.5-1.5-1.5zM179 480.7l1.5 1.5-1.5 1.5-1.5-1.5zM178.7 482.7l1.5 1.5-1.5 1.5-1.5-1.5zM195.4 457l1.5 1.5-1.5 1.5-1.5-1.5zM197.2 455.8l1.5 1.5-1.5 1.5-1.5-1.5zM193.1 458.7l1.5 1.5-1.5 1.5-1.5-1.5zM202.4 455.8l1.5 1.5-1.5 1.5-1.5-1.5zM204.1 455.2l1.5 1.5-1.5 1.5-1.5-1.5zM188.5 459.3l1.5 1.5-1.5 1.5-1.5-1.5zM190.2 459.9l1.5 1.5-1.5 1.5-1.5-1.5zM186.8 462.7l1.5 1.5-1.5 1.5-1.5-1.5zM157.7 432.2l1.5 1.5-1.5 1.5-1.5-1.5zM158.3 437.1l1.5 1.5-1.5 1.5-1.5-1.5zM154.8 442.3l1.5 1.5-1.5 1.5-1.5-1.5zM160 445.2l1.5 1.5-1.5 1.5-1.5-1.5zM153.4 447.8l1.5 1.5-1.5 1.5-1.5-1.5zM156.3 446.6l1.5 1.5-1.5 1.5-1.5-1.5zM157.4 449.5l1.5 1.5-1.5 1.5-1.5-1.5zM164.4 430.4l1.5 1.5-1.5 1.5-1.5-1.5zM167.8 430.7l1.5 1.5-1.5 1.5-1.5-1.5zM169.6 429.9l1.5 1.5-1.5 1.5-1.5-1.5zM162.6 433.3l1.5 1.5-1.5 1.5-1.5-1.5zM163.8 435.1l1.5 1.5-1.5 1.5-1.5-1.5zM161.5 438.8l1.5 1.5-1.5 1.5-1.5-1.5z"/>
<ellipse cx="173.9" cy="458.8" rx="37.8" ry="32.2" fill="none" stroke="#ff0000" stroke-width="2.4"/>
<path d="M134.9 459.6H138.9" stroke="#000" stroke-width="2"/>
<path d="M210.5 459.4H214.5" stroke="#1a1a1a" stroke-width="1.3"/>
<path d="M174 424.9V428.9" stroke="#444" stroke-width="1.8"/>
<path d="M174.5 489.2V493.2" stroke="#1a1a1a" stroke-width="1.3"/>
<line x1="125.9" y1="405.9" x2="168.5" y2="452.7" stroke="#1a1aff" stroke-width="1.3"/><path d="M173.1 457.7L164.0 453.3L168.0 452.1L169.6 448.2Z" fill="#1a1aff"/>
<text x="80.4" y="402.7" font-family="Liberation Serif, serif" font-weight="bold" font-size="10" fill="#1a1aff" textLength="82" lengthAdjust="spacingAndGlyphs">true target position</text>
<line x1="214.6" y1="541.1" x2="191.5" y2="494.9" stroke="#ff1a1a" stroke-width="1.3"/><path d="M188.7 489.4L196.0 495.3L191.8 495.6L189.1 498.8Z" fill="#ff1a1a"/>
<text x="147.7" y="547.9" font-family="Liberation Serif, serif" font-weight="bold" font-size="10" fill="#ff1a1a" textLength="135.8" lengthAdjust="spacingAndGlyphs">radius of CEP equals to 157.69m</text>
</svg>
</body></html>
